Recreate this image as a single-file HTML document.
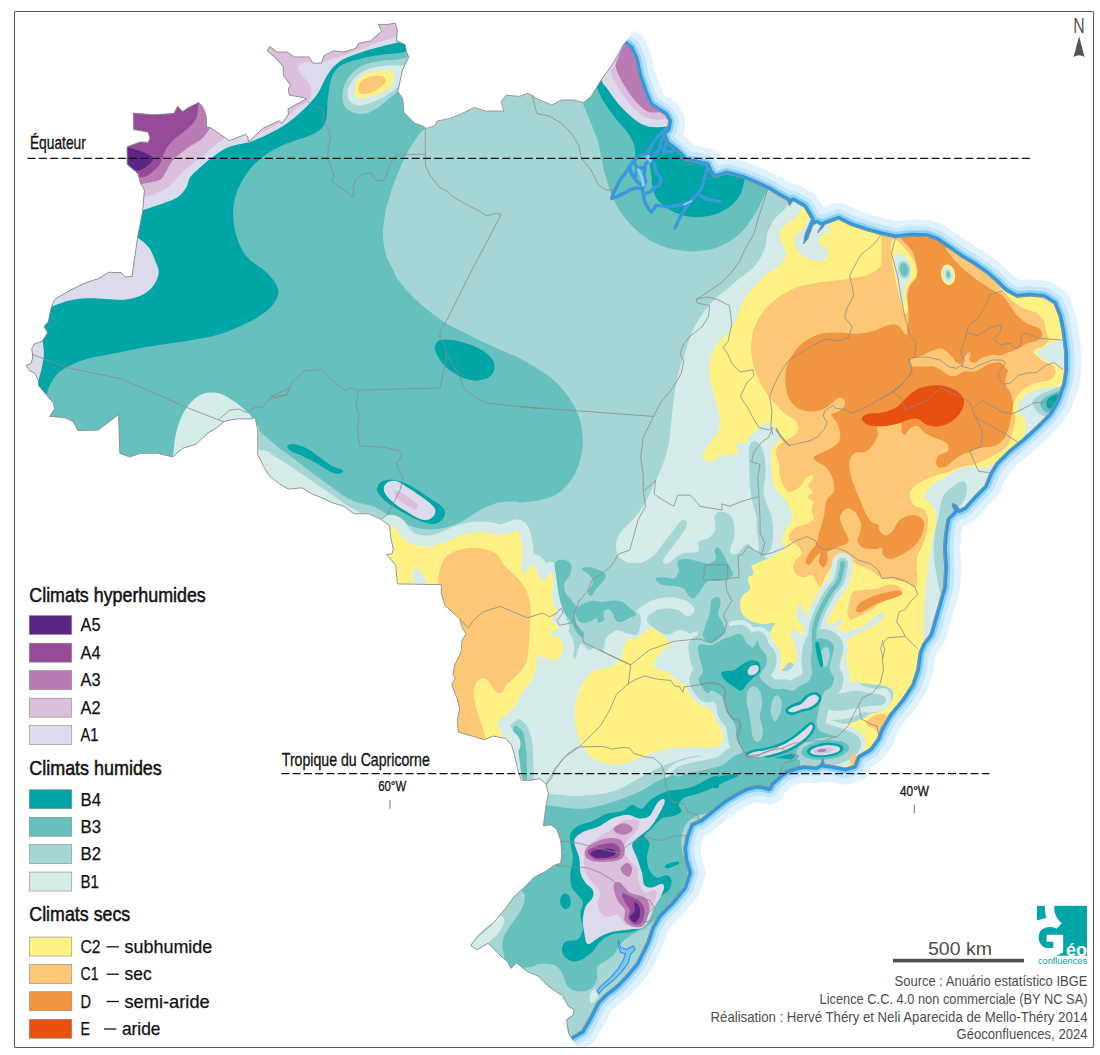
<!DOCTYPE html>
<html><head><meta charset="utf-8"><title>Climats du Brésil</title>
<style>
html,body{margin:0;padding:0;background:#fff;}
body{width:1100px;height:1055px;overflow:hidden;font-family:"Liberation Sans",sans-serif;}
svg{display:block;}
text{font-family:"Liberation Sans",sans-serif;}
</style></head><body>
<svg width="1100" height="1055" viewBox="0 0 1100 1055">
<defs>
<clipPath id="br"><path d="M133.3,113.1 L153.0,114.8 L173.9,113.6 L177.6,106.2 L182.6,111.6 L188.7,107.4 L198.6,102.5 L202.3,106.2 L206.0,114.8 L206.7,127.1 L210.9,127.9 L229.4,140.7 L245.4,134.5 L247.8,137.0 L248.6,141.9 L262.6,128.4 L278.6,121.0 L279.6,121.0 L282.0,123.4 L288.2,114.8 L288.2,108.7 L306.7,98.8 L303.0,97.6 L289.4,95.1 L288.2,89.0 L290.6,85.3 L283.3,75.4 L283.3,66.8 L274.6,56.9 L267.2,50.8 L269.7,46.6 L277.1,52.0 L286.9,52.0 L294.3,56.9 L309.1,56.9 L312.8,63.1 L321.4,63.1 L323.9,55.7 L333.7,50.8 L343.6,52.0 L355.9,48.3 L358.4,43.4 L370.7,40.9 L381.8,31.1 L378.1,24.4 L387.9,24.4 L395.3,23.0 L397.3,29.9 L396.6,40.9 L405.2,44.6 L406.4,52.0 L408.9,56.9 L402.7,69.3 L397.8,91.4 L402.7,98.8 L403.9,112.4 L415.0,123.4 L422.4,125.9 L426.1,128.4 L434.7,125.9 L437.2,121.0 L449.5,118.5 L461.8,113.6 L474.1,107.4 L486.5,111.1 L503.7,111.1 L501.2,101.3 L506.2,95.1 L519.7,96.4 L527.1,93.2 L532.0,95.1 L536.9,98.8 L551.7,105.0 L561.6,100.0 L573.9,100.0 L583.7,102.5 L591.1,96.4 L601.0,80.3 L610.8,66.8 L620.7,50.8 L624.4,43.4 L630.5,48.3 L635.5,59.4 L639.2,76.7 L645.3,93.9 L650.2,105.0 L657.6,109.9 L665.0,114.8 L668.7,121.0 L667.5,128.4 L662.6,133.3 L666.3,143.2 L672.4,148.1 L679.8,154.2 L684.7,160.4 L697.0,162.9 L706.9,165.3 L709.4,171.5 L714.3,177.6 L726.6,173.9 L741.4,177.6 L756.2,183.8 L769.7,190.0 L776.9,194.6 L788.0,200.8 L789.3,205.7 L793.0,200.8 L804.0,206.9 L811.4,219.3 L805.3,234.0 L803.5,243.9 L807.7,239.0 L812.7,225.4 L816.4,223.0 L821.3,225.4 L817.6,232.8 L822.5,227.9 L825.0,224.2 L838.5,219.3 L850.8,225.4 L865.6,230.3 L880.4,234.5 L895.2,237.7 L912.4,236.0 L927.2,236.5 L937.0,240.2 L949.4,248.8 L961.7,257.4 L974.0,264.8 L986.3,273.4 L996.2,282.1 L1004.8,290.7 L1016.9,297.3 L1029.7,296.0 L1043.7,297.3 L1054.0,303.7 L1059.1,316.5 L1062.1,331.9 L1064.7,352.3 L1064.7,370.2 L1062.9,383.0 L1056.5,400.9 L1048.8,413.7 L1036.1,426.5 L1022.0,439.3 L1007.9,450.8 L996.4,462.3 L990.0,472.6 L984.9,485.4 L974.3,496.1 L964.4,507.1 L959.5,509.6 L955.8,504.7 L952.1,504.7 L954.6,510.8 L947.2,518.2 L944.7,533.0 L943.5,547.8 L944.7,567.5 L943.5,587.2 L938.6,604.4 L933.6,621.7 L930.0,634.0 L922.6,643.8 L919.2,652.3 L916.7,669.6 L911.8,684.3 L902.0,699.1 L889.7,713.9 L881.0,728.7 L877.3,738.5 L870.0,748.4 L857.6,755.8 L853.9,765.6 L845.3,768.1 L833.0,765.6 L824.4,764.4 L822.7,758.2 L820.7,764.4 L815.8,766.8 L803.4,765.6 L793.6,768.1 L786.2,770.5 L781.3,774.2 L771.4,782.9 L769.0,787.8 L765.3,786.6 L756.7,785.3 L746.8,787.8 L736.9,792.7 L724.6,800.1 L712.3,810.0 L700.0,819.8 L691.2,823.4 L686.3,835.8 L683.8,848.1 L685.1,860.4 L688.8,872.7 L683.8,887.5 L671.5,902.3 L659.2,914.6 L651.8,926.9 L646.9,941.7 L636.4,962.9 L625.5,976.0 L614.6,986.9 L605.8,993.5 L597.1,1002.2 L590.6,1015.3 L581.8,1030.6 L570.9,1037.1 L568.7,1032.7 L566.6,1019.6 L573.1,1015.3 L574.2,1009.8 L568.7,1006.6 L562.2,995.6 L549.1,986.9 L538.2,976.0 L527.3,971.6 L516.4,962.9 L510.9,968.4 L507.6,961.8 L498.9,954.2 L488.0,943.3 L477.1,949.8 L470.5,945.5 L479.3,934.5 L494.5,921.5 L505.5,908.4 L514.2,896.4 L522.9,888.7 L531.6,880.0 L533.6,877.6 L543.4,872.7 L554.5,865.3 L560.7,862.9 L561.9,853.0 L560.7,840.7 L557.0,829.6 L550.8,824.7 L543.4,825.9 L545.9,806.2 L548.4,793.9 L545.9,784.0 L539.8,778.6 L531.1,780.3 L521.3,780.3 L517.6,769.3 L515.1,756.9 L511.4,744.6 L505.3,738.5 L493.0,736.0 L484.3,739.7 L472.0,736.0 L458.5,732.3 L457.2,720.0 L459.8,709.1 L457.3,699.2 L451.6,684.4 L455.6,678.3 L453.1,674.6 L454.8,664.7 L461.0,652.4 L462.2,640.1 L465.9,633.9 L462.2,627.8 L459.8,619.2 L456.1,615.5 L445.0,605.6 L441.3,593.3 L441.3,584.7 L397.4,583.9 L395.7,565.0 L386.6,554.6 L392.0,553.9 L393.3,549.0 L390.8,537.9 L389.6,525.6 L380.9,519.4 L368.5,513.7 L353.7,513.7 L343.9,506.3 L331.6,502.6 L321.7,497.7 L311.9,494.0 L302.0,487.8 L288.5,489.1 L279.9,484.1 L270.0,476.7 L263.8,466.9 L257.7,454.6 L257.7,430.0 L255.2,417.6 L250.3,418.9 L236.7,418.9 L224.4,421.3 L217.0,427.5 L207.2,433.6 L196.1,444.2 L182.6,448.4 L172.7,457.0 L157.9,453.3 L140.7,453.3 L129.6,457.0 L119.8,453.3 L118.5,414.7 L98.3,430.0 L77.9,430.7 L73.0,421.3 L64.3,417.6 L49.6,416.4 L54.5,409.0 L53.3,402.9 L45.9,394.2 L38.5,385.6 L38.5,380.7 L34.8,373.3 L29.9,370.8 L26.2,365.4 L31.1,363.4 L32.8,357.3 L31.8,348.7 L34.8,343.7 L42.2,341.3 L47.6,332.7 L44.1,326.5 L48.3,321.6 L50.8,309.3 L54.5,299.4 L69.3,290.8 L84.0,283.4 L98.8,278.5 L108.7,272.3 L121.0,272.8 L125.9,277.2 L132.1,276.0 L132.1,276.2 L137.7,236.7 L142.7,210.9 L144.4,190.0 L140.2,182.6 L138.2,173.9 L127.1,164.1 L127.1,146.8 L140.7,141.9 L148.1,142.4 L150.0,138.2 L148.1,132.1 L133.8,129.6Z"/></clipPath>
<clipPath id="sea"><path clip-rule="evenodd" d="M0,0H1100V1055H0Z M133.3,113.1 L153.0,114.8 L173.9,113.6 L177.6,106.2 L182.6,111.6 L188.7,107.4 L198.6,102.5 L202.3,106.2 L206.0,114.8 L206.7,127.1 L210.9,127.9 L229.4,140.7 L245.4,134.5 L247.8,137.0 L248.6,141.9 L262.6,128.4 L278.6,121.0 L279.6,121.0 L282.0,123.4 L288.2,114.8 L288.2,108.7 L306.7,98.8 L303.0,97.6 L289.4,95.1 L288.2,89.0 L290.6,85.3 L283.3,75.4 L283.3,66.8 L274.6,56.9 L267.2,50.8 L269.7,46.6 L277.1,52.0 L286.9,52.0 L294.3,56.9 L309.1,56.9 L312.8,63.1 L321.4,63.1 L323.9,55.7 L333.7,50.8 L343.6,52.0 L355.9,48.3 L358.4,43.4 L370.7,40.9 L381.8,31.1 L378.1,24.4 L387.9,24.4 L395.3,23.0 L397.3,29.9 L396.6,40.9 L405.2,44.6 L406.4,52.0 L408.9,56.9 L402.7,69.3 L397.8,91.4 L402.7,98.8 L403.9,112.4 L415.0,123.4 L422.4,125.9 L426.1,128.4 L434.7,125.9 L437.2,121.0 L449.5,118.5 L461.8,113.6 L474.1,107.4 L486.5,111.1 L503.7,111.1 L501.2,101.3 L506.2,95.1 L519.7,96.4 L527.1,93.2 L532.0,95.1 L536.9,98.8 L551.7,105.0 L561.6,100.0 L573.9,100.0 L583.7,102.5 L591.1,96.4 L601.0,80.3 L610.8,66.8 L620.7,50.8 L624.4,43.4 L630.5,48.3 L635.5,59.4 L639.2,76.7 L645.3,93.9 L650.2,105.0 L657.6,109.9 L665.0,114.8 L668.7,121.0 L667.5,128.4 L662.6,133.3 L666.3,143.2 L672.4,148.1 L679.8,154.2 L684.7,160.4 L697.0,162.9 L706.9,165.3 L709.4,171.5 L714.3,177.6 L726.6,173.9 L741.4,177.6 L756.2,183.8 L769.7,190.0 L776.9,194.6 L788.0,200.8 L789.3,205.7 L793.0,200.8 L804.0,206.9 L811.4,219.3 L805.3,234.0 L803.5,243.9 L807.7,239.0 L812.7,225.4 L816.4,223.0 L821.3,225.4 L817.6,232.8 L822.5,227.9 L825.0,224.2 L838.5,219.3 L850.8,225.4 L865.6,230.3 L880.4,234.5 L895.2,237.7 L912.4,236.0 L927.2,236.5 L937.0,240.2 L949.4,248.8 L961.7,257.4 L974.0,264.8 L986.3,273.4 L996.2,282.1 L1004.8,290.7 L1016.9,297.3 L1029.7,296.0 L1043.7,297.3 L1054.0,303.7 L1059.1,316.5 L1062.1,331.9 L1064.7,352.3 L1064.7,370.2 L1062.9,383.0 L1056.5,400.9 L1048.8,413.7 L1036.1,426.5 L1022.0,439.3 L1007.9,450.8 L996.4,462.3 L990.0,472.6 L984.9,485.4 L974.3,496.1 L964.4,507.1 L959.5,509.6 L955.8,504.7 L952.1,504.7 L954.6,510.8 L947.2,518.2 L944.7,533.0 L943.5,547.8 L944.7,567.5 L943.5,587.2 L938.6,604.4 L933.6,621.7 L930.0,634.0 L922.6,643.8 L919.2,652.3 L916.7,669.6 L911.8,684.3 L902.0,699.1 L889.7,713.9 L881.0,728.7 L877.3,738.5 L870.0,748.4 L857.6,755.8 L853.9,765.6 L845.3,768.1 L833.0,765.6 L824.4,764.4 L822.7,758.2 L820.7,764.4 L815.8,766.8 L803.4,765.6 L793.6,768.1 L786.2,770.5 L781.3,774.2 L771.4,782.9 L769.0,787.8 L765.3,786.6 L756.7,785.3 L746.8,787.8 L736.9,792.7 L724.6,800.1 L712.3,810.0 L700.0,819.8 L691.2,823.4 L686.3,835.8 L683.8,848.1 L685.1,860.4 L688.8,872.7 L683.8,887.5 L671.5,902.3 L659.2,914.6 L651.8,926.9 L646.9,941.7 L636.4,962.9 L625.5,976.0 L614.6,986.9 L605.8,993.5 L597.1,1002.2 L590.6,1015.3 L581.8,1030.6 L570.9,1037.1 L568.7,1032.7 L566.6,1019.6 L573.1,1015.3 L574.2,1009.8 L568.7,1006.6 L562.2,995.6 L549.1,986.9 L538.2,976.0 L527.3,971.6 L516.4,962.9 L510.9,968.4 L507.6,961.8 L498.9,954.2 L488.0,943.3 L477.1,949.8 L470.5,945.5 L479.3,934.5 L494.5,921.5 L505.5,908.4 L514.2,896.4 L522.9,888.7 L531.6,880.0 L533.6,877.6 L543.4,872.7 L554.5,865.3 L560.7,862.9 L561.9,853.0 L560.7,840.7 L557.0,829.6 L550.8,824.7 L543.4,825.9 L545.9,806.2 L548.4,793.9 L545.9,784.0 L539.8,778.6 L531.1,780.3 L521.3,780.3 L517.6,769.3 L515.1,756.9 L511.4,744.6 L505.3,738.5 L493.0,736.0 L484.3,739.7 L472.0,736.0 L458.5,732.3 L457.2,720.0 L459.8,709.1 L457.3,699.2 L451.6,684.4 L455.6,678.3 L453.1,674.6 L454.8,664.7 L461.0,652.4 L462.2,640.1 L465.9,633.9 L462.2,627.8 L459.8,619.2 L456.1,615.5 L445.0,605.6 L441.3,593.3 L441.3,584.7 L397.4,583.9 L395.7,565.0 L386.6,554.6 L392.0,553.9 L393.3,549.0 L390.8,537.9 L389.6,525.6 L380.9,519.4 L368.5,513.7 L353.7,513.7 L343.9,506.3 L331.6,502.6 L321.7,497.7 L311.9,494.0 L302.0,487.8 L288.5,489.1 L279.9,484.1 L270.0,476.7 L263.8,466.9 L257.7,454.6 L257.7,430.0 L255.2,417.6 L250.3,418.9 L236.7,418.9 L224.4,421.3 L217.0,427.5 L207.2,433.6 L196.1,444.2 L182.6,448.4 L172.7,457.0 L157.9,453.3 L140.7,453.3 L129.6,457.0 L119.8,453.3 L118.5,414.7 L98.3,430.0 L77.9,430.7 L73.0,421.3 L64.3,417.6 L49.6,416.4 L54.5,409.0 L53.3,402.9 L45.9,394.2 L38.5,385.6 L38.5,380.7 L34.8,373.3 L29.9,370.8 L26.2,365.4 L31.1,363.4 L32.8,357.3 L31.8,348.7 L34.8,343.7 L42.2,341.3 L47.6,332.7 L44.1,326.5 L48.3,321.6 L50.8,309.3 L54.5,299.4 L69.3,290.8 L84.0,283.4 L98.8,278.5 L108.7,272.3 L121.0,272.8 L125.9,277.2 L132.1,276.0 L132.1,276.2 L137.7,236.7 L142.7,210.9 L144.4,190.0 L140.2,182.6 L138.2,173.9 L127.1,164.1 L127.1,146.8 L140.7,141.9 L148.1,142.4 L150.0,138.2 L148.1,132.1 L133.8,129.6Z"/></clipPath>
<clipPath id="frame"><rect x="14.5" y="11.5" width="1079" height="1036"/></clipPath>
</defs>
<rect x="0" y="0" width="1100" height="1055" fill="#fff"/>
<!-- coastal halo -->
<g clip-path="url(#frame)"><g clip-path="url(#sea)" fill="none" stroke-linejoin="round" stroke-linecap="butt">
<path d="M624.4,43.4 L630.5,48.3 L635.5,59.4 L639.2,76.7 L645.3,93.9 L650.2,105.0 L657.6,109.9 L665.0,114.8 L668.7,121.0 L667.5,128.4 L662.6,133.3 L666.3,143.2 L672.4,148.1 L679.8,154.2 L684.7,160.4 L697.0,162.9 L706.9,165.3 L709.4,171.5 L714.3,177.6 L726.6,173.9 L741.4,177.6 L756.2,183.8 L769.7,190.0 L776.9,194.6 L788.0,200.8 L789.3,205.7 L793.0,200.8 L804.0,206.9 L811.4,219.3 L805.3,234.0 L803.5,243.9 L807.7,239.0 L812.7,225.4 L816.4,223.0 L821.3,225.4 L817.6,232.8 L822.5,227.9 L825.0,224.2 L838.5,219.3 L850.8,225.4 L865.6,230.3 L880.4,234.5 L895.2,237.7 L912.4,236.0 L927.2,236.5 L937.0,240.2 L949.4,248.8 L961.7,257.4 L974.0,264.8 L986.3,273.4 L996.2,282.1 L1004.8,290.7 L1016.9,297.3 L1029.7,296.0 L1043.7,297.3 L1054.0,303.7 L1059.1,316.5 L1062.1,331.9 L1064.7,352.3 L1064.7,370.2 L1062.9,383.0 L1056.5,400.9 L1048.8,413.7 L1036.1,426.5 L1022.0,439.3 L1007.9,450.8 L996.4,462.3 L990.0,472.6 L984.9,485.4 L974.3,496.1 L964.4,507.1 L959.5,509.6 L955.8,504.7 L952.1,504.7 L954.6,510.8 L947.2,518.2 L944.7,533.0 L943.5,547.8 L944.7,567.5 L943.5,587.2 L938.6,604.4 L933.6,621.7 L930.0,634.0 L922.6,643.8 L919.2,652.3 L916.7,669.6 L911.8,684.3 L902.0,699.1 L889.7,713.9 L881.0,728.7 L877.3,738.5 L870.0,748.4 L857.6,755.8 L853.9,765.6 L845.3,768.1 L833.0,765.6 L824.4,764.4 L822.7,758.2 L820.7,764.4 L815.8,766.8 L803.4,765.6 L793.6,768.1 L786.2,770.5 L781.3,774.2 L771.4,782.9 L769.0,787.8 L765.3,786.6 L756.7,785.3 L746.8,787.8 L736.9,792.7 L724.6,800.1 L712.3,810.0 L700.0,819.8 L691.2,823.4 L686.3,835.8 L683.8,848.1 L685.1,860.4 L688.8,872.7 L683.8,887.5 L671.5,902.3 L659.2,914.6 L651.8,926.9 L646.9,941.7 L636.4,962.9 L625.5,976.0 L614.6,986.9 L605.8,993.5 L597.1,1002.2 L590.6,1015.3 L581.8,1030.6 L570.9,1037.1" stroke="#e0f2fd" stroke-width="33"/>
<path d="M624.4,43.4 L630.5,48.3 L635.5,59.4 L639.2,76.7 L645.3,93.9 L650.2,105.0 L657.6,109.9 L665.0,114.8 L668.7,121.0 L667.5,128.4 L662.6,133.3 L666.3,143.2 L672.4,148.1 L679.8,154.2 L684.7,160.4 L697.0,162.9 L706.9,165.3 L709.4,171.5 L714.3,177.6 L726.6,173.9 L741.4,177.6 L756.2,183.8 L769.7,190.0 L776.9,194.6 L788.0,200.8 L789.3,205.7 L793.0,200.8 L804.0,206.9 L811.4,219.3 L805.3,234.0 L803.5,243.9 L807.7,239.0 L812.7,225.4 L816.4,223.0 L821.3,225.4 L817.6,232.8 L822.5,227.9 L825.0,224.2 L838.5,219.3 L850.8,225.4 L865.6,230.3 L880.4,234.5 L895.2,237.7 L912.4,236.0 L927.2,236.5 L937.0,240.2 L949.4,248.8 L961.7,257.4 L974.0,264.8 L986.3,273.4 L996.2,282.1 L1004.8,290.7 L1016.9,297.3 L1029.7,296.0 L1043.7,297.3 L1054.0,303.7 L1059.1,316.5 L1062.1,331.9 L1064.7,352.3 L1064.7,370.2 L1062.9,383.0 L1056.5,400.9 L1048.8,413.7 L1036.1,426.5 L1022.0,439.3 L1007.9,450.8 L996.4,462.3 L990.0,472.6 L984.9,485.4 L974.3,496.1 L964.4,507.1 L959.5,509.6 L955.8,504.7 L952.1,504.7 L954.6,510.8 L947.2,518.2 L944.7,533.0 L943.5,547.8 L944.7,567.5 L943.5,587.2 L938.6,604.4 L933.6,621.7 L930.0,634.0 L922.6,643.8 L919.2,652.3 L916.7,669.6 L911.8,684.3 L902.0,699.1 L889.7,713.9 L881.0,728.7 L877.3,738.5 L870.0,748.4 L857.6,755.8 L853.9,765.6 L845.3,768.1 L833.0,765.6 L824.4,764.4 L822.7,758.2 L820.7,764.4 L815.8,766.8 L803.4,765.6 L793.6,768.1 L786.2,770.5 L781.3,774.2 L771.4,782.9 L769.0,787.8 L765.3,786.6 L756.7,785.3 L746.8,787.8 L736.9,792.7 L724.6,800.1 L712.3,810.0 L700.0,819.8 L691.2,823.4 L686.3,835.8 L683.8,848.1 L685.1,860.4 L688.8,872.7 L683.8,887.5 L671.5,902.3 L659.2,914.6 L651.8,926.9 L646.9,941.7 L636.4,962.9 L625.5,976.0 L614.6,986.9 L605.8,993.5 L597.1,1002.2 L590.6,1015.3 L581.8,1030.6 L570.9,1037.1" stroke="#c5e6fb" stroke-width="19.5"/>
<path d="M624.4,43.4 L630.5,48.3 L635.5,59.4 L639.2,76.7 L645.3,93.9 L650.2,105.0 L657.6,109.9 L665.0,114.8 L668.7,121.0 L667.5,128.4 L662.6,133.3 L666.3,143.2 L672.4,148.1 L679.8,154.2 L684.7,160.4 L697.0,162.9 L706.9,165.3 L709.4,171.5 L714.3,177.6 L726.6,173.9 L741.4,177.6 L756.2,183.8 L769.7,190.0 L776.9,194.6 L788.0,200.8 L789.3,205.7 L793.0,200.8 L804.0,206.9 L811.4,219.3 L805.3,234.0 L803.5,243.9 L807.7,239.0 L812.7,225.4 L816.4,223.0 L821.3,225.4 L817.6,232.8 L822.5,227.9 L825.0,224.2 L838.5,219.3 L850.8,225.4 L865.6,230.3 L880.4,234.5 L895.2,237.7 L912.4,236.0 L927.2,236.5 L937.0,240.2 L949.4,248.8 L961.7,257.4 L974.0,264.8 L986.3,273.4 L996.2,282.1 L1004.8,290.7 L1016.9,297.3 L1029.7,296.0 L1043.7,297.3 L1054.0,303.7 L1059.1,316.5 L1062.1,331.9 L1064.7,352.3 L1064.7,370.2 L1062.9,383.0 L1056.5,400.9 L1048.8,413.7 L1036.1,426.5 L1022.0,439.3 L1007.9,450.8 L996.4,462.3 L990.0,472.6 L984.9,485.4 L974.3,496.1 L964.4,507.1 L959.5,509.6 L955.8,504.7 L952.1,504.7 L954.6,510.8 L947.2,518.2 L944.7,533.0 L943.5,547.8 L944.7,567.5 L943.5,587.2 L938.6,604.4 L933.6,621.7 L930.0,634.0 L922.6,643.8 L919.2,652.3 L916.7,669.6 L911.8,684.3 L902.0,699.1 L889.7,713.9 L881.0,728.7 L877.3,738.5 L870.0,748.4 L857.6,755.8 L853.9,765.6 L845.3,768.1 L833.0,765.6 L824.4,764.4 L822.7,758.2 L820.7,764.4 L815.8,766.8 L803.4,765.6 L793.6,768.1 L786.2,770.5 L781.3,774.2 L771.4,782.9 L769.0,787.8 L765.3,786.6 L756.7,785.3 L746.8,787.8 L736.9,792.7 L724.6,800.1 L712.3,810.0 L700.0,819.8 L691.2,823.4 L686.3,835.8 L683.8,848.1 L685.1,860.4 L688.8,872.7 L683.8,887.5 L671.5,902.3 L659.2,914.6 L651.8,926.9 L646.9,941.7 L636.4,962.9 L625.5,976.0 L614.6,986.9 L605.8,993.5 L597.1,1002.2 L590.6,1015.3 L581.8,1030.6 L570.9,1037.1" stroke="#8ecff5" stroke-width="11.5"/>
<path d="M624.4,43.4 L630.5,48.3 L635.5,59.4 L639.2,76.7 L645.3,93.9 L650.2,105.0 L657.6,109.9 L665.0,114.8 L668.7,121.0 L667.5,128.4 L662.6,133.3 L666.3,143.2 L672.4,148.1 L679.8,154.2 L684.7,160.4 L697.0,162.9 L706.9,165.3 L709.4,171.5 L714.3,177.6 L726.6,173.9 L741.4,177.6 L756.2,183.8 L769.7,190.0 L776.9,194.6 L788.0,200.8 L789.3,205.7 L793.0,200.8 L804.0,206.9 L811.4,219.3 L805.3,234.0 L803.5,243.9 L807.7,239.0 L812.7,225.4 L816.4,223.0 L821.3,225.4 L817.6,232.8 L822.5,227.9 L825.0,224.2 L838.5,219.3 L850.8,225.4 L865.6,230.3 L880.4,234.5 L895.2,237.7 L912.4,236.0 L927.2,236.5 L937.0,240.2 L949.4,248.8 L961.7,257.4 L974.0,264.8 L986.3,273.4 L996.2,282.1 L1004.8,290.7 L1016.9,297.3 L1029.7,296.0 L1043.7,297.3 L1054.0,303.7 L1059.1,316.5 L1062.1,331.9 L1064.7,352.3 L1064.7,370.2 L1062.9,383.0 L1056.5,400.9 L1048.8,413.7 L1036.1,426.5 L1022.0,439.3 L1007.9,450.8 L996.4,462.3 L990.0,472.6 L984.9,485.4 L974.3,496.1 L964.4,507.1 L959.5,509.6 L955.8,504.7 L952.1,504.7 L954.6,510.8 L947.2,518.2 L944.7,533.0 L943.5,547.8 L944.7,567.5 L943.5,587.2 L938.6,604.4 L933.6,621.7 L930.0,634.0 L922.6,643.8 L919.2,652.3 L916.7,669.6 L911.8,684.3 L902.0,699.1 L889.7,713.9 L881.0,728.7 L877.3,738.5 L870.0,748.4 L857.6,755.8 L853.9,765.6 L845.3,768.1 L833.0,765.6 L824.4,764.4 L822.7,758.2 L820.7,764.4 L815.8,766.8 L803.4,765.6 L793.6,768.1 L786.2,770.5 L781.3,774.2 L771.4,782.9 L769.0,787.8 L765.3,786.6 L756.7,785.3 L746.8,787.8 L736.9,792.7 L724.6,800.1 L712.3,810.0 L700.0,819.8 L691.2,823.4 L686.3,835.8 L683.8,848.1 L685.1,860.4 L688.8,872.7 L683.8,887.5 L671.5,902.3 L659.2,914.6 L651.8,926.9 L646.9,941.7 L636.4,962.9 L625.5,976.0 L614.6,986.9 L605.8,993.5 L597.1,1002.2 L590.6,1015.3 L581.8,1030.6 L570.9,1037.1" stroke="#2d9ae0" stroke-width="6.6"/>
</g></g>
<g clip-path="url(#br)">
<path d="M133.3,113.1 L153.0,114.8 L173.9,113.6 L177.6,106.2 L182.6,111.6 L188.7,107.4 L198.6,102.5 L202.3,106.2 L206.0,114.8 L206.7,127.1 L210.9,127.9 L229.4,140.7 L245.4,134.5 L247.8,137.0 L248.6,141.9 L262.6,128.4 L278.6,121.0 L279.6,121.0 L282.0,123.4 L288.2,114.8 L288.2,108.7 L306.7,98.8 L303.0,97.6 L289.4,95.1 L288.2,89.0 L290.6,85.3 L283.3,75.4 L283.3,66.8 L274.6,56.9 L267.2,50.8 L269.7,46.6 L277.1,52.0 L286.9,52.0 L294.3,56.9 L309.1,56.9 L312.8,63.1 L321.4,63.1 L323.9,55.7 L333.7,50.8 L343.6,52.0 L355.9,48.3 L358.4,43.4 L370.7,40.9 L381.8,31.1 L378.1,24.4 L387.9,24.4 L395.3,23.0 L397.3,29.9 L396.6,40.9 L405.2,44.6 L406.4,52.0 L408.9,56.9 L402.7,69.3 L397.8,91.4 L402.7,98.8 L403.9,112.4 L415.0,123.4 L422.4,125.9 L426.1,128.4 L434.7,125.9 L437.2,121.0 L449.5,118.5 L461.8,113.6 L474.1,107.4 L486.5,111.1 L503.7,111.1 L501.2,101.3 L506.2,95.1 L519.7,96.4 L527.1,93.2 L532.0,95.1 L536.9,98.8 L551.7,105.0 L561.6,100.0 L573.9,100.0 L583.7,102.5 L591.1,96.4 L601.0,80.3 L610.8,66.8 L620.7,50.8 L624.4,43.4 L630.5,48.3 L635.5,59.4 L639.2,76.7 L645.3,93.9 L650.2,105.0 L657.6,109.9 L665.0,114.8 L668.7,121.0 L667.5,128.4 L662.6,133.3 L666.3,143.2 L672.4,148.1 L679.8,154.2 L684.7,160.4 L697.0,162.9 L706.9,165.3 L709.4,171.5 L714.3,177.6 L726.6,173.9 L741.4,177.6 L756.2,183.8 L769.7,190.0 L776.9,194.6 L788.0,200.8 L789.3,205.7 L793.0,200.8 L804.0,206.9 L811.4,219.3 L805.3,234.0 L803.5,243.9 L807.7,239.0 L812.7,225.4 L816.4,223.0 L821.3,225.4 L817.6,232.8 L822.5,227.9 L825.0,224.2 L838.5,219.3 L850.8,225.4 L865.6,230.3 L880.4,234.5 L895.2,237.7 L912.4,236.0 L927.2,236.5 L937.0,240.2 L949.4,248.8 L961.7,257.4 L974.0,264.8 L986.3,273.4 L996.2,282.1 L1004.8,290.7 L1016.9,297.3 L1029.7,296.0 L1043.7,297.3 L1054.0,303.7 L1059.1,316.5 L1062.1,331.9 L1064.7,352.3 L1064.7,370.2 L1062.9,383.0 L1056.5,400.9 L1048.8,413.7 L1036.1,426.5 L1022.0,439.3 L1007.9,450.8 L996.4,462.3 L990.0,472.6 L984.9,485.4 L974.3,496.1 L964.4,507.1 L959.5,509.6 L955.8,504.7 L952.1,504.7 L954.6,510.8 L947.2,518.2 L944.7,533.0 L943.5,547.8 L944.7,567.5 L943.5,587.2 L938.6,604.4 L933.6,621.7 L930.0,634.0 L922.6,643.8 L919.2,652.3 L916.7,669.6 L911.8,684.3 L902.0,699.1 L889.7,713.9 L881.0,728.7 L877.3,738.5 L870.0,748.4 L857.6,755.8 L853.9,765.6 L845.3,768.1 L833.0,765.6 L824.4,764.4 L822.7,758.2 L820.7,764.4 L815.8,766.8 L803.4,765.6 L793.6,768.1 L786.2,770.5 L781.3,774.2 L771.4,782.9 L769.0,787.8 L765.3,786.6 L756.7,785.3 L746.8,787.8 L736.9,792.7 L724.6,800.1 L712.3,810.0 L700.0,819.8 L691.2,823.4 L686.3,835.8 L683.8,848.1 L685.1,860.4 L688.8,872.7 L683.8,887.5 L671.5,902.3 L659.2,914.6 L651.8,926.9 L646.9,941.7 L636.4,962.9 L625.5,976.0 L614.6,986.9 L605.8,993.5 L597.1,1002.2 L590.6,1015.3 L581.8,1030.6 L570.9,1037.1 L568.7,1032.7 L566.6,1019.6 L573.1,1015.3 L574.2,1009.8 L568.7,1006.6 L562.2,995.6 L549.1,986.9 L538.2,976.0 L527.3,971.6 L516.4,962.9 L510.9,968.4 L507.6,961.8 L498.9,954.2 L488.0,943.3 L477.1,949.8 L470.5,945.5 L479.3,934.5 L494.5,921.5 L505.5,908.4 L514.2,896.4 L522.9,888.7 L531.6,880.0 L533.6,877.6 L543.4,872.7 L554.5,865.3 L560.7,862.9 L561.9,853.0 L560.7,840.7 L557.0,829.6 L550.8,824.7 L543.4,825.9 L545.9,806.2 L548.4,793.9 L545.9,784.0 L539.8,778.6 L531.1,780.3 L521.3,780.3 L517.6,769.3 L515.1,756.9 L511.4,744.6 L505.3,738.5 L493.0,736.0 L484.3,739.7 L472.0,736.0 L458.5,732.3 L457.2,720.0 L459.8,709.1 L457.3,699.2 L451.6,684.4 L455.6,678.3 L453.1,674.6 L454.8,664.7 L461.0,652.4 L462.2,640.1 L465.9,633.9 L462.2,627.8 L459.8,619.2 L456.1,615.5 L445.0,605.6 L441.3,593.3 L441.3,584.7 L397.4,583.9 L395.7,565.0 L386.6,554.6 L392.0,553.9 L393.3,549.0 L390.8,537.9 L389.6,525.6 L380.9,519.4 L368.5,513.7 L353.7,513.7 L343.9,506.3 L331.6,502.6 L321.7,497.7 L311.9,494.0 L302.0,487.8 L288.5,489.1 L279.9,484.1 L270.0,476.7 L263.8,466.9 L257.7,454.6 L257.7,430.0 L255.2,417.6 L250.3,418.9 L236.7,418.9 L224.4,421.3 L217.0,427.5 L207.2,433.6 L196.1,444.2 L182.6,448.4 L172.7,457.0 L157.9,453.3 L140.7,453.3 L129.6,457.0 L119.8,453.3 L118.5,414.7 L98.3,430.0 L77.9,430.7 L73.0,421.3 L64.3,417.6 L49.6,416.4 L54.5,409.0 L53.3,402.9 L45.9,394.2 L38.5,385.6 L38.5,380.7 L34.8,373.3 L29.9,370.8 L26.2,365.4 L31.1,363.4 L32.8,357.3 L31.8,348.7 L34.8,343.7 L42.2,341.3 L47.6,332.7 L44.1,326.5 L48.3,321.6 L50.8,309.3 L54.5,299.4 L69.3,290.8 L84.0,283.4 L98.8,278.5 L108.7,272.3 L121.0,272.8 L125.9,277.2 L132.1,276.0 L132.1,276.2 L137.7,236.7 L142.7,210.9 L144.4,190.0 L140.2,182.6 L138.2,173.9 L127.1,164.1 L127.1,146.8 L140.7,141.9 L148.1,142.4 L150.0,138.2 L148.1,132.1 L133.8,129.6Z" fill="#a5d6d5"/>
<path fill="#66c0be" d="M426.1,128.4 C425.1,129.2 422.7,130.0 420.0,133.3 C417.3,136.6 413.4,142.3 410.1,148.1 C406.8,153.8 403.3,160.8 400.2,167.8 C397.1,174.8 394.1,182.6 391.6,190.0 C389.2,197.4 386.9,204.3 385.5,212.1 C384.1,219.9 382.8,229.3 383.0,236.7 C383.2,244.1 385.0,251.0 386.7,256.5 C388.4,262.0 391.3,266.0 393.2,269.9 C395.1,273.8 394.8,275.2 398.1,279.7 C401.4,284.2 407.6,291.6 412.9,296.9 C418.2,302.2 424.4,307.2 430.1,311.7 C435.8,316.2 441.2,320.3 447.3,324.0 C453.4,327.7 460.4,330.6 467.0,333.9 C473.6,337.2 480.1,340.6 486.7,343.7 C493.3,346.8 500.9,349.9 506.5,352.4 C512.0,354.9 514.9,355.8 520.0,358.5 C525.1,361.2 531.5,364.7 537.2,368.4 C543.0,372.1 549.1,375.8 554.5,380.7 C559.9,385.6 565.2,391.8 569.3,397.9 C573.4,404.0 576.9,410.6 579.1,417.6 C581.4,424.6 582.6,432.8 582.8,439.8 C583.0,446.8 582.1,452.9 580.3,459.5 C578.4,466.1 575.6,473.4 571.7,479.2 C567.8,484.9 562.2,490.5 556.9,494.0 C551.6,497.5 545.9,498.7 539.7,500.1 C533.6,501.5 523.9,502.4 520.0,502.6 C516.1,502.8 519.8,501.4 516.3,501.4 C512.8,501.4 504.9,501.4 499.1,502.6 C493.4,503.8 484.5,507.9 481.8,508.8 C479.1,509.8 485.0,507.1 483.2,508.3 C481.4,509.5 474.9,513.2 470.8,515.7 C466.7,518.2 463.0,521.1 458.5,523.1 C454.0,525.1 449.0,527.0 443.7,528.0 C438.4,529.0 432.2,529.7 426.5,529.3 C420.8,528.9 415.1,527.7 409.3,525.6 C403.6,523.5 397.8,520.0 392.0,516.9 C386.2,513.8 381.6,509.9 374.8,507.1 C368.0,504.3 359.7,504.3 351.3,500.1 C342.9,495.9 332.0,487.2 324.2,481.7 C316.4,476.2 311.1,471.8 304.5,466.9 C297.9,462.0 290.6,456.4 284.8,452.1 C279.1,447.8 271.0,441.8 270.0,441.0 C269.0,440.2 279.2,447.8 278.6,447.2 C278.0,446.6 270.0,440.6 266.3,437.3 C262.6,434.0 259.4,430.4 256.5,427.5 C253.6,424.6 250.3,421.3 249.1,420.1 L245.0,520.0 L0.0,520.0 L0.0,0.0 L440.0,0.0 L440.0,100.0Z"/>
<path fill="#00a5a5" d="M410.1,50.8 C408.1,51.2 402.3,52.7 397.8,53.3 C393.3,53.9 387.9,53.9 383.0,54.5 C378.1,55.1 373.1,55.9 368.2,56.9 C363.3,57.9 357.9,59.2 353.4,60.6 C348.9,62.0 344.4,63.5 341.1,65.6 C337.8,67.7 335.6,69.9 333.7,73.0 C331.8,76.1 331.0,79.3 330.0,84.0 C329.0,88.7 328.2,95.5 327.6,101.3 C327.0,107.0 327.4,114.0 326.4,118.5 C325.4,123.0 324.3,125.5 321.4,128.4 C318.5,131.3 313.6,133.8 309.1,135.8 C304.6,137.9 299.2,138.9 294.3,140.7 C289.4,142.5 284.5,144.3 279.6,146.8 C274.7,149.3 269.9,151.6 264.8,155.5 C259.7,159.4 253.8,164.0 249.1,170.2 C244.4,176.3 239.4,185.0 236.7,192.4 C234.0,199.8 233.1,207.2 233.1,214.6 C233.1,222.0 234.4,229.7 236.7,236.7 C238.9,243.7 241.7,250.6 246.6,256.5 C251.5,262.4 261.4,267.6 266.3,272.3 C271.2,277.0 274.2,280.9 276.2,284.6 C278.2,288.3 278.9,290.8 278.1,294.5 C277.3,298.2 274.8,302.9 271.2,306.8 C267.6,310.7 262.2,314.4 256.5,317.9 C250.8,321.4 243.3,324.8 236.7,327.7 C230.1,330.6 224.4,333.1 217.0,335.1 C209.6,337.2 200.6,338.6 192.4,340.0 C184.2,341.4 176.0,342.5 167.8,343.7 C159.6,344.9 151.4,345.9 143.2,347.4 C135.0,348.8 126.7,350.8 118.5,352.4 C110.3,354.0 101.3,355.5 93.9,357.3 C86.5,359.1 80.0,360.9 74.2,363.4 C68.5,365.9 63.3,368.8 59.4,372.1 C55.5,375.4 52.9,379.5 50.8,383.2 C48.7,386.9 47.6,390.9 46.6,394.2 C45.6,397.5 44.9,401.4 44.6,402.9 L0.0,420.0 L0.0,0.0 L420.0,0.0Z"/>
<path fill="#dddaec" d="M402.7,40.9 C401.7,41.2 399.9,41.9 396.6,42.7 C393.3,43.5 387.7,44.7 383.0,45.9 C378.3,47.1 373.1,48.5 368.2,50.0 C363.3,51.5 357.9,53.2 353.4,55.0 C348.9,56.8 344.8,58.2 341.1,60.6 C337.4,63.0 334.2,65.8 331.3,69.3 C328.4,72.8 325.9,77.9 323.9,81.6 C321.8,85.3 321.1,88.1 319.0,91.4 C316.9,94.7 314.9,97.6 311.6,101.3 C308.3,105.0 303.4,109.9 299.3,113.6 C295.2,117.3 291.0,120.5 286.9,123.4 C282.8,126.3 278.7,128.5 274.6,130.8 C270.5,133.1 266.4,135.2 262.3,137.0 C258.2,138.8 252.4,141.0 250.0,141.9 C247.6,142.8 251.2,141.6 247.8,142.4 C244.4,143.2 234.9,144.6 229.4,146.8 C223.9,149.0 219.5,152.0 214.6,155.5 C209.7,159.0 203.9,164.1 199.8,167.8 C195.7,171.5 192.2,174.3 190.0,177.6 C187.8,180.9 188.4,184.2 186.3,187.5 C184.2,190.8 181.5,194.6 177.6,197.3 C173.7,200.0 167.8,201.7 162.9,203.5 C158.0,205.3 152.2,207.0 148.1,208.4 C144.0,209.8 139.8,211.5 138.2,212.1 L100.0,215.0 L0.0,215.0 L0.0,0.0 L420.0,0.0Z"/>
<path fill="#dddaec" d="M133.3,234.3 C135.8,236.4 144.4,242.1 148.1,246.6 C151.8,251.1 153.7,257.1 155.5,261.4 C157.3,265.7 158.9,268.4 158.7,272.3 C158.5,276.2 156.8,280.9 154.2,284.6 C151.6,288.3 147.9,292.0 143.2,294.5 C138.5,297.0 132.1,298.7 125.9,299.4 C119.7,300.1 112.8,299.1 106.2,298.9 C99.6,298.7 92.7,297.9 86.5,298.2 C80.3,298.5 74.6,299.4 69.3,300.6 C64.0,301.8 58.6,304.2 54.5,305.6 C50.4,307.1 46.2,308.7 44.6,309.3 L20.0,300.0 L20.0,230.0Z"/>
<path fill="#dddaec" d="M43.4,336.4 C43.3,337.1 42.6,337.9 42.7,340.8 C42.8,343.7 44.0,349.4 43.9,353.6 C43.8,357.8 43.1,361.4 42.2,365.9 C41.3,370.4 39.3,377.4 38.5,380.7 C37.7,384.0 37.4,384.8 37.2,385.6 L0.0,400.0 L0.0,320.0Z"/>
<path fill="#dcbedd" d="M397.8,36.0 C397.4,36.2 397.8,36.4 395.3,37.2 C392.8,38.0 387.5,39.5 383.0,40.9 C378.5,42.3 373.1,44.0 368.2,45.9 C363.3,47.8 358.3,50.2 353.4,52.0 C348.5,53.8 343.2,55.5 338.7,56.9 C334.2,58.3 329.7,59.4 326.4,60.6 C323.1,61.8 321.9,64.1 319.0,64.3 C316.1,64.5 312.2,61.9 309.1,61.9 C306.0,61.9 302.4,63.1 300.5,64.3 C298.6,65.5 297.6,67.2 298.0,69.3 C298.4,71.4 301.1,74.2 303.0,76.7 C304.9,79.2 307.7,81.1 309.1,84.0 C310.5,86.9 311.8,91.0 311.6,93.9 C311.4,96.8 308.9,99.9 307.9,101.3 C306.9,102.7 307.7,101.1 305.4,102.5 C303.1,103.9 297.4,107.4 294.3,109.9 C291.2,112.4 289.8,114.8 286.9,117.3 C284.0,119.8 280.8,122.5 277.1,124.7 C273.4,127.0 268.5,129.0 264.8,130.8 C261.1,132.7 255.3,135.7 254.9,135.8 C254.5,135.9 263.8,130.1 262.6,131.3 C261.4,132.5 250.3,141.2 247.8,143.2 L240.0,100.0 L240.0,0.0 L420.0,0.0Z"/>
<path fill="#dcbedd" d="M225.7,135.8 C225.5,136.2 226.2,136.6 224.4,138.2 C222.6,139.8 218.3,142.5 214.6,145.6 C210.9,148.7 206.8,153.0 202.3,156.7 C197.8,160.4 191.6,164.3 187.5,167.8 C183.4,171.3 180.9,174.3 177.6,177.6 C174.3,180.9 171.9,184.6 167.8,187.5 C163.7,190.4 156.9,193.3 153.0,194.9 C149.1,196.5 146.9,196.3 144.4,196.8 C141.9,197.3 139.2,197.6 138.2,197.8 L80.0,200.0 L80.0,60.0 L230.0,60.0Z"/>
<path fill="#b97bb3" d="M210.1,124.7 C210.0,125.3 211.0,126.2 209.7,128.4 C208.4,130.7 206.0,134.9 202.3,138.2 C198.6,141.5 192.4,144.4 187.5,148.1 C182.6,151.8 176.4,156.3 172.7,160.4 C169.0,164.5 167.6,169.4 165.3,172.7 C163.1,176.0 162.9,178.2 159.2,180.1 C155.5,181.9 147.1,183.1 143.2,183.8 C139.3,184.5 137.0,184.4 135.8,184.5 L80.0,185.0 L80.0,60.0 L215.0,60.0Z"/>
<path fill="#954b97" d="M199.8,98.8 C199.6,99.4 199.2,99.2 198.6,102.5 C198.0,105.8 197.9,114.2 196.1,118.5 C194.2,122.8 191.4,124.7 187.5,128.4 C183.6,132.1 176.4,137.0 172.7,140.7 C169.0,144.4 167.6,146.4 165.3,150.5 C163.1,154.6 162.1,161.2 159.2,165.3 C156.3,169.4 151.2,173.1 148.1,175.2 C145.0,177.2 143.0,177.1 140.7,177.6 C138.4,178.1 135.5,178.0 134.5,178.1 L80.0,178.0 L80.0,60.0 L200.0,60.0Z"/>
<path fill="#5b2583" d="M123.4,148.1 C125.9,145.8 134.1,149.5 138.2,150.5 C142.3,151.5 145.6,152.8 148.1,154.2 C150.6,155.6 153.0,157.3 153.0,159.2 C153.0,161.0 150.6,163.4 148.1,165.3 C145.6,167.2 141.3,170.4 138.2,170.7 C135.1,171.0 132.1,168.4 129.6,167.3 C127.1,166.2 124.4,167.3 123.4,164.1 C122.4,160.9 120.9,150.4 123.4,148.1Z"/>
<path fill="#a5d6d5" d="M412.6,54.5 C412.6,49.6 410.1,56.1 407.6,56.9 C405.1,57.7 401.9,58.8 397.8,59.4 C393.7,60.0 388.3,59.8 383.0,60.6 C377.7,61.4 370.7,62.4 365.8,64.3 C360.9,66.1 356.9,68.4 353.4,71.7 C349.9,75.0 346.6,79.9 344.8,84.0 C343.0,88.1 342.4,92.7 342.4,96.4 C342.4,100.1 343.0,103.5 344.8,106.2 C346.6,108.9 349.9,111.2 353.4,112.4 C356.9,113.6 361.7,114.4 365.8,113.6 C369.9,112.8 374.0,110.1 378.1,107.4 C382.2,104.7 387.1,100.3 390.4,97.6 C393.7,94.9 394.9,93.2 397.8,91.4 C400.7,89.6 405.1,92.7 407.6,86.5 C410.1,80.3 412.6,59.4 412.6,54.5Z"/>
<path fill="#d5ebe9" d="M407.6,65.6 C407.4,62.9 404.8,65.6 401.5,65.6 C398.2,65.6 393.4,65.0 387.9,65.6 C382.3,66.2 373.5,67.4 368.2,69.3 C362.9,71.2 359.2,73.6 355.9,76.7 C352.6,79.8 349.7,84.0 348.5,87.7 C347.3,91.4 347.3,95.9 348.5,98.8 C349.7,101.7 352.6,104.2 355.9,105.0 C359.2,105.8 363.7,104.9 368.2,103.7 C372.7,102.5 378.5,100.0 383.0,97.6 C387.5,95.1 392.0,91.7 395.3,89.0 C398.6,86.3 400.6,85.5 402.7,81.6 C404.8,77.7 407.8,68.3 407.6,65.6Z"/>
<path fill="#fff285" d="M354.7,91.4 C354.9,88.9 355.2,84.5 357.1,81.6 C359.0,78.7 361.9,76.0 365.8,74.2 C369.7,72.4 376.2,70.9 380.5,70.5 C384.8,70.1 389.3,70.3 391.6,71.7 C393.9,73.1 394.7,76.2 394.1,79.1 C393.5,82.0 391.0,86.3 387.9,89.0 C384.8,91.7 379.7,93.5 375.6,95.1 C371.5,96.6 366.6,98.1 363.3,98.3 C360.0,98.5 357.3,97.6 355.9,96.4 C354.5,95.2 354.5,93.9 354.7,91.4Z"/>
<path fill="#fcc877" d="M358.4,89.0 C358.6,86.8 359.6,82.4 362.1,80.3 C364.6,78.2 369.7,76.8 373.2,76.2 C376.7,75.6 380.9,75.8 383.0,76.7 C385.1,77.6 386.3,79.5 385.5,81.6 C384.7,83.6 381.0,87.0 378.1,89.0 C375.2,91.0 371.1,92.7 368.2,93.4 C365.3,94.1 362.4,94.1 360.8,93.4 C359.2,92.7 358.2,91.2 358.4,89.0Z"/>
<path fill="#66c0be" d="M578.8,93.9 C579.4,95.3 580.5,97.6 582.5,102.5 C584.5,107.4 588.4,116.6 591.1,123.4 C593.8,130.2 596.5,135.8 598.5,143.2 C600.5,150.6 601.4,159.6 603.4,167.8 C605.4,176.0 607.9,185.0 610.8,192.4 C613.7,199.8 616.6,205.9 620.7,212.1 C624.8,218.3 630.2,224.5 635.5,229.4 C640.8,234.3 646.6,238.4 652.7,241.7 C658.9,245.0 665.8,247.5 672.4,249.1 C679.0,250.7 685.5,251.5 692.1,251.5 C698.7,251.5 705.6,250.7 711.8,249.1 C718.0,247.5 723.8,245.0 729.1,241.7 C734.4,238.4 739.3,234.3 743.8,229.4 C748.3,224.5 752.9,217.4 756.2,212.1 C759.5,206.8 761.7,201.0 763.5,197.3 C765.3,193.6 766.0,192.4 767.2,190.0 C768.4,187.6 770.3,183.8 770.9,182.6 L800.0,150.0 L800.0,0.0 L560.0,0.0Z"/>
<path fill="#00a5a5" d="M594.8,82.8 C595.2,83.6 595.9,84.6 597.3,87.7 C598.7,90.8 600.3,96.2 603.4,101.3 C606.5,106.4 611.7,113.2 615.8,118.5 C619.9,123.8 625.0,128.8 628.1,133.3 C631.2,137.8 632.8,141.1 634.2,145.6 C635.6,150.1 634.4,156.7 636.7,160.4 C639.0,164.1 645.1,163.3 647.8,167.8 C650.5,172.3 651.1,182.2 652.7,187.5 C654.3,192.8 654.7,196.1 657.6,199.8 C660.5,203.5 665.5,207.0 670.0,209.7 C674.5,212.4 679.8,214.6 684.7,215.8 C689.6,217.0 694.6,217.2 699.5,217.0 C704.4,216.8 709.4,216.2 714.3,214.6 C719.2,213.0 724.8,210.5 729.1,207.2 C733.4,203.9 737.6,199.2 740.1,194.9 C742.6,190.6 743.5,185.0 744.3,181.3 C745.1,177.6 745.0,174.1 745.1,172.7 L800.0,150.0 L800.0,0.0 L560.0,0.0Z"/>
<path fill="#66c0be" d="M612.1,198.6 C611.7,196.8 618.0,189.7 620.7,185.0 C623.4,180.3 625.6,174.3 628.1,170.2 C630.6,166.1 632.2,163.1 635.5,160.4 C638.8,157.7 645.3,153.0 647.8,154.2 C650.2,155.4 649.6,163.1 650.2,167.8 C650.8,172.5 652.3,178.5 651.5,182.6 C650.7,186.7 648.4,190.8 645.3,192.4 C642.2,194.0 636.7,191.8 633.0,192.4 C629.3,193.0 626.7,195.1 623.2,196.1 C619.7,197.1 612.5,200.4 612.1,198.6Z"/>
<path fill="#dddaec" d="M608.4,69.3 C608.0,69.9 607.0,71.2 605.9,73.0 C604.8,74.8 601.1,77.4 601.5,80.3 C601.9,83.2 605.6,86.3 608.4,90.2 C611.2,94.1 614.5,99.4 618.2,103.7 C621.9,108.0 626.8,112.8 630.5,116.1 C634.2,119.4 636.7,121.6 640.4,123.4 C644.1,125.2 648.2,126.6 652.7,127.1 C657.2,127.6 663.4,126.6 667.5,126.4 C671.6,126.2 675.7,126.0 677.3,125.9 L800.0,150.0 L800.0,0.0 L560.0,0.0Z"/>
<path fill="#dcbedd" d="M615.8,63.1 C615.4,63.7 614.1,65.1 613.3,66.8 C612.5,68.5 610.4,70.1 610.8,73.0 C611.2,75.9 613.3,79.7 615.8,84.0 C618.3,88.3 622.3,94.5 625.6,98.8 C628.9,103.1 632.2,106.8 635.5,109.9 C638.8,113.0 641.6,115.7 645.3,117.3 C649.0,118.9 653.9,119.6 657.6,119.8 C661.3,120.0 664.2,118.9 667.5,118.5 C670.8,118.1 675.7,117.5 677.3,117.3 L800.0,150.0 L800.0,0.0 L560.0,0.0Z"/>
<path fill="#b97bb3" d="M625.6,39.7 C625.2,40.7 624.2,43.4 623.2,45.9 C622.2,48.4 620.7,51.2 619.5,54.5 C618.3,57.8 615.8,61.9 615.8,65.6 C615.8,69.3 617.5,72.4 619.5,76.7 C621.5,81.0 625.0,86.9 628.1,91.4 C631.2,95.9 634.6,100.3 637.9,103.7 C641.2,107.1 644.5,110.1 647.8,111.6 C651.1,113.0 653.5,112.5 657.6,112.4 C661.7,112.3 669.9,111.3 672.4,111.1 L800.0,150.0 L800.0,0.0 L560.0,0.0Z"/>
<path fill="#d5ebe9" d="M789.3,199.6 C789.1,200.2 788.8,201.7 788.0,203.3 C787.2,204.9 786.5,206.7 784.3,209.4 C782.0,212.1 777.4,215.2 774.5,219.3 C771.6,223.4 768.8,229.1 767.1,234.0 C765.5,238.9 766.7,243.5 764.6,248.8 C762.5,254.2 758.9,261.2 754.8,266.1 C750.7,271.0 741.4,277.4 740.0,278.4 C738.6,279.4 748.4,270.9 746.6,272.3 C744.8,273.8 734.7,282.6 729.4,287.1 C724.1,291.6 719.1,294.9 714.6,299.4 C710.1,303.9 706.0,308.9 702.3,314.2 C698.6,319.5 695.3,324.8 692.4,331.4 C689.5,338.0 687.5,346.2 685.0,353.6 C682.5,361.0 679.5,368.4 677.6,375.8 C675.8,383.2 674.9,390.5 673.9,397.9 C672.9,405.3 672.3,412.7 671.5,420.1 C670.7,427.5 670.4,434.9 669.0,442.3 C667.6,449.7 665.6,457.0 662.9,464.4 C660.2,471.8 656.3,479.6 653.0,486.6 C649.7,493.6 647.1,500.2 643.2,506.3 C639.3,512.4 633.4,518.9 629.7,523.1 C626.0,527.3 623.4,528.2 621.1,531.7 C618.9,535.2 616.6,539.9 616.2,544.0 C615.8,548.1 616.4,553.1 618.6,556.4 C620.9,559.7 628.3,562.7 629.7,563.7 C631.1,564.7 625.1,562.7 627.1,562.5 C629.1,562.3 637.4,563.7 641.9,562.5 C646.4,561.3 650.9,558.0 654.2,555.1 C657.5,552.2 658.7,549.0 661.6,545.3 C664.5,541.6 668.1,537.1 671.4,533.0 C674.7,528.9 678.8,522.5 681.3,520.6 C683.8,518.8 686.1,520.5 686.7,521.9 C687.3,523.3 686.7,526.0 685.0,529.3 C683.3,532.6 679.7,537.1 676.4,541.6 C673.1,546.1 667.6,553.1 665.3,556.4 C663.0,559.7 662.4,560.1 662.8,561.3 C663.2,562.5 664.6,564.9 667.7,563.7 C670.8,562.5 676.2,556.0 681.3,553.9 C686.4,551.8 695.6,553.4 698.5,551.4 C701.4,549.4 696.9,543.9 698.5,541.6 C700.1,539.4 705.5,540.0 708.4,537.9 C711.3,535.8 714.8,532.8 715.8,529.3 C716.8,525.8 713.7,519.8 714.5,516.9 C715.3,514.0 718.2,512.4 720.7,512.0 C723.2,511.6 727.0,512.5 729.3,514.5 C731.5,516.5 733.8,520.6 734.2,524.3 C734.6,528.0 733.0,533.0 731.8,536.7 C730.6,540.4 727.0,543.6 726.8,546.5 C726.6,549.4 728.6,552.9 730.5,553.9 C732.4,554.9 735.0,554.4 737.9,552.7 C740.8,551.1 744.5,543.8 747.8,544.0 C751.1,544.2 753.5,551.4 757.6,553.9 C761.7,556.4 767.5,559.2 772.4,558.8 C777.3,558.4 784.7,552.6 787.2,551.4 L850.0,560.0 L850.0,200.0Z"/>
<path fill="#a5d6d5" d="M754.1,441.1 C752.1,441.4 749.9,444.6 749.1,447.9 C748.2,451.2 749.0,456.2 749.0,460.7 C749.1,465.2 749.3,469.7 749.5,475.0 C749.7,480.3 749.8,487.2 750.5,492.5 C751.2,497.8 752.7,502.4 753.7,506.8 C754.8,511.1 756.1,514.1 756.6,518.4 C757.2,522.6 756.6,527.7 757.0,532.3 C757.4,536.8 759.1,542.1 759.1,545.8 C759.2,549.5 757.5,552.4 757.4,554.5 C757.3,556.7 757.7,558.1 758.5,558.6 C759.4,559.1 760.6,559.2 762.6,557.5 C764.7,555.7 769.1,552.5 770.9,548.2 C772.6,543.9 772.9,537.2 773.0,531.7 C773.1,526.3 772.5,520.4 771.4,515.6 C770.3,510.9 767.6,507.3 766.3,503.2 C764.9,499.2 763.6,496.2 763.5,491.5 C763.4,486.8 765.3,480.4 765.5,475.0 C765.7,469.6 765.7,464.1 765.0,459.3 C764.2,454.5 762.7,449.1 760.9,446.1 C759.1,443.1 756.1,440.8 754.1,441.1Z"/>
<path fill="#a5d6d5" d="M717.1,512.7 C719.0,511.0 723.8,511.7 726.5,513.6 C729.2,515.5 731.9,520.2 733.2,524.1 C734.5,528.0 734.6,532.9 734.1,537.3 C733.6,541.7 729.7,546.5 730.3,550.6 C730.9,554.7 735.0,560.7 737.9,562.0 C740.8,563.3 744.9,560.1 747.4,558.2 C749.9,556.3 750.1,550.9 753.1,550.6 C756.1,550.3 764.8,554.4 765.4,556.3 C766.0,558.2 759.6,559.8 756.9,562.0 C754.2,564.2 752.5,567.7 749.3,569.6 C746.1,571.5 742.3,573.7 737.9,573.4 C733.5,573.1 727.1,568.3 722.7,567.7 C718.3,567.1 715.2,570.6 711.4,569.6 C707.6,568.6 701.9,565.8 700.0,562.0 C698.1,558.2 698.1,549.6 700.0,546.8 C701.9,543.9 708.7,546.5 711.4,544.9 C714.1,543.3 715.5,540.8 716.1,537.3 C716.7,533.8 715.0,528.2 715.2,524.1 C715.4,520.0 715.2,514.5 717.1,512.7Z"/>
<path fill="#fff285" d="M804.5,204.5 C804.2,204.9 804.0,205.1 802.8,206.9 C801.6,208.7 799.7,213.8 796.7,216.8 C793.7,219.8 785.7,223.7 783.1,226.7 C780.5,229.7 779.0,232.8 779.4,236.5 C779.8,240.2 785.2,247.2 785.6,251.3 C786.0,255.4 785.0,259.9 781.9,263.6 C778.8,267.3 768.4,272.8 764.6,275.9 C760.8,279.0 759.6,281.1 756.5,284.6 C753.4,288.1 747.1,294.6 744.1,299.4 C741.1,304.2 738.9,311.9 736.7,316.7 C734.5,321.5 732.4,327.3 729.4,331.4 C726.4,335.4 720.0,339.3 717.0,343.7 C714.0,348.1 710.8,355.8 709.7,361.0 C708.6,366.2 709.0,372.7 709.7,378.2 C710.4,383.7 713.1,392.3 714.6,397.9 C716.1,403.4 718.8,410.8 719.5,415.2 C720.2,419.6 720.2,424.2 719.5,427.5 C718.8,430.8 716.4,434.3 714.6,437.3 C712.8,440.3 709.0,444.4 707.2,447.2 C705.4,450.0 701.9,453.6 702.3,455.8 C702.7,458.0 706.7,462.0 709.7,462.0 C712.7,462.0 718.3,456.9 722.0,455.8 C725.7,454.7 731.9,455.5 734.3,454.6 C736.7,453.7 737.8,451.4 738.0,449.7 C738.2,448.0 734.6,444.4 735.5,443.5 C736.4,442.6 741.3,445.2 744.1,443.5 C746.9,441.8 751.2,435.2 754.0,432.4 C756.8,429.6 760.7,426.3 762.6,425.0 C764.5,423.7 765.0,423.5 766.4,423.6 C767.8,423.7 770.6,424.6 772.0,425.5 C773.4,426.4 774.7,427.3 775.8,429.3 C776.9,431.3 779.6,436.5 779.6,438.8 C779.6,441.1 777.1,442.5 775.8,444.5 C774.5,446.5 771.8,448.9 771.1,452.0 C770.4,455.1 770.8,460.7 771.1,465.3 C771.4,469.9 771.7,478.1 773.0,482.4 C774.3,486.7 777.6,490.9 779.6,493.7 C781.6,496.5 784.6,498.7 786.3,501.3 C788.0,503.9 790.2,508.2 791.0,510.8 C791.8,513.4 792.3,516.1 791.9,518.4 C791.5,520.7 789.5,523.7 788.2,526.0 C786.9,528.3 784.3,531.1 783.4,533.6 C782.5,536.1 782.2,540.9 782.5,543.0 C782.8,545.1 786.3,546.1 785.3,547.8 C784.3,549.5 778.9,552.6 775.8,554.4 C772.7,556.2 767.6,558.7 764.5,560.1 C761.4,561.5 756.8,563.2 755.0,563.9 C753.2,564.6 753.2,564.5 752.7,565.0 C752.2,565.5 751.3,566.1 751.5,567.4 C751.7,568.7 754.5,571.9 753.9,573.6 C753.3,575.3 748.4,576.3 747.8,578.5 C747.2,580.7 750.6,586.2 750.2,588.4 C749.8,590.6 746.8,591.5 745.3,593.3 C743.8,595.1 741.0,597.7 740.4,600.7 C739.8,603.7 740.1,610.0 741.6,613.0 C743.1,616.0 747.1,618.7 750.2,620.4 C753.4,622.1 758.9,623.7 762.6,624.1 C766.3,624.5 773.4,622.3 774.9,622.9 C776.4,623.5 773.5,625.2 772.4,627.8 C771.3,630.4 767.9,636.8 767.5,640.1 C767.1,643.4 769.1,646.7 770.0,650.0 C770.9,653.3 772.7,659.0 773.6,662.3 C774.5,665.6 774.8,671.0 776.1,672.1 C777.4,673.2 780.3,671.2 782.3,669.7 C784.3,668.2 787.5,662.7 789.7,662.3 C791.9,661.9 794.8,665.4 797.0,667.2 C799.2,669.0 802.2,672.8 804.4,674.6 C806.6,676.4 805.7,677.7 811.8,679.5 C817.9,681.3 838.4,686.3 845.3,686.8 C852.2,687.3 853.5,683.5 857.6,683.1 C861.7,682.7 868.0,683.7 872.4,684.3 C876.8,684.9 884.1,685.5 887.2,686.8 C890.3,688.1 892.9,690.4 893.3,693.0 C893.7,695.6 891.7,701.2 889.7,704.0 C887.7,706.8 882.8,709.9 879.8,711.4 C876.8,712.9 872.6,712.8 870.0,713.9 C867.4,715.0 865.9,717.3 862.6,718.8 C859.3,720.3 852.2,723.0 847.8,723.7 C843.4,724.4 835.4,723.0 833.0,723.7 C830.6,724.5 830.0,727.6 831.8,728.7 C833.6,729.8 841.4,730.4 845.3,731.1 C849.2,731.8 855.2,732.5 857.6,733.6 C860.0,734.7 861.7,736.3 861.3,738.5 C860.9,740.7 858.0,745.8 855.2,748.4 C852.4,751.0 846.6,754.0 842.9,755.8 C839.2,757.6 833.3,759.4 830.5,760.7 C827.7,762.0 825.7,763.3 824.4,764.4 C823.1,765.5 822.3,767.5 821.9,768.1 L830.0,800.0 L1100.0,800.0 L1100.0,150.0 L810.0,150.0Z"/>
<path fill="#fcc877" d="M882.4,231.6 C882.3,232.2 881.7,232.3 881.6,235.3 C881.5,238.3 881.8,246.7 881.6,251.3 C881.4,255.9 882.4,262.6 880.4,266.1 C878.4,269.6 872.5,272.9 868.1,274.7 C863.7,276.5 856.0,277.5 850.8,278.4 C845.6,279.3 839.1,280.1 833.6,280.8 C828.1,281.5 819.8,282.2 813.9,283.3 C808.0,284.4 799.8,286.0 794.2,288.2 C788.7,290.4 781.7,294.4 776.9,298.1 C772.1,301.8 765.7,308.1 762.2,312.9 C758.7,317.7 755.2,324.6 753.5,330.1 C751.8,335.6 750.9,343.9 751.1,349.8 C751.3,355.7 753.3,364.3 754.8,369.5 C756.3,374.7 760.3,382.7 760.9,384.3 C761.5,385.9 758.0,378.6 758.8,380.0 C759.6,381.4 763.9,389.6 766.4,393.3 C768.9,397.0 773.0,401.5 775.8,404.6 C778.6,407.7 782.4,411.8 785.3,414.1 C788.1,416.4 792.8,417.8 794.8,419.8 C796.8,421.8 798.6,425.1 798.6,427.4 C798.6,429.7 796.8,433.0 794.8,435.0 C792.8,437.0 787.9,439.0 785.3,440.7 C782.7,442.4 779.1,444.4 777.7,446.4 C776.3,448.4 775.6,451.6 775.8,453.9 C775.9,456.2 778.1,458.4 778.7,461.5 C779.3,464.6 778.9,471.1 779.6,474.8 C780.3,478.5 782.0,483.6 783.4,486.2 C784.8,488.8 786.8,491.5 789.1,491.8 C791.4,492.1 796.0,490.1 798.6,488.1 C801.2,486.1 804.2,480.6 806.2,478.6 C808.2,476.6 810.8,474.8 811.8,474.8 C812.8,474.8 813.4,476.9 812.8,478.6 C812.2,480.3 808.2,484.5 808.1,486.2 C808.0,487.9 811.1,488.9 811.8,490.0 C812.5,491.1 813.2,493.0 812.8,493.7 C812.4,494.4 809.7,494.0 809.0,494.7 C808.3,495.4 807.5,497.5 808.1,498.5 C808.7,499.5 812.2,499.5 812.8,501.3 C813.4,503.1 811.7,508.2 811.8,510.8 C811.9,513.4 814.5,516.4 813.7,518.4 C812.9,520.4 809.0,522.7 806.2,524.1 C803.4,525.5 797.4,526.2 794.8,527.9 C792.2,529.6 789.8,533.5 789.1,535.5 C788.4,537.5 789.9,540.4 790.0,541.1 C790.1,541.8 788.6,539.8 789.6,540.4 C790.6,541.0 795.1,543.5 796.9,545.3 C798.7,547.1 802.1,550.5 801.9,552.7 C801.7,554.9 797.0,557.9 795.7,560.1 C794.4,562.3 793.1,565.3 793.3,567.5 C793.5,569.7 795.2,573.4 796.9,574.9 C798.5,576.4 802.1,577.3 804.3,577.3 C806.5,577.3 809.8,574.1 811.7,574.9 C813.6,575.6 815.4,580.5 816.7,582.3 C818.0,584.1 819.0,588.0 820.3,587.2 C821.6,586.5 823.6,580.3 825.3,577.3 C827.0,574.3 829.7,570.1 831.4,567.5 C833.1,564.9 834.2,561.2 836.4,560.1 C838.6,559.0 842.9,559.4 846.2,560.1 C849.5,560.8 854.8,563.5 858.5,565.0 C862.2,566.5 867.5,568.2 870.8,570.0 C874.1,571.8 877.4,575.8 880.7,577.3 C884.0,578.8 889.3,579.0 893.0,579.8 C896.7,580.5 902.0,581.2 905.3,582.3 C908.6,583.4 913.4,587.6 915.2,587.2 C917.0,586.8 917.4,582.8 917.6,579.8 C917.8,576.8 916.4,571.2 916.4,567.5 C916.4,563.8 916.5,558.9 917.6,555.2 C918.7,551.5 922.3,547.0 923.8,542.9 C925.3,538.8 926.9,532.2 927.5,528.1 C928.1,524.0 928.2,518.8 927.5,515.8 C926.8,512.8 924.4,509.9 922.6,508.4 C920.8,506.9 917.1,507.4 915.2,505.9 C913.3,504.4 911.0,500.7 910.2,498.5 C909.5,496.3 909.1,493.3 910.2,491.1 C911.3,488.9 915.0,485.5 917.6,483.7 C920.2,481.9 924.5,480.1 927.5,478.8 C930.5,477.5 934.0,476.2 937.3,475.1 C940.6,474.0 946.0,472.7 949.7,471.4 C953.4,470.1 958.7,467.4 962.0,466.5 C965.3,465.6 968.8,466.0 971.8,465.3 C974.8,464.6 978.4,463.1 981.7,461.6 C985.0,460.1 990.3,457.6 994.0,455.4 C997.7,453.2 1003.7,449.6 1006.3,446.8 C1008.9,444.0 1010.1,439.9 1011.2,436.9 C1012.3,433.9 1013.0,429.8 1013.7,427.1 C1014.4,424.4 1015.7,421.6 1015.6,418.8 C1015.5,416.0 1013.0,411.7 1013.0,408.6 C1013.0,405.5 1014.1,401.3 1015.6,398.4 C1017.1,395.5 1020.2,391.7 1023.3,389.4 C1026.4,387.1 1032.3,384.3 1036.1,383.0 C1039.9,381.7 1045.9,381.8 1048.8,380.5 C1051.7,379.2 1054.4,376.2 1055.2,374.1 C1056.0,372.0 1055.3,368.1 1054.0,366.4 C1052.7,364.7 1048.6,364.0 1046.3,362.6 C1044.0,361.2 1040.5,358.9 1038.6,357.4 C1036.7,355.9 1033.9,353.6 1033.5,352.3 C1033.1,351.0 1034.6,349.5 1036.1,348.5 C1037.6,347.5 1041.8,347.2 1043.7,345.9 C1045.6,344.5 1048.4,341.6 1048.8,339.5 C1049.2,337.4 1047.1,334.8 1046.3,331.9 C1045.5,329.0 1045.2,323.3 1043.7,320.4 C1042.2,317.5 1039.2,314.5 1036.1,312.7 C1033.0,310.9 1026.8,310.0 1023.3,308.3 C1019.8,306.6 1015.7,303.4 1013.0,301.2 C1010.3,299.0 1007.3,295.4 1005.4,293.5 C1003.5,291.6 1001.0,289.2 1000.2,288.4 L1010.0,265.0 L890.0,215.0Z"/>
<path fill="#f29540" d="M901.3,236.0 C905.4,234.3 933.0,237.6 940.0,240.0 C947.0,242.4 944.9,248.2 947.8,252.0 C950.7,255.8 955.3,261.4 959.3,265.3 C963.3,269.2 970.1,274.6 974.7,278.1 C979.3,281.6 985.8,285.7 990.0,288.4 C994.2,291.1 999.7,293.3 1002.8,296.0 C1005.9,298.7 1008.1,303.2 1010.4,306.3 C1012.7,309.4 1015.4,313.8 1018.1,316.5 C1020.8,319.2 1025.3,322.5 1028.4,324.2 C1031.5,325.9 1036.5,326.5 1038.6,328.0 C1040.7,329.5 1042.6,332.5 1042.4,334.4 C1042.2,336.3 1039.6,339.4 1037.3,340.8 C1035.0,342.2 1029.8,342.2 1027.1,343.4 C1024.4,344.6 1021.5,346.4 1019.4,348.5 C1017.3,350.6 1014.7,354.1 1013.0,357.4 C1011.3,360.7 1009.1,366.4 1007.9,370.2 C1006.7,374.0 1004.9,379.5 1005.3,383.0 C1005.7,386.5 1009.3,390.2 1010.5,393.3 C1011.7,396.4 1012.8,400.4 1013.0,403.5 C1013.2,406.6 1012.3,410.2 1011.7,413.7 C1011.1,417.1 1010.2,423.1 1009.2,426.5 C1008.2,429.9 1007.0,434.0 1005.3,436.7 C1003.6,439.4 1000.4,442.9 997.7,444.4 C995.0,445.9 990.5,446.4 987.4,447.0 C984.3,447.6 979.9,447.5 977.2,448.3 C974.5,449.1 971.8,451.1 969.5,452.1 C967.2,453.1 964.2,453.5 961.9,454.7 C959.6,455.9 956.5,458.1 954.2,459.8 C951.9,461.5 948.8,465.0 946.5,466.2 C944.2,467.4 940.4,468.0 938.8,467.5 C937.2,467.0 936.1,464.6 936.1,462.8 C936.1,461.0 936.9,457.1 938.6,455.4 C940.3,453.7 945.7,453.2 947.2,451.7 C948.7,450.2 949.1,447.3 948.4,445.6 C947.7,443.9 944.7,441.9 942.3,440.6 C939.9,439.3 935.2,438.2 932.4,436.9 C929.6,435.6 926.0,433.6 923.8,432.0 C921.6,430.4 919.6,426.5 917.6,425.9 C915.6,425.3 912.0,427.0 910.2,428.3 C908.4,429.6 906.6,433.9 905.3,434.5 C904.0,435.1 902.2,433.5 901.6,432.0 C901.0,430.5 902.2,426.1 901.6,424.6 C901.0,423.1 900.7,422.4 897.9,422.2 C895.1,422.0 886.3,422.7 883.2,423.4 C880.1,424.1 877.8,425.4 877.0,427.1 C876.2,428.8 878.8,431.9 878.2,434.5 C877.6,437.1 875.1,441.7 873.3,444.3 C871.5,446.9 868.7,450.4 865.9,451.7 C863.1,453.0 857.3,451.5 854.8,453.0 C852.3,454.5 849.8,458.1 849.2,461.6 C848.6,465.1 849.9,471.6 851.1,476.4 C852.3,481.2 855.5,488.8 857.3,493.6 C859.1,498.4 861.7,504.7 863.4,508.4 C865.1,512.1 866.9,516.0 868.4,518.2 C869.9,520.4 871.8,522.3 873.3,523.2 C874.8,524.1 877.3,523.3 878.2,524.4 C879.1,525.5 878.4,528.8 879.5,530.5 C880.6,532.2 883.6,535.5 885.6,535.5 C887.6,535.5 891.2,532.5 893.0,530.5 C894.8,528.5 895.7,524.1 897.9,521.9 C900.1,519.7 904.8,516.7 907.8,515.8 C910.8,514.9 915.2,514.9 917.6,515.8 C920.0,516.7 923.0,519.3 923.8,521.9 C924.5,524.5 923.9,529.5 922.6,533.0 C921.3,536.5 918.2,542.2 915.2,545.3 C912.2,548.4 906.6,551.9 902.9,553.9 C899.2,555.9 893.5,558.7 890.5,558.9 C887.5,559.1 884.5,556.9 883.2,555.2 C881.9,553.5 883.0,548.7 881.9,547.8 C880.8,546.9 878.6,549.0 875.8,549.0 C873.0,549.0 866.2,549.1 863.4,547.8 C860.6,546.5 857.8,543.0 857.3,540.4 C856.8,537.8 859.6,533.8 859.8,530.5 C860.0,527.2 859.4,521.2 858.5,518.2 C857.6,515.2 855.6,512.1 853.6,510.8 C851.6,509.5 847.0,508.7 845.0,509.6 C843.0,510.5 840.4,514.6 840.0,517.0 C839.6,519.4 841.2,523.2 842.5,525.6 C843.8,528.0 848.0,530.4 848.7,533.0 C849.4,535.6 848.9,540.9 847.4,542.9 C845.9,544.9 841.8,545.3 838.8,546.6 C835.8,547.9 829.4,549.5 827.7,551.5 C826.0,553.5 828.3,557.7 827.7,560.1 C827.1,562.5 825.3,567.1 824.0,567.5 C822.7,567.9 819.7,564.8 819.1,562.6 C818.5,560.4 820.9,553.5 820.3,552.7 C819.7,552.0 817.0,555.8 815.4,557.6 C813.8,559.4 810.8,564.4 809.3,565.0 C807.8,565.6 805.6,563.1 805.6,561.3 C805.6,559.5 807.6,555.5 809.3,552.7 C811.0,549.9 815.2,545.9 816.7,542.9 C818.2,539.9 818.0,537.1 819.1,533.0 C820.2,528.9 822.9,520.6 824.0,515.8 C825.1,511.0 825.0,504.7 826.5,501.0 C828.0,497.3 833.0,494.4 833.9,491.1 C834.8,487.8 833.8,482.3 832.7,478.8 C831.6,475.3 828.9,470.3 826.5,467.7 C824.1,465.1 818.5,463.2 816.7,461.6 C814.9,460.0 812.4,458.5 814.2,456.7 C816.0,454.9 825.3,451.5 829.0,449.3 C832.7,447.1 837.1,444.5 838.8,441.9 C840.4,439.3 840.4,435.0 840.0,432.0 C839.6,429.0 837.7,424.8 836.4,422.2 C835.1,419.6 831.5,416.2 831.4,414.8 C831.3,413.4 834.2,413.7 836.0,412.6 C837.8,411.5 842.1,409.5 843.4,407.7 C844.7,405.9 845.4,401.8 844.7,400.3 C844.0,398.8 841.3,396.7 838.5,397.8 C835.7,398.9 829.9,405.7 826.2,407.7 C822.5,409.7 818.0,411.2 813.9,411.4 C809.8,411.6 802.8,410.8 799.1,408.9 C795.4,407.0 791.3,402.7 789.3,399.0 C787.3,395.3 786.0,389.1 785.6,384.3 C785.2,379.5 785.5,371.8 786.8,367.0 C788.1,362.2 791.2,356.4 794.2,352.3 C797.2,348.2 802.4,342.8 806.5,340.0 C810.6,337.2 816.5,334.9 821.3,333.8 C826.1,332.7 833.3,332.6 838.5,332.6 C843.7,332.6 850.6,334.0 855.8,333.8 C861.0,333.6 868.2,332.6 873.0,331.3 C877.8,330.0 884.1,326.1 887.8,325.2 C891.5,324.3 894.8,323.7 897.6,325.2 C900.4,326.7 904.8,334.6 906.3,335.0 C907.8,335.4 907.1,330.6 907.5,327.6 C907.9,324.6 908.7,319.7 908.7,315.3 C908.7,310.9 907.3,302.4 907.5,298.0 C907.7,293.6 908.7,288.7 910.0,285.8 C911.3,282.9 915.0,281.0 916.1,278.4 C917.2,275.8 917.9,272.6 917.3,268.5 C916.7,264.4 914.8,256.2 912.4,251.3 C910.0,246.4 897.2,237.7 901.3,236.0Z"/>
<path fill="#fcc877" d="M909.4,360.5 C909.8,359.7 909.9,359.5 912.0,358.7 C914.1,357.9 920.6,356.1 923.5,354.9 C926.4,353.7 928.7,352.0 931.2,351.0 C933.7,350.0 938.0,348.6 940.1,348.5 C942.2,348.4 943.5,349.1 945.2,350.3 C946.9,351.5 949.9,354.4 951.6,356.2 C953.3,358.0 955.2,361.5 956.7,362.6 C958.2,363.7 960.7,364.6 961.9,363.8 C963.1,363.0 963.4,359.1 964.4,357.4 C965.4,355.7 967.3,352.9 968.3,352.3 C969.3,351.7 970.6,352.4 970.8,353.6 C971.0,354.8 968.9,358.6 969.5,360.0 C970.1,361.4 972.8,363.0 974.7,362.6 C976.6,362.2 979.6,358.6 982.3,357.4 C985.0,356.2 989.9,355.2 992.6,354.9 C995.3,354.6 997.7,355.8 1000.2,355.4 C1002.7,355.0 1006.3,353.3 1009.2,352.3 C1012.1,351.3 1016.9,348.5 1019.4,348.5 C1021.9,348.5 1025.6,350.2 1025.8,352.3 C1026.0,354.4 1022.6,359.9 1020.7,362.6 C1018.8,365.3 1014.9,369.1 1013.0,370.2 C1011.1,371.3 1009.8,371.3 1007.9,370.2 C1006.0,369.1 1002.9,363.6 1000.2,362.6 C997.5,361.6 992.7,363.0 990.0,363.8 C987.3,364.6 984.6,366.5 982.3,367.7 C980.0,368.9 977.4,370.9 974.7,371.5 C972.0,372.1 967.1,370.9 964.4,371.5 C961.7,372.1 959.0,374.8 956.7,375.4 C954.4,376.0 951.4,376.2 949.1,375.4 C946.8,374.6 943.7,371.6 941.4,370.2 C939.1,368.8 936.4,367.0 933.7,366.4 C931.0,365.8 926.6,366.4 923.5,366.4 C920.4,366.4 915.4,366.8 913.3,366.4 C911.2,366.0 910.0,364.7 909.4,363.8 C908.8,362.9 909.0,361.3 909.4,360.5Z"/>
<path fill="#fcc877" d="M842.6,512.0 C843.8,509.7 846.5,507.9 848.8,508.3 C851.1,508.7 854.2,511.8 856.2,514.5 C858.2,517.2 860.7,520.6 861.1,524.3 C861.5,528.0 860.2,534.0 858.6,536.7 C857.0,539.4 853.2,540.7 851.2,540.3 C849.2,539.9 847.9,537.3 846.3,534.2 C844.7,531.1 842.0,525.6 841.4,521.9 C840.8,518.2 841.4,514.3 842.6,512.0Z"/>
<path fill="#e8500f" d="M861.9,418.8 C861.9,417.0 864.6,414.8 868.1,413.8 C871.6,412.8 878.0,413.8 882.9,412.6 C887.8,411.4 893.5,409.2 897.6,406.5 C901.7,403.8 904.2,399.5 907.5,396.6 C910.8,393.7 913.2,391.1 917.3,389.2 C921.4,387.3 927.2,385.9 932.1,385.5 C937.0,385.1 942.4,385.5 946.9,386.7 C951.4,387.9 956.3,390.4 959.2,392.9 C962.1,395.4 963.9,398.2 964.1,401.5 C964.3,404.8 962.5,409.3 960.4,412.6 C958.3,415.9 955.3,418.9 951.8,421.2 C948.3,423.5 943.6,425.6 939.5,426.2 C935.4,426.8 930.9,426.1 927.2,424.9 C923.5,423.7 920.6,419.6 917.3,418.8 C914.0,418.0 910.8,419.2 907.5,420.0 C904.2,420.8 901.7,422.7 897.6,423.7 C893.5,424.7 887.8,426.0 882.9,426.2 C878.0,426.4 871.6,426.1 868.1,424.9 C864.6,423.7 861.9,420.6 861.9,418.8Z"/>
<path fill="#fcc877" d="M849.9,619.2 C848.7,618.2 847.4,614.7 847.4,611.8 C847.4,608.9 849.3,604.9 849.9,602.0 C850.5,599.1 850.3,596.5 851.1,594.6 C851.9,592.8 852.3,591.7 854.8,590.9 C857.3,590.1 862.0,590.1 865.9,589.7 C869.8,589.3 874.5,589.2 878.2,588.4 C881.9,587.6 884.8,585.1 888.1,584.7 C891.4,584.3 895.5,585.0 897.9,586.0 C900.3,587.0 902.4,589.3 902.4,590.9 C902.4,592.5 900.3,594.3 897.9,595.8 C895.5,597.3 891.4,598.6 888.1,600.0 C884.8,601.4 881.1,602.6 878.2,604.4 C875.3,606.2 873.3,609.0 870.8,610.6 C868.3,612.2 866.1,613.1 863.4,614.3 C860.7,615.5 857.0,617.2 854.8,618.0 C852.5,618.8 851.1,620.2 849.9,619.2Z"/>
<path fill="#f29540" d="M856.1,610.6 C855.7,609.3 856.9,606.2 858.5,604.4 C860.1,602.5 862.6,601.1 865.9,599.5 C869.2,597.9 874.1,595.9 878.2,594.6 C882.3,593.3 886.8,592.2 890.5,591.6 C894.2,591.0 898.5,590.4 900.4,590.9 C902.2,591.4 902.8,593.4 901.6,594.6 C900.4,595.8 896.5,597.1 893.0,598.3 C889.5,599.5 884.4,600.6 880.7,602.0 C877.0,603.4 874.1,605.2 870.8,606.9 C867.5,608.6 863.5,611.7 861.0,612.3 C858.5,612.9 856.5,611.9 856.1,610.6Z"/>
<path fill="#fff285" d="M891.5,241.4 C892.3,238.7 893.7,238.5 896.4,240.2 C899.1,241.8 904.4,247.4 907.5,251.3 C910.6,255.2 913.5,259.5 914.9,263.6 C916.3,267.7 916.9,272.6 916.1,275.9 C915.3,279.2 911.6,280.4 910.0,283.3 C908.4,286.2 906.6,289.1 906.3,293.2 C906.0,297.3 908.2,304.4 908.0,307.9 C907.8,311.4 906.1,314.9 905.0,314.1 C903.9,313.3 902.7,308.1 901.3,303.0 C899.9,297.9 898.0,291.1 896.4,283.3 C894.8,275.5 892.3,263.2 891.5,256.2 C890.7,249.2 890.7,244.1 891.5,241.4Z"/>
<path fill="#d5ebe9" d="M895.2,256.2 C896.1,254.1 898.1,253.3 900.1,253.7 C902.1,254.1 905.6,256.2 907.5,258.7 C909.4,261.2 910.8,265.2 911.2,268.5 C911.6,271.8 911.0,275.5 910.0,278.4 C909.0,281.3 906.0,282.5 905.0,285.8 C904.0,289.1 904.1,294.4 903.8,298.1 C903.5,301.8 903.7,307.9 903.1,307.9 C902.5,307.9 901.0,302.6 900.1,298.1 C899.2,293.6 898.5,286.1 897.6,280.8 C896.7,275.5 895.1,270.2 894.7,266.1 C894.3,262.0 894.3,258.3 895.2,256.2Z"/>
<path fill="#a5d6d5" d="M909.9,268.6 C910.1,269.7 910.2,270.9 910.1,272.0 C910.0,273.1 909.7,274.2 909.3,275.1 C908.9,276.0 908.3,276.8 907.7,277.4 C907.1,277.9 906.3,278.3 905.6,278.5 C904.8,278.6 904.0,278.5 903.2,278.2 C902.4,277.9 901.6,277.3 900.9,276.6 C900.3,275.9 899.6,274.9 899.1,274.0 C898.7,273.0 898.3,271.8 898.1,270.6 C897.9,269.5 897.8,268.3 897.9,267.2 C898.0,266.1 898.3,265.0 898.7,264.1 C899.1,263.2 899.7,262.4 900.3,261.8 C900.9,261.3 901.7,260.9 902.4,260.7 C903.2,260.6 904.0,260.7 904.8,261.0 C905.6,261.3 906.4,261.9 907.1,262.6 C907.7,263.3 908.4,264.3 908.9,265.2 C909.3,266.2 909.7,267.4 909.9,268.6Z"/>
<path fill="#66c0be" d="M907.9,268.9 C908.1,269.7 908.1,270.6 908.1,271.4 C908.0,272.2 907.8,273.0 907.6,273.6 C907.3,274.3 907.0,274.9 906.6,275.2 C906.1,275.6 905.6,275.9 905.1,276.0 C904.6,276.1 904.1,276.0 903.5,275.8 C903.0,275.5 902.5,275.1 902.0,274.6 C901.6,274.1 901.1,273.4 900.8,272.7 C900.5,272.0 900.2,271.1 900.1,270.3 C899.9,269.5 899.9,268.6 899.9,267.8 C900.0,267.0 900.2,266.2 900.4,265.6 C900.7,264.9 901.0,264.3 901.4,264.0 C901.9,263.6 902.4,263.3 902.9,263.2 C903.4,263.1 903.9,263.2 904.5,263.4 C905.0,263.7 905.5,264.1 906.0,264.6 C906.4,265.1 906.9,265.8 907.2,266.5 C907.5,267.2 907.8,268.1 907.9,268.9Z"/>
<path fill="#fff285" d="M955.0,273.7 C955.2,275.0 955.2,276.5 955.1,277.7 C954.9,279.0 954.5,280.2 954.0,281.2 C953.5,282.2 952.8,283.1 952.1,283.8 C951.3,284.4 950.4,284.8 949.5,284.9 C948.6,285.0 947.7,284.9 946.8,284.5 C945.9,284.1 945.0,283.4 944.2,282.6 C943.5,281.8 942.8,280.7 942.2,279.5 C941.7,278.3 941.4,277.0 941.2,275.7 C941.0,274.4 941.0,272.9 941.1,271.7 C941.3,270.4 941.7,269.2 942.2,268.2 C942.7,267.2 943.4,266.3 944.1,265.6 C944.9,265.0 945.8,264.6 946.7,264.5 C947.6,264.4 948.5,264.5 949.4,264.9 C950.3,265.3 951.2,266.0 952.0,266.8 C952.7,267.6 953.4,268.7 954.0,269.9 C954.5,271.1 954.8,272.4 955.0,273.7Z"/>
<path fill="#d5ebe9" d="M953.2,274.0 C953.4,275.0 953.4,276.1 953.3,277.1 C953.2,278.1 952.9,279.1 952.5,279.9 C952.2,280.7 951.7,281.4 951.1,281.9 C950.6,282.4 949.9,282.7 949.2,282.8 C948.6,282.9 947.8,282.8 947.2,282.5 C946.5,282.2 945.8,281.6 945.3,281.0 C944.7,280.3 944.2,279.4 943.8,278.5 C943.4,277.6 943.1,276.5 943.0,275.4 C942.8,274.4 942.8,273.3 942.9,272.3 C943.0,271.3 943.3,270.3 943.7,269.5 C944.0,268.7 944.5,268.0 945.1,267.5 C945.6,267.0 946.3,266.7 947.0,266.6 C947.6,266.5 948.4,266.6 949.0,266.9 C949.7,267.2 950.4,267.8 950.9,268.4 C951.5,269.1 952.0,270.0 952.4,270.9 C952.8,271.8 953.1,272.9 953.2,274.0Z"/>
<path fill="#a5d6d5" d="M951.1,274.3 C951.2,274.9 951.2,275.6 951.1,276.2 C951.0,276.8 950.9,277.4 950.7,277.9 C950.5,278.4 950.2,278.8 949.9,279.1 C949.6,279.4 949.2,279.6 948.8,279.7 C948.4,279.7 948.0,279.6 947.6,279.4 C947.2,279.2 946.8,278.9 946.5,278.5 C946.2,278.1 945.8,277.5 945.6,277.0 C945.4,276.4 945.2,275.7 945.1,275.1 C945.0,274.5 945.0,273.8 945.1,273.2 C945.2,272.6 945.3,272.0 945.5,271.5 C945.7,271.0 946.0,270.6 946.3,270.3 C946.6,270.0 947.0,269.8 947.4,269.7 C947.8,269.7 948.2,269.8 948.6,270.0 C949.0,270.2 949.4,270.5 949.7,270.9 C950.0,271.3 950.4,271.9 950.6,272.4 C950.8,273.0 951.0,273.7 951.1,274.3Z"/>
<path fill="#66c0be" d="M949.8,274.5 C949.8,274.8 949.8,275.2 949.8,275.5 C949.8,275.8 949.7,276.1 949.6,276.4 C949.5,276.6 949.4,276.8 949.2,277.0 C949.0,277.1 948.9,277.2 948.7,277.3 C948.5,277.3 948.3,277.3 948.1,277.2 C947.9,277.1 947.7,276.9 947.5,276.7 C947.3,276.5 947.2,276.2 947.1,275.9 C947.0,275.6 946.9,275.2 946.8,274.9 C946.8,274.6 946.8,274.2 946.8,273.9 C946.8,273.6 946.9,273.3 947.0,273.0 C947.1,272.8 947.2,272.6 947.4,272.4 C947.6,272.3 947.7,272.2 947.9,272.1 C948.1,272.1 948.3,272.1 948.5,272.2 C948.7,272.3 948.9,272.5 949.1,272.7 C949.3,272.9 949.4,273.2 949.5,273.5 C949.6,273.8 949.7,274.2 949.8,274.5Z"/>
<path fill="#d5ebe9" d="M810.2,216.8 C807.7,218.2 806.5,224.6 804.0,227.9 C801.5,231.2 796.8,233.4 795.4,236.5 C794.0,239.6 794.0,243.1 795.4,246.4 C796.8,249.7 800.1,253.8 804.0,256.2 C807.9,258.6 814.9,261.1 818.8,261.1 C822.7,261.1 826.2,258.2 827.4,256.2 C828.6,254.1 827.6,250.9 826.2,248.8 C824.8,246.8 819.6,246.0 818.8,243.9 C818.0,241.8 819.2,239.0 821.3,236.5 C823.3,234.0 830.3,231.3 831.1,229.1 C831.9,226.8 828.2,224.6 826.2,223.0 C824.2,221.4 821.5,220.3 818.8,219.3 C816.1,218.3 812.7,215.4 810.2,216.8Z"/>
<path fill="#d5ebe9" d="M1066.7,337.0 C1064.7,337.2 1064.2,337.4 1062.1,338.3 C1060.0,339.2 1057.1,340.6 1054.0,342.1 C1050.9,343.6 1046.6,345.7 1043.7,347.2 C1040.8,348.7 1037.0,349.3 1036.6,351.0 C1036.2,352.7 1039.0,355.5 1041.2,357.4 C1043.5,359.3 1047.1,361.1 1050.1,362.6 C1053.1,364.1 1056.8,365.1 1059.1,366.4 C1061.4,367.7 1061.2,369.6 1063.7,370.2 C1066.2,370.8 1072.6,375.7 1074.4,370.2 C1076.2,364.7 1075.7,342.5 1074.4,337.0 C1073.1,331.5 1068.8,336.8 1066.7,337.0Z"/>
<path fill="#d5ebe9" d="M1069.3,384.3 C1066.8,379.6 1061.6,385.2 1059.1,385.6 C1056.5,386.0 1056.6,386.5 1054.0,386.9 C1051.4,387.3 1047.5,387.2 1043.7,388.1 C1039.9,389.0 1034.5,390.3 1030.9,392.0 C1027.3,393.7 1024.1,396.0 1022.0,398.4 C1019.9,400.8 1018.5,403.6 1018.1,406.1 C1017.7,408.7 1018.3,411.6 1019.4,413.7 C1020.5,415.8 1023.4,416.2 1024.5,418.8 C1025.6,421.4 1026.2,425.7 1025.8,429.1 C1025.4,432.5 1023.3,435.9 1022.0,439.3 C1020.7,442.7 1014.5,448.6 1018.1,449.5 C1021.7,450.4 1034.3,450.4 1043.7,444.4 C1053.1,438.4 1070.1,423.7 1074.4,413.7 C1078.7,403.7 1071.8,389.0 1069.3,384.3Z"/>
<path fill="#a5d6d5" d="M1064.2,386.9 C1062.1,386.0 1059.5,387.2 1056.5,388.1 C1053.5,389.0 1049.7,390.5 1046.3,392.0 C1042.9,393.5 1038.4,395.2 1036.1,397.1 C1033.8,399.0 1032.0,401.1 1032.2,403.5 C1032.4,405.9 1035.4,409.1 1037.3,411.2 C1039.2,413.3 1041.6,415.7 1043.7,416.3 C1045.8,416.9 1047.5,416.3 1050.1,415.0 C1052.7,413.7 1055.9,412.2 1059.1,408.6 C1062.3,405.0 1068.4,396.9 1069.3,393.3 C1070.2,389.7 1066.3,387.8 1064.2,386.9Z"/>
<path fill="#66c0be" d="M1064.2,390.7 C1062.9,389.2 1059.3,391.1 1056.5,392.0 C1053.7,392.9 1050.1,394.3 1047.6,395.8 C1045.0,397.3 1042.3,399.2 1041.2,400.9 C1040.1,402.6 1039.9,404.2 1040.7,406.1 C1041.5,408.0 1044.3,411.8 1046.3,412.4 C1048.3,413.0 1049.7,411.8 1052.7,409.9 C1055.7,408.0 1062.3,404.1 1064.2,400.9 C1066.1,397.7 1065.5,392.2 1064.2,390.7Z"/>
<path fill="#00a5a5" d="M1062.9,393.3 C1061.8,392.7 1058.6,393.9 1056.5,394.5 C1054.4,395.1 1051.8,395.8 1050.1,397.1 C1048.4,398.4 1046.5,400.3 1046.3,402.2 C1046.1,404.1 1047.3,408.2 1048.8,408.6 C1050.3,409.0 1052.8,406.5 1055.2,404.8 C1057.6,403.1 1061.6,400.3 1062.9,398.4 C1064.2,396.5 1064.0,393.9 1062.9,393.3Z"/>
<path fill="#d5ebe9" d="M1000.2,459.8 C998.1,461.1 991.2,466.1 987.4,467.4 C983.6,468.7 980.6,467.6 977.2,467.4 C973.8,467.2 970.4,465.8 967.0,466.2 C963.6,466.6 960.5,468.1 956.7,470.0 C952.9,471.9 948.2,475.1 944.0,477.7 C939.8,480.3 934.4,482.4 931.2,485.4 C928.0,488.4 925.7,492.6 924.8,495.6 C923.9,498.6 926.2,503.2 926.0,503.3 C925.8,503.4 923.1,496.1 923.8,496.1 C924.5,496.1 928.1,500.9 930.0,503.4 C931.9,505.8 933.9,507.5 934.9,510.8 C935.9,514.1 936.5,518.7 936.1,523.2 C935.7,527.7 933.4,533.0 932.4,537.9 C931.4,542.8 930.8,547.0 930.0,552.7 C929.2,558.5 928.3,565.4 927.5,572.4 C926.7,579.4 925.6,587.6 925.0,594.6 C924.4,601.6 924.0,608.1 923.8,614.3 C923.6,620.4 924.0,626.6 923.8,631.5 C923.6,636.4 923.2,640.9 922.6,643.8 C922.0,646.7 920.5,648.0 920.1,648.8 L960.0,660.0 L1100.0,660.0 L1100.0,440.0Z"/>
<path fill="#a5d6d5" d="M964.4,481.5 C962.7,480.4 959.2,482.6 956.7,484.1 C954.2,485.6 951.2,488.2 949.1,490.5 C947.0,492.8 945.3,495.1 944.0,498.1 C942.7,501.1 942.0,504.8 941.4,508.4 C940.8,512.0 938.0,518.2 940.1,519.9 C942.2,521.6 951.4,520.1 954.2,518.6 C957.0,517.1 955.4,513.9 956.7,510.9 C958.0,507.9 960.2,504.1 961.9,500.7 C963.6,497.3 966.6,493.7 967.0,490.5 C967.4,487.3 966.1,482.6 964.4,481.5Z"/>
<path fill="#a5d6d5" d="M942.3,498.5 C944.1,494.0 946.8,491.4 949.7,488.7 C952.6,486.0 956.8,483.3 959.5,482.5 C962.2,481.7 964.6,481.8 965.7,483.7 C966.9,485.6 967.0,490.3 966.4,493.6 C965.8,496.9 964.0,500.7 962.0,503.4 C960.0,506.1 957.1,507.1 954.6,509.6 C952.1,512.1 948.9,514.3 947.2,518.2 C945.6,522.1 945.3,528.1 944.7,533.0 C944.1,537.9 943.5,542.0 943.5,547.8 C943.5,553.5 944.7,560.9 944.7,567.5 C944.7,574.1 944.1,582.7 943.5,587.2 C942.9,591.7 942.2,597.1 941.0,594.6 C939.8,592.1 937.3,579.4 936.1,572.4 C934.9,565.4 933.8,559.3 933.6,552.7 C933.4,546.1 934.1,539.1 934.9,533.0 C935.7,526.9 937.4,521.5 938.6,515.8 C939.8,510.0 940.4,503.0 942.3,498.5Z"/>
<path fill="#d5ebe9" d="M542.3,793.6 C553.7,794.0 564.7,796.3 576.4,795.9 C588.1,795.5 602.1,794.4 612.7,791.4 C623.3,788.4 630.9,782.2 640.0,777.7 C649.1,773.2 658.2,767.7 667.3,764.1 C676.4,760.5 685.4,756.9 694.5,755.9 C703.6,754.9 715.0,759.3 721.8,758.2 C728.6,757.1 732.3,753.1 735.5,749.1 C738.7,745.1 740.5,740.0 740.9,734.5 C741.3,729.0 740.5,723.2 737.7,716.4 C734.9,709.6 728.6,699.7 724.1,693.6 C719.6,687.5 714.3,683.8 710.5,680.0 C706.7,676.2 701.0,673.9 701.4,670.9 C701.8,667.9 711.6,665.6 712.7,661.8 C713.8,658.0 711.2,652.4 708.2,648.2 C705.2,644.0 699.0,639.8 694.5,636.8 C690.0,633.8 685.4,630.4 680.9,630.0 C676.4,629.6 671.8,634.9 667.3,634.5 C662.8,634.1 657.0,630.4 653.6,627.7 C650.2,625.1 646.0,621.6 646.8,618.6 C647.6,615.6 653.3,611.0 658.2,609.5 C663.1,608.0 671.5,608.4 676.4,609.5 C681.3,610.6 684.7,616.4 687.7,616.4 C690.7,616.4 694.9,612.1 694.5,609.5 C694.1,606.9 690.0,602.5 685.5,600.5 C681.0,598.5 673.4,597.1 667.3,597.3 C661.2,597.5 654.4,599.4 649.1,601.8 C643.8,604.2 640.0,607.8 635.5,611.8 C631.0,615.8 627.1,621.3 621.8,625.5 C616.5,629.7 609.6,635.7 603.6,636.8 C597.6,637.9 590.8,632.3 585.5,632.3 C580.2,632.3 574.8,637.9 571.8,636.8 C568.8,635.7 566.5,628.9 567.3,625.5 C568.1,622.1 576.4,619.1 576.4,616.4 C576.4,613.7 570.7,609.5 567.3,609.5 C563.9,609.5 559.3,613.0 555.9,616.4 C552.5,619.8 549.1,629.2 546.8,630.0 C544.5,630.8 544.9,623.9 542.3,620.9 C539.6,617.9 532.8,610.3 530.9,611.8 C529.0,613.3 529.8,623.9 530.9,630.0 C532.0,636.1 537.3,642.1 537.7,648.2 C538.1,654.3 536.6,660.4 533.2,666.4 C529.8,672.4 521.1,677.7 517.3,684.5 C513.5,691.3 511.3,700.5 510.5,707.3 C509.7,714.1 513.1,717.9 512.7,725.5 C512.3,733.1 508.2,744.4 508.2,752.7 C508.2,761.0 512.7,768.7 512.7,775.5 C512.7,782.3 503.3,790.6 508.2,793.6 C513.1,796.6 530.9,793.2 542.3,793.6Z"/>
<path fill="#a5d6d5" d="M552.1,613.0 C548.0,614.6 555.6,615.4 557.0,617.9 C558.4,620.4 558.9,624.5 560.7,627.8 C562.6,631.1 566.5,633.5 568.1,637.6 C569.8,641.7 569.4,648.9 570.6,652.4 C571.8,655.9 574.3,659.0 575.5,658.6 C576.7,658.2 577.0,652.5 578.0,650.0 C579.0,647.5 579.9,643.8 581.7,643.8 C583.6,643.8 586.9,649.4 589.1,650.0 C591.4,650.6 593.0,647.3 595.2,647.5 C597.5,647.7 600.8,652.9 602.6,651.2 C604.5,649.6 604.0,641.1 606.3,637.6 C608.6,634.1 612.3,630.8 616.2,630.2 C620.1,629.6 626.0,633.5 629.7,633.9 C633.4,634.3 636.9,636.2 638.3,632.7 C639.7,629.2 643.6,617.1 638.3,613.0 C633.0,608.9 615.7,608.9 606.3,608.1 C596.9,607.3 590.7,607.3 581.7,608.1 C572.7,608.9 556.2,611.4 552.1,613.0Z"/>
<path fill="#a5d6d5" d="M510.1,717.9 C508.5,719.1 508.8,723.7 509.3,726.3 C509.7,728.9 511.5,730.2 512.9,733.5 C514.2,736.8 516.4,741.3 517.7,746.1 C518.9,751.0 519.2,756.6 520.2,762.5 C521.2,768.5 522.2,778.1 523.7,782.1 C525.2,786.1 527.5,786.7 529.2,786.6 C530.9,786.4 533.0,785.3 533.7,781.1 C534.3,776.9 533.4,767.6 533.2,761.3 C532.9,754.9 533.3,748.9 532.3,743.1 C531.3,737.2 529.5,730.4 527.1,726.3 C524.8,722.2 521.4,720.1 518.5,718.7 C515.7,717.3 511.6,716.6 510.1,717.9Z"/>
<path fill="#66c0be" d="M514.5,726.0 C513.6,726.5 513.2,728.3 513.3,730.0 C513.4,731.7 514.3,733.2 515.0,736.2 C515.8,739.1 517.0,743.3 517.8,747.7 C518.6,752.0 519.1,757.1 519.8,762.2 C520.5,767.3 521.2,775.1 522.0,778.1 C522.8,781.1 523.9,780.5 524.7,780.4 C525.5,780.3 526.6,780.8 527.0,777.7 C527.3,774.6 527.0,766.8 526.8,761.6 C526.6,756.4 526.3,751.2 525.8,746.5 C525.2,741.8 524.8,736.7 523.6,733.4 C522.4,730.2 520.1,728.4 518.5,727.2 C517.0,725.9 515.3,725.5 514.5,726.0Z"/>
<path fill="#fff285" d="M384.6,541.6 C385.4,532.4 387.9,528.8 389.6,526.8 C391.3,524.8 393.9,526.5 395.7,528.0 C397.5,529.5 399.5,534.3 401.9,536.7 C404.3,539.1 407.6,542.5 411.7,544.0 C415.8,545.5 424.2,546.7 429.0,546.5 C433.8,546.3 439.3,544.3 443.7,542.8 C448.1,541.3 454.1,538.2 458.5,536.7 C462.9,535.2 468.9,533.6 473.3,533.0 C477.7,532.4 484.0,532.6 488.1,533.0 C492.2,533.4 497.1,535.4 500.4,535.4 C503.7,535.4 507.6,533.7 510.2,533.0 C512.8,532.3 515.9,529.2 517.6,530.5 C519.3,531.8 520.5,538.1 521.3,541.6 C522.0,545.1 522.6,549.8 522.6,553.9 C522.6,558.0 520.9,565.7 521.3,568.7 C521.7,571.7 523.7,574.0 525.0,573.6 C526.3,573.2 528.5,567.3 530.0,566.2 C531.5,565.1 533.6,564.9 534.9,566.2 C536.2,567.5 537.3,572.6 538.6,574.8 C539.9,577.0 542.0,581.0 543.5,581.0 C545.0,581.0 547.1,575.9 548.4,574.8 C549.7,573.7 551.4,572.3 552.1,573.6 C552.8,574.9 553.3,579.7 553.3,583.4 C553.3,587.1 551.9,594.9 552.1,598.2 C552.3,601.5 553.9,603.4 554.6,605.6 C555.3,607.8 557.4,611.3 557.0,613.0 C556.6,614.7 552.5,615.2 552.1,616.7 C551.7,618.2 553.7,621.2 554.6,622.9 C555.5,624.6 558.7,626.5 558.3,627.8 C557.9,629.1 553.2,630.4 552.1,631.5 C551.0,632.6 549.8,634.3 550.9,635.2 C552.0,636.1 557.7,635.8 559.5,637.6 C561.3,639.4 563.0,644.7 563.2,647.5 C563.4,650.3 562.0,654.1 560.7,656.1 C559.4,658.1 557.0,660.8 554.6,661.0 C552.2,661.2 547.3,657.9 544.7,657.3 C542.1,656.7 538.6,655.8 537.3,657.3 C536.0,658.8 536.8,663.9 536.1,667.2 C535.4,670.5 534.4,675.8 532.4,679.5 C530.4,683.2 524.8,688.5 522.6,691.8 C520.4,695.1 519.5,698.7 517.6,701.7 C515.7,704.7 512.8,708.9 510.2,711.5 C507.6,714.1 502.2,717.1 500.4,718.9 C498.6,720.7 497.5,721.2 497.9,723.8 C498.3,726.4 501.8,732.9 502.9,736.2 C504.0,739.5 515.6,744.5 505.3,746.0 C494.9,747.5 444.6,763.7 433.9,746.0 C423.2,728.3 441.3,651.4 433.9,627.8 C426.5,604.2 392.0,601.3 384.6,588.4 C377.2,575.5 383.9,550.8 384.6,541.6Z" stroke="#d5ebe9" stroke-width="22" stroke-linejoin="round"/>
<path fill="#fff285" d="M384.6,541.6 C385.4,532.4 387.9,528.8 389.6,526.8 C391.3,524.8 393.9,526.5 395.7,528.0 C397.5,529.5 399.5,534.3 401.9,536.7 C404.3,539.1 407.6,542.5 411.7,544.0 C415.8,545.5 424.2,546.7 429.0,546.5 C433.8,546.3 439.3,544.3 443.7,542.8 C448.1,541.3 454.1,538.2 458.5,536.7 C462.9,535.2 468.9,533.6 473.3,533.0 C477.7,532.4 484.0,532.6 488.1,533.0 C492.2,533.4 497.1,535.4 500.4,535.4 C503.7,535.4 507.6,533.7 510.2,533.0 C512.8,532.3 515.9,529.2 517.6,530.5 C519.3,531.8 520.5,538.1 521.3,541.6 C522.0,545.1 522.6,549.8 522.6,553.9 C522.6,558.0 520.9,565.7 521.3,568.7 C521.7,571.7 523.7,574.0 525.0,573.6 C526.3,573.2 528.5,567.3 530.0,566.2 C531.5,565.1 533.6,564.9 534.9,566.2 C536.2,567.5 537.3,572.6 538.6,574.8 C539.9,577.0 542.0,581.0 543.5,581.0 C545.0,581.0 547.1,575.9 548.4,574.8 C549.7,573.7 551.4,572.3 552.1,573.6 C552.8,574.9 553.3,579.7 553.3,583.4 C553.3,587.1 551.9,594.9 552.1,598.2 C552.3,601.5 553.9,603.4 554.6,605.6 C555.3,607.8 557.4,611.3 557.0,613.0 C556.6,614.7 552.5,615.2 552.1,616.7 C551.7,618.2 553.7,621.2 554.6,622.9 C555.5,624.6 558.7,626.5 558.3,627.8 C557.9,629.1 553.2,630.4 552.1,631.5 C551.0,632.6 549.8,634.3 550.9,635.2 C552.0,636.1 557.7,635.8 559.5,637.6 C561.3,639.4 563.0,644.7 563.2,647.5 C563.4,650.3 562.0,654.1 560.7,656.1 C559.4,658.1 557.0,660.8 554.6,661.0 C552.2,661.2 547.3,657.9 544.7,657.3 C542.1,656.7 538.6,655.8 537.3,657.3 C536.0,658.8 536.8,663.9 536.1,667.2 C535.4,670.5 534.4,675.8 532.4,679.5 C530.4,683.2 524.8,688.5 522.6,691.8 C520.4,695.1 519.5,698.7 517.6,701.7 C515.7,704.7 512.8,708.9 510.2,711.5 C507.6,714.1 502.2,717.1 500.4,718.9 C498.6,720.7 497.5,721.2 497.9,723.8 C498.3,726.4 501.8,732.9 502.9,736.2 C504.0,739.5 515.6,744.5 505.3,746.0 C494.9,747.5 444.6,763.7 433.9,746.0 C423.2,728.3 441.3,651.4 433.9,627.8 C426.5,604.2 392.0,601.3 384.6,588.4 C377.2,575.5 383.9,550.8 384.6,541.6Z"/>
<path fill="#fcc877" d="M438.3,588.4 C438.4,563.3 438.5,581.5 438.8,578.5 C439.1,575.5 438.9,572.0 440.0,568.7 C441.1,565.4 443.4,559.2 446.2,556.4 C449.0,553.6 454.4,551.5 458.5,550.2 C462.6,548.9 468.9,547.7 473.3,547.7 C477.7,547.7 484.4,549.1 488.1,550.2 C491.8,551.3 495.7,553.1 497.9,555.1 C500.1,557.1 501.1,561.3 502.9,563.7 C504.7,566.1 507.6,568.5 510.2,571.1 C512.8,573.7 517.5,577.7 520.1,581.0 C522.7,584.3 526.0,589.2 527.5,593.3 C529.0,597.4 530.0,602.9 530.4,608.1 C530.8,613.3 530.3,621.9 530.0,627.8 C529.7,633.7 529.3,642.3 528.7,647.5 C528.1,652.7 527.6,658.6 526.3,662.3 C525.0,666.0 522.1,669.5 520.1,672.1 C518.1,674.7 514.7,677.7 512.7,679.5 C510.7,681.3 508.1,682.6 506.6,684.4 C505.1,686.2 504.2,690.5 502.9,691.8 C501.6,693.1 499.4,693.7 497.9,693.1 C496.4,692.5 494.5,690.0 493.0,688.1 C491.5,686.2 489.8,682.2 488.1,680.7 C486.4,679.2 483.7,677.9 481.9,678.3 C480.1,678.7 477.0,680.8 475.8,683.2 C474.6,685.6 473.8,690.8 473.8,694.3 C473.8,697.8 474.8,702.5 475.8,706.6 C476.8,710.7 479.2,716.6 480.7,721.4 C482.2,726.2 484.5,734.9 485.6,738.6 C486.7,742.3 495.2,744.9 488.1,746.0 C481.0,747.1 445.8,769.6 438.3,746.0 C430.8,722.4 438.2,613.5 438.3,588.4Z"/>
<path fill="#d5ebe9" d="M413.0,569.9 C413.6,568.6 415.3,567.6 416.7,568.2 C418.1,568.8 420.2,571.7 421.6,573.6 C423.0,575.5 424.6,577.8 425.3,579.8 C426.0,581.8 427.6,584.9 426.0,585.9 C424.4,586.9 417.6,587.5 415.4,585.9 C413.2,584.3 413.4,578.8 413.0,576.1 C412.6,573.4 412.4,571.2 413.0,569.9Z"/>
<path fill="#66c0be" d="M554.6,563.7 C555.2,561.4 557.2,560.4 559.5,560.0 C561.8,559.6 566.1,560.1 568.1,561.3 C570.1,562.5 571.6,564.9 571.8,567.4 C572.0,569.9 570.6,573.4 569.4,576.1 C568.2,578.8 565.0,580.5 564.4,583.4 C563.8,586.3 564.5,590.4 565.7,593.3 C566.9,596.2 570.0,598.2 571.8,600.7 C573.6,603.2 576.3,605.2 576.7,608.1 C577.1,611.0 573.9,614.6 574.3,617.9 C574.7,621.2 577.6,625.3 579.2,627.8 C580.8,630.3 583.5,631.1 584.1,632.7 C584.7,634.3 584.1,637.6 582.9,637.6 C581.7,637.6 578.6,635.2 576.7,632.7 C574.9,630.2 573.8,626.2 571.8,622.9 C569.8,619.6 566.4,617.1 564.4,613.0 C562.4,608.9 560.7,603.1 559.5,598.2 C558.3,593.3 557.6,587.5 557.0,583.4 C556.4,579.3 556.2,576.9 555.8,573.6 C555.4,570.3 554.0,566.0 554.6,563.7Z"/>
<path fill="#66c0be" d="M581.7,568.7 C582.1,567.5 587.8,566.8 591.5,567.4 C595.2,568.0 601.5,570.5 603.8,572.4 C606.1,574.2 606.3,575.8 605.1,578.5 C603.9,581.2 598.8,585.5 596.5,588.4 C594.2,591.3 593.0,595.2 591.5,595.8 C590.0,596.4 587.6,594.4 587.8,592.1 C588.0,589.8 592.6,585.1 592.8,582.2 C593.0,579.3 591.0,577.0 589.1,574.8 C587.2,572.5 581.3,569.9 581.7,568.7Z"/>
<path fill="#66c0be" d="M576.7,608.1 C579.2,605.2 586.6,601.5 591.5,600.7 C596.4,599.9 601.8,603.2 606.3,603.2 C610.8,603.2 614.7,599.9 618.6,600.7 C622.5,601.5 626.8,605.9 629.7,608.1 C632.6,610.4 635.9,612.6 635.9,614.2 C635.9,615.8 632.6,616.7 629.7,617.9 C626.8,619.1 621.7,622.8 618.6,621.6 C615.5,620.4 613.7,612.4 611.2,610.5 C608.7,608.6 606.2,609.3 603.8,610.5 C601.3,611.7 599.8,615.8 596.5,617.9 C593.2,620.0 587.4,622.9 584.1,622.9 C580.8,622.9 577.9,620.4 576.7,617.9 C575.5,615.4 574.2,611.0 576.7,608.1Z"/>
<path fill="#66c0be" d="M655.4,578.5 C655.8,577.3 660.9,577.3 664.0,577.3 C667.1,577.3 671.4,579.5 673.9,578.5 C676.4,577.5 678.2,573.8 678.8,571.1 C679.4,568.4 676.8,564.5 677.6,562.5 C678.4,560.5 680.2,559.0 683.7,558.8 C687.2,558.6 694.4,560.5 698.5,561.3 C702.6,562.1 705.5,564.1 708.4,563.7 C711.3,563.3 714.8,561.0 715.8,558.8 C716.8,556.5 714.1,552.1 714.5,550.2 C714.9,548.4 716.8,547.1 718.2,547.7 C719.7,548.3 721.6,551.2 723.2,553.9 C724.9,556.6 726.5,560.4 728.1,563.7 C729.7,567.0 733.0,571.1 733.0,573.6 C733.0,576.1 730.6,577.3 728.1,578.5 C725.6,579.7 721.5,580.6 718.2,581.0 C714.9,581.4 710.9,580.2 708.4,581.0 C705.9,581.8 705.0,583.9 703.4,585.9 C701.8,587.9 700.1,591.2 698.5,593.3 C696.9,595.3 695.2,597.8 693.6,598.2 C692.0,598.6 690.4,597.4 688.7,595.8 C687.1,594.2 686.2,590.0 683.7,588.4 C681.2,586.8 677.6,586.5 673.9,585.9 C670.2,585.3 664.7,585.9 661.6,584.7 C658.5,583.5 655.0,579.7 655.4,578.5Z"/>
<path fill="#66c0be" d="M597.5,605.6 C599.6,602.1 605.8,601.3 609.9,600.7 C614.0,600.1 618.9,600.7 622.2,601.9 C625.5,603.1 628.2,606.0 629.6,608.1 C631.0,610.2 631.6,612.2 630.8,614.2 C630.0,616.2 626.9,619.2 624.6,620.4 C622.3,621.6 619.2,622.8 617.2,621.6 C615.2,620.4 613.9,615.2 612.3,613.0 C610.7,610.8 608.8,608.1 607.4,608.1 C606.0,608.1 604.3,611.0 603.7,613.0 C603.1,615.0 604.7,619.0 603.7,620.4 C602.7,621.8 598.5,624.1 597.5,621.6 C596.5,619.1 595.4,609.1 597.5,605.6Z"/>
<path fill="#66c0be" d="M708.4,617.9 C708.8,614.4 710.7,609.0 712.1,605.6 C713.5,602.2 715.6,598.5 717.0,597.7 C718.4,596.9 720.3,598.6 720.7,600.7 C721.1,602.8 720.3,606.8 719.5,610.5 C718.7,614.2 716.6,619.8 715.8,622.9 C715.0,626.0 715.5,628.4 714.5,629.0 C713.5,629.6 710.6,628.5 709.6,626.6 C708.6,624.8 708.0,621.4 708.4,617.9Z"/>
<path fill="#fff285" d="M576.0,727.3 C575.2,722.7 574.7,716.6 574.9,712.0 C575.1,707.4 575.8,701.3 577.1,696.7 C578.4,692.1 581.0,685.4 583.6,681.5 C586.2,677.6 590.6,672.6 594.5,670.5 C598.4,668.4 605.9,668.9 609.8,667.3 C613.7,665.7 618.7,662.4 620.7,659.6 C622.7,656.8 621.9,651.6 622.9,648.7 C623.9,645.8 625.2,641.7 627.3,640.0 C629.4,638.3 633.2,639.4 636.9,637.6 C640.6,635.8 648.4,628.5 651.7,627.8 C655.0,627.1 656.1,630.5 659.1,632.7 C662.1,634.9 669.6,640.8 671.4,642.6 C673.2,644.4 672.3,643.2 670.9,644.4 C669.5,645.6 664.5,648.6 662.2,650.9 C659.9,653.2 656.7,657.1 655.6,659.6 C654.5,662.1 653.6,665.7 654.6,667.3 C655.6,668.9 660.1,669.7 662.2,670.5 C664.3,671.3 666.7,671.4 668.7,672.7 C670.7,674.0 673.0,677.7 675.3,679.3 C677.6,680.9 681.1,682.8 684.0,683.6 C686.9,684.4 692.1,684.2 694.9,684.7 C697.7,685.2 701.3,685.4 702.6,686.9 C703.9,688.4 703.8,692.5 703.6,694.5 C703.4,696.5 700.8,698.0 701.5,700.0 C702.2,702.0 705.7,705.1 708.0,707.6 C710.3,710.1 714.2,713.8 716.7,716.4 C719.2,719.0 722.9,722.5 724.4,725.1 C725.9,727.7 726.8,731.2 726.6,733.8 C726.4,736.4 724.8,740.6 723.3,742.6 C721.8,744.6 719.3,746.1 716.7,746.9 C714.1,747.7 709.4,748.0 705.8,748.0 C702.2,748.0 696.6,746.9 692.7,746.9 C688.8,746.9 683.5,747.7 679.6,748.0 C675.7,748.3 670.5,748.4 666.6,749.1 C662.7,749.8 657.1,751.3 653.5,752.4 C649.9,753.5 645.9,755.4 642.6,756.7 C639.3,758.0 634.9,759.9 631.6,761.1 C628.3,762.3 624.0,763.9 620.7,764.4 C617.4,764.9 613.1,764.9 609.8,764.4 C606.5,763.9 602.2,762.7 598.9,761.1 C595.6,759.5 590.8,756.3 588.0,753.5 C585.2,750.7 582.2,746.5 580.4,742.6 C578.6,738.7 576.8,731.9 576.0,727.3Z"/>
<path fill="none" d="M698.7,645.0 C700.7,643.7 707.9,646.0 711.8,645.0 C715.7,644.0 720.6,640.1 724.9,638.5 C729.2,636.9 736.9,633.4 740.2,634.1 C743.5,634.8 744.8,640.9 746.7,642.9 C748.7,644.9 751.6,647.5 753.2,647.2 C754.8,646.9 756.6,640.7 757.6,640.7 C758.6,640.7 758.5,644.9 759.8,647.2 C761.1,649.5 765.3,653.3 766.3,655.9 C767.3,658.5 767.3,661.7 766.3,664.7 C765.3,667.7 760.1,673.0 759.8,675.6 C759.5,678.2 762.1,680.1 764.1,682.1 C766.1,684.1 769.9,687.7 772.9,688.7 C775.9,689.7 780.9,688.4 783.8,688.7 C786.7,689.0 790.2,691.1 792.5,690.8 C794.8,690.5 796.7,687.8 799.0,686.5 C801.3,685.2 805.7,684.1 807.7,682.1 C809.7,680.1 811.6,676.3 812.1,673.4 C812.6,670.5 811.0,666.1 811.0,662.5 C811.0,658.9 811.4,652.7 812.1,649.4 C812.8,646.1 814.1,642.3 815.4,640.7 C816.7,639.1 818.7,638.5 820.8,638.5 C822.9,638.5 827.6,639.4 829.6,640.7 C831.6,642.0 833.6,644.6 833.9,647.2 C834.2,649.8 832.3,654.8 831.7,658.1 C831.1,661.4 829.3,666.1 829.6,669.0 C829.9,671.9 833.6,675.1 833.9,677.7 C834.2,680.3 833.0,684.5 831.7,686.5 C830.4,688.5 826.8,688.8 825.2,690.8 C823.6,692.8 821.8,696.6 820.8,699.6 C819.8,702.6 819.3,707.2 818.7,710.5 C818.1,713.8 816.5,718.5 816.5,721.4 C816.5,724.3 816.7,728.1 818.7,730.1 C820.7,732.1 826.0,733.1 829.6,734.4 C833.2,735.7 839.3,737.5 842.6,738.8 C845.9,740.1 850.7,741.6 851.4,743.2 C852.1,744.8 849.0,748.1 847.0,749.7 C845.0,751.3 841.6,753.1 838.3,754.1 C835.0,755.1 829.1,755.6 825.2,756.2 C821.3,756.8 816.0,758.4 812.1,758.4 C808.2,758.4 801.3,755.5 799.0,756.2 C796.7,756.9 798.4,761.1 796.8,762.8 C795.2,764.4 791.0,766.2 788.1,767.2 C785.2,768.2 780.5,769.0 777.2,769.3 C773.9,769.6 769.6,768.3 766.3,769.3 C763.0,770.3 758.7,773.9 755.4,775.9 C752.1,777.9 747.8,780.1 744.5,782.4 C741.2,784.7 743.1,789.8 733.6,791.1 C724.1,792.4 689.1,793.4 681.3,791.1 C673.5,788.8 677.4,779.2 681.3,775.9 C685.2,772.6 701.2,770.9 707.4,769.3 C713.6,767.7 718.8,767.0 722.7,765.0 C726.6,763.0 730.7,758.2 733.6,756.2 C736.5,754.2 741.6,754.2 742.3,751.9 C743.0,749.6 739.0,744.6 738.0,741.0 C737.0,737.4 736.5,730.8 735.8,727.9 C735.1,725.0 734.9,723.7 733.6,721.4 C732.3,719.1 728.4,715.6 727.1,712.6 C725.8,709.6 725.9,704.3 724.9,701.7 C723.9,699.1 722.5,696.8 720.5,695.2 C718.5,693.6 713.8,691.1 711.8,690.8 C709.8,690.5 708.7,693.3 707.4,693.0 C706.1,692.7 704.4,690.7 703.1,688.7 C701.8,686.7 698.7,682.5 698.7,679.9 C698.7,677.3 702.8,673.8 703.1,671.2 C703.4,668.6 701.6,665.1 700.9,662.5 C700.2,659.9 699.0,656.4 698.7,653.8 C698.4,651.2 696.7,646.3 698.7,645.0Z" stroke="#d5ebe9" stroke-width="28" stroke-linejoin="round" stroke-linecap="round"/>
<path fill="none" d="M842.6,563.3 C842.4,564.6 842.2,567.8 841.5,570.9 C840.8,574.0 839.9,578.5 838.3,581.8 C836.7,585.1 833.9,587.2 831.7,590.5 C829.5,593.8 827.4,597.4 825.2,601.4 C823.0,605.4 820.5,609.8 818.7,614.5 C816.9,619.2 815.0,624.3 814.3,629.8 C813.6,635.2 814.3,644.3 814.3,647.2" stroke="#d5ebe9" stroke-width="21" stroke-linejoin="round" stroke-linecap="round"/>
<path fill="#d5ebe9" d="M820.8,597.1 C818.6,598.2 814.1,605.1 812.1,608.0 C810.1,610.9 810.2,613.8 808.8,614.5 C807.3,615.2 804.7,614.1 803.4,612.3 C802.1,610.5 802.1,604.7 801.2,603.6 C800.3,602.5 798.6,603.6 797.9,605.8 C797.2,608.0 795.9,613.1 796.8,616.7 C797.7,620.3 801.6,624.7 803.4,627.6 C805.2,630.5 807.7,632.7 807.7,634.1 C807.7,635.5 805.6,637.0 803.4,636.3 C801.2,635.6 796.9,630.2 794.7,629.8 C792.5,629.4 790.3,631.6 790.3,634.1 C790.3,636.6 793.6,641.4 794.7,645.0 C795.8,648.6 797.2,652.3 796.8,655.9 C796.4,659.5 794.3,664.2 792.5,666.8 C790.7,669.3 788.4,670.8 785.9,671.2 C783.4,671.6 779.2,670.8 777.2,669.0 C775.2,667.2 775.1,661.0 774.0,660.3 C772.9,659.6 771.6,662.5 770.7,664.7 C769.8,666.9 767.4,670.5 768.5,673.4 C769.6,676.3 772.8,679.9 777.2,682.1 C781.6,684.3 788.9,687.2 794.7,686.5 C800.5,685.8 809.2,683.9 812.1,677.7 C815.0,671.5 811.6,657.0 812.1,649.4 C812.6,641.8 814.3,637.8 815.4,632.0 C816.5,626.2 817.1,619.6 818.7,614.5 C820.3,609.4 824.9,604.3 825.2,601.4 C825.6,598.5 823.0,596.0 820.8,597.1Z"/>
<path fill="#d5ebe9" d="M829.6,682.1 C832.9,679.9 838.2,682.1 842.6,682.1 C847.0,682.1 852.1,681.4 855.7,682.1 C859.3,682.8 861.1,685.4 864.4,686.5 C867.7,687.6 871.7,688.3 875.3,688.7 C878.9,689.1 883.7,687.6 886.2,688.7 C888.8,689.8 890.1,692.7 890.6,695.2 C891.1,697.7 891.0,701.4 889.5,703.9 C888.0,706.4 885.0,709.0 881.9,710.5 C878.8,712.0 874.3,712.2 871.0,712.6 C867.7,713.0 865.2,711.9 862.3,712.6 C859.4,713.3 856.8,715.9 853.5,717.0 C850.2,718.1 846.2,718.7 842.6,719.2 C839.0,719.8 834.2,719.6 831.7,720.3 C829.2,721.0 829.2,724.8 827.4,723.5 C825.6,722.2 821.5,717.3 820.8,712.6 C820.1,707.9 821.5,700.3 823.0,695.2 C824.5,690.1 826.3,684.3 829.6,682.1Z"/>
<path fill="#d5ebe9" d="M823.0,625.4 C823.4,623.8 828.8,625.4 831.7,624.3 C834.6,623.2 838.7,619.1 840.5,618.9 C842.3,618.7 843.7,621.4 842.6,623.2 C841.5,625.0 833.9,628.3 833.9,629.8 C833.9,631.3 839.3,632.0 842.6,632.0 C845.9,632.0 849.9,630.9 853.5,629.8 C857.1,628.7 860.8,627.6 864.4,625.4 C868.0,623.2 872.0,618.9 875.3,616.7 C878.6,614.5 883.0,611.9 884.1,612.3 C885.2,612.7 884.1,616.3 881.9,618.9 C879.7,621.5 875.0,625.1 871.0,627.6 C867.0,630.1 861.5,632.3 857.9,634.1 C854.3,635.9 851.4,636.7 849.2,638.5 C847.0,640.3 845.3,642.5 844.8,645.0 C844.2,647.5 845.5,650.5 845.9,653.8 C846.3,657.1 846.3,661.1 847.0,664.7 C847.7,668.3 850.3,672.3 850.3,675.6 C850.3,678.9 848.6,681.8 847.0,684.3 C845.4,686.8 843.4,689.7 840.5,690.8 C837.6,691.9 831.1,694.4 829.6,690.8 C828.1,687.2 831.0,676.3 831.7,669.0 C832.4,661.7 834.2,653.0 833.9,647.2 C833.5,641.4 831.4,637.7 829.6,634.1 C827.8,630.5 822.6,627.0 823.0,625.4Z"/>
<path fill="none" d="M698.7,645.0 C700.7,643.7 707.9,646.0 711.8,645.0 C715.7,644.0 720.6,640.1 724.9,638.5 C729.2,636.9 736.9,633.4 740.2,634.1 C743.5,634.8 744.8,640.9 746.7,642.9 C748.7,644.9 751.6,647.5 753.2,647.2 C754.8,646.9 756.6,640.7 757.6,640.7 C758.6,640.7 758.5,644.9 759.8,647.2 C761.1,649.5 765.3,653.3 766.3,655.9 C767.3,658.5 767.3,661.7 766.3,664.7 C765.3,667.7 760.1,673.0 759.8,675.6 C759.5,678.2 762.1,680.1 764.1,682.1 C766.1,684.1 769.9,687.7 772.9,688.7 C775.9,689.7 780.9,688.4 783.8,688.7 C786.7,689.0 790.2,691.1 792.5,690.8 C794.8,690.5 796.7,687.8 799.0,686.5 C801.3,685.2 805.7,684.1 807.7,682.1 C809.7,680.1 811.6,676.3 812.1,673.4 C812.6,670.5 811.0,666.1 811.0,662.5 C811.0,658.9 811.4,652.7 812.1,649.4 C812.8,646.1 814.1,642.3 815.4,640.7 C816.7,639.1 818.7,638.5 820.8,638.5 C822.9,638.5 827.6,639.4 829.6,640.7 C831.6,642.0 833.6,644.6 833.9,647.2 C834.2,649.8 832.3,654.8 831.7,658.1 C831.1,661.4 829.3,666.1 829.6,669.0 C829.9,671.9 833.6,675.1 833.9,677.7 C834.2,680.3 833.0,684.5 831.7,686.5 C830.4,688.5 826.8,688.8 825.2,690.8 C823.6,692.8 821.8,696.6 820.8,699.6 C819.8,702.6 819.3,707.2 818.7,710.5 C818.1,713.8 816.5,718.5 816.5,721.4 C816.5,724.3 816.7,728.1 818.7,730.1 C820.7,732.1 826.0,733.1 829.6,734.4 C833.2,735.7 839.3,737.5 842.6,738.8 C845.9,740.1 850.7,741.6 851.4,743.2 C852.1,744.8 849.0,748.1 847.0,749.7 C845.0,751.3 841.6,753.1 838.3,754.1 C835.0,755.1 829.1,755.6 825.2,756.2 C821.3,756.8 816.0,758.4 812.1,758.4 C808.2,758.4 801.3,755.5 799.0,756.2 C796.7,756.9 798.4,761.1 796.8,762.8 C795.2,764.4 791.0,766.2 788.1,767.2 C785.2,768.2 780.5,769.0 777.2,769.3 C773.9,769.6 769.6,768.3 766.3,769.3 C763.0,770.3 758.7,773.9 755.4,775.9 C752.1,777.9 747.8,780.1 744.5,782.4 C741.2,784.7 743.1,789.8 733.6,791.1 C724.1,792.4 689.1,793.4 681.3,791.1 C673.5,788.8 677.4,779.2 681.3,775.9 C685.2,772.6 701.2,770.9 707.4,769.3 C713.6,767.7 718.8,767.0 722.7,765.0 C726.6,763.0 730.7,758.2 733.6,756.2 C736.5,754.2 741.6,754.2 742.3,751.9 C743.0,749.6 739.0,744.6 738.0,741.0 C737.0,737.4 736.5,730.8 735.8,727.9 C735.1,725.0 734.9,723.7 733.6,721.4 C732.3,719.1 728.4,715.6 727.1,712.6 C725.8,709.6 725.9,704.3 724.9,701.7 C723.9,699.1 722.5,696.8 720.5,695.2 C718.5,693.6 713.8,691.1 711.8,690.8 C709.8,690.5 708.7,693.3 707.4,693.0 C706.1,692.7 704.4,690.7 703.1,688.7 C701.8,686.7 698.7,682.5 698.7,679.9 C698.7,677.3 702.8,673.8 703.1,671.2 C703.4,668.6 701.6,665.1 700.9,662.5 C700.2,659.9 699.0,656.4 698.7,653.8 C698.4,651.2 696.7,646.3 698.7,645.0Z" stroke="#a5d6d5" stroke-width="19" stroke-linejoin="round" stroke-linecap="round"/>
<path fill="none" d="M842.6,563.3 C842.4,564.6 842.2,567.8 841.5,570.9 C840.8,574.0 839.9,578.5 838.3,581.8 C836.7,585.1 833.9,587.2 831.7,590.5 C829.5,593.8 827.4,597.4 825.2,601.4 C823.0,605.4 820.5,609.8 818.7,614.5 C816.9,619.2 815.0,624.3 814.3,629.8 C813.6,635.2 814.3,644.3 814.3,647.2" stroke="#a5d6d5" stroke-width="11" stroke-linejoin="round" stroke-linecap="round"/>
<path fill="none" d="M711.8,599.2 C713.1,597.8 716.8,596.4 718.3,597.1 C719.8,597.8 720.5,600.7 720.5,603.6 C720.5,606.5 717.9,611.2 718.3,614.5 C718.7,617.8 721.6,620.3 722.7,623.2 C723.8,626.1 726.0,629.1 724.9,632.0 C723.8,634.9 718.8,638.9 716.2,640.7 C713.7,642.5 711.8,643.6 709.6,642.9 C707.4,642.2 703.8,639.2 703.1,636.3 C702.4,633.4 704.2,629.0 705.3,625.4 C706.4,621.8 708.7,617.8 709.6,614.5 C710.5,611.2 710.3,608.3 710.7,605.8 C711.1,603.2 710.5,600.7 711.8,599.2Z" stroke="#a5d6d5" stroke-width="11" stroke-linejoin="round" stroke-linecap="round"/>
<path fill="#a5d6d5" d="M831.7,695.2 C834.6,693.4 838.6,693.7 842.6,693.0 C846.6,692.3 851.3,690.8 855.7,690.8 C860.1,690.8 864.4,692.3 868.8,693.0 C873.2,693.7 879.0,694.1 881.9,695.2 C884.8,696.3 886.2,698.0 886.2,699.6 C886.2,701.2 884.8,703.9 881.9,705.0 C879.0,706.1 873.2,705.6 868.8,706.1 C864.4,706.6 860.1,707.6 855.7,708.3 C851.3,709.0 846.6,710.1 842.6,710.5 C838.6,710.9 834.6,711.6 831.7,710.5 C828.8,709.4 825.2,706.4 825.2,703.9 C825.2,701.4 828.8,697.0 831.7,695.2Z"/>
<path fill="#66c0be" d="M698.7,645.0 C700.7,643.7 707.9,646.0 711.8,645.0 C715.7,644.0 720.6,640.1 724.9,638.5 C729.2,636.9 736.9,633.4 740.2,634.1 C743.5,634.8 744.8,640.9 746.7,642.9 C748.7,644.9 751.6,647.5 753.2,647.2 C754.8,646.9 756.6,640.7 757.6,640.7 C758.6,640.7 758.5,644.9 759.8,647.2 C761.1,649.5 765.3,653.3 766.3,655.9 C767.3,658.5 767.3,661.7 766.3,664.7 C765.3,667.7 760.1,673.0 759.8,675.6 C759.5,678.2 762.1,680.1 764.1,682.1 C766.1,684.1 769.9,687.7 772.9,688.7 C775.9,689.7 780.9,688.4 783.8,688.7 C786.7,689.0 790.2,691.1 792.5,690.8 C794.8,690.5 796.7,687.8 799.0,686.5 C801.3,685.2 805.7,684.1 807.7,682.1 C809.7,680.1 811.6,676.3 812.1,673.4 C812.6,670.5 811.0,666.1 811.0,662.5 C811.0,658.9 811.4,652.7 812.1,649.4 C812.8,646.1 814.1,642.3 815.4,640.7 C816.7,639.1 818.7,638.5 820.8,638.5 C822.9,638.5 827.6,639.4 829.6,640.7 C831.6,642.0 833.6,644.6 833.9,647.2 C834.2,649.8 832.3,654.8 831.7,658.1 C831.1,661.4 829.3,666.1 829.6,669.0 C829.9,671.9 833.6,675.1 833.9,677.7 C834.2,680.3 833.0,684.5 831.7,686.5 C830.4,688.5 826.8,688.8 825.2,690.8 C823.6,692.8 821.8,696.6 820.8,699.6 C819.8,702.6 819.3,707.2 818.7,710.5 C818.1,713.8 816.5,718.5 816.5,721.4 C816.5,724.3 816.7,728.1 818.7,730.1 C820.7,732.1 826.0,733.1 829.6,734.4 C833.2,735.7 839.3,737.5 842.6,738.8 C845.9,740.1 850.7,741.6 851.4,743.2 C852.1,744.8 849.0,748.1 847.0,749.7 C845.0,751.3 841.6,753.1 838.3,754.1 C835.0,755.1 829.1,755.6 825.2,756.2 C821.3,756.8 816.0,758.4 812.1,758.4 C808.2,758.4 801.3,755.5 799.0,756.2 C796.7,756.9 798.4,761.1 796.8,762.8 C795.2,764.4 791.0,766.2 788.1,767.2 C785.2,768.2 780.5,769.0 777.2,769.3 C773.9,769.6 769.6,768.3 766.3,769.3 C763.0,770.3 758.7,773.9 755.4,775.9 C752.1,777.9 747.8,780.1 744.5,782.4 C741.2,784.7 743.1,789.8 733.6,791.1 C724.1,792.4 689.1,793.4 681.3,791.1 C673.5,788.8 677.4,779.2 681.3,775.9 C685.2,772.6 701.2,770.9 707.4,769.3 C713.6,767.7 718.8,767.0 722.7,765.0 C726.6,763.0 730.7,758.2 733.6,756.2 C736.5,754.2 741.6,754.2 742.3,751.9 C743.0,749.6 739.0,744.6 738.0,741.0 C737.0,737.4 736.5,730.8 735.8,727.9 C735.1,725.0 734.9,723.7 733.6,721.4 C732.3,719.1 728.4,715.6 727.1,712.6 C725.8,709.6 725.9,704.3 724.9,701.7 C723.9,699.1 722.5,696.8 720.5,695.2 C718.5,693.6 713.8,691.1 711.8,690.8 C709.8,690.5 708.7,693.3 707.4,693.0 C706.1,692.7 704.4,690.7 703.1,688.7 C701.8,686.7 698.7,682.5 698.7,679.9 C698.7,677.3 702.8,673.8 703.1,671.2 C703.4,668.6 701.6,665.1 700.9,662.5 C700.2,659.9 699.0,656.4 698.7,653.8 C698.4,651.2 696.7,646.3 698.7,645.0Z"/>
<path fill="#66c0be" d="M711.8,599.2 C713.1,597.8 716.8,596.4 718.3,597.1 C719.8,597.8 720.5,600.7 720.5,603.6 C720.5,606.5 717.9,611.2 718.3,614.5 C718.7,617.8 721.6,620.3 722.7,623.2 C723.8,626.1 726.0,629.1 724.9,632.0 C723.8,634.9 718.8,638.9 716.2,640.7 C713.7,642.5 711.8,643.6 709.6,642.9 C707.4,642.2 703.8,639.2 703.1,636.3 C702.4,633.4 704.2,629.0 705.3,625.4 C706.4,621.8 708.7,617.8 709.6,614.5 C710.5,611.2 710.3,608.3 710.7,605.8 C711.1,603.2 710.5,600.7 711.8,599.2Z"/>
<path fill="none" d="M842.6,563.3 C842.4,564.6 842.2,567.8 841.5,570.9 C840.8,574.0 839.9,578.5 838.3,581.8 C836.7,585.1 833.9,587.2 831.7,590.5 C829.5,593.8 827.4,597.4 825.2,601.4 C823.0,605.4 820.5,609.8 818.7,614.5 C816.9,619.2 815.0,624.3 814.3,629.8 C813.6,635.2 814.3,644.3 814.3,647.2" stroke="#66c0be" stroke-width="4.6" stroke-linejoin="round" stroke-linecap="round"/>
<path fill="#a5d6d5" d="M747.8,690.8 C748.9,688.3 751.2,686.5 753.2,686.5 C755.2,686.5 758.3,687.9 759.8,690.8 C761.3,693.7 762.0,699.5 762.0,703.9 C762.0,708.3 759.6,712.6 759.8,717.0 C760.0,721.4 763.0,726.1 763.0,730.1 C763.0,734.1 761.4,739.5 759.8,741.0 C758.2,742.5 754.7,741.3 753.2,738.8 C751.8,736.2 751.8,730.1 751.1,725.7 C750.4,721.3 749.6,716.6 748.9,712.6 C748.2,708.6 746.9,705.3 746.7,701.7 C746.5,698.1 746.7,693.3 747.8,690.8Z"/>
<path fill="#a5d6d5" d="M772.9,699.6 C774.0,696.7 775.8,694.9 777.2,695.2 C778.7,695.6 781.1,698.8 781.6,701.7 C782.1,704.6 781.6,709.3 780.5,712.6 C779.4,715.9 776.6,721.4 775.0,721.4 C773.4,721.4 771.1,716.2 770.7,712.6 C770.4,709.0 771.8,702.5 772.9,699.6Z"/>
<path fill="#a5d6d5" d="M820.8,651.6 C821.7,649.1 825.9,646.5 827.4,647.2 C828.9,647.9 829.8,652.6 829.6,655.9 C829.4,659.2 827.6,665.7 826.3,666.8 C825.0,667.9 822.8,665.0 821.9,662.5 C821.0,660.0 819.9,654.1 820.8,651.6Z"/>
<path fill="#00a5a5" d="M815.4,644.0 C815.6,641.5 817.6,640.9 818.7,642.9 C819.8,644.9 821.2,652.3 821.9,655.9 C822.6,659.5 823.2,662.9 823.0,664.7 C822.8,666.5 821.7,667.9 820.8,666.8 C819.9,665.7 818.5,661.9 817.6,658.1 C816.7,654.3 815.2,646.5 815.4,644.0Z"/>
<path fill="#00a5a5" d="M721.6,672.3 C723.1,670.7 730.2,671.4 733.6,670.1 C737.0,668.8 739.4,666.3 742.3,664.7 C745.2,663.1 748.4,660.7 751.1,660.3 C753.8,659.9 757.2,660.7 758.7,662.5 C760.2,664.3 761.1,668.7 760.2,671.2 C759.3,673.7 755.5,675.5 753.2,677.7 C751.0,679.9 748.7,682.1 746.7,684.3 C744.7,686.5 743.4,690.4 741.2,690.8 C739.0,691.2 736.3,688.3 733.6,686.5 C730.9,684.7 726.9,682.3 724.9,679.9 C722.9,677.5 720.1,673.9 721.6,672.3Z"/>
<path fill="#dddaec" d="M758.1,666.3 C758.4,666.7 758.7,667.3 758.8,667.9 C758.8,668.5 758.8,669.2 758.6,669.9 C758.4,670.5 758.0,671.2 757.6,671.8 C757.1,672.5 756.5,673.1 755.9,673.6 C755.3,674.1 754.5,674.5 753.8,674.8 C753.1,675.0 752.3,675.2 751.7,675.3 C751.0,675.3 750.3,675.2 749.7,675.0 C749.2,674.7 748.7,674.4 748.3,673.9 C748.0,673.5 747.7,672.9 747.6,672.3 C747.6,671.7 747.6,671.0 747.8,670.3 C748.0,669.7 748.4,669.0 748.8,668.4 C749.3,667.7 749.9,667.1 750.5,666.6 C751.1,666.1 751.9,665.7 752.6,665.4 C753.3,665.2 754.1,665.0 754.7,664.9 C755.4,664.9 756.1,665.0 756.7,665.2 C757.2,665.5 757.7,665.8 758.1,666.3Z"/>
<path fill="#dddaec" d="M788.1,710.5 C788.1,709.7 790.3,708.3 792.5,707.2 C794.7,706.1 798.7,705.5 801.2,703.9 C803.7,702.3 805.5,698.9 807.7,697.4 C809.9,695.9 812.5,694.8 814.3,694.8 C816.1,694.8 818.3,696.1 818.7,697.4 C819.1,698.7 818.0,701.2 816.5,702.8 C815.0,704.4 812.4,706.1 809.9,707.2 C807.4,708.3 804.1,708.6 801.2,709.4 C798.3,710.2 794.7,712.0 792.5,712.2 C790.3,712.4 788.1,711.3 788.1,710.5Z" stroke="#00a5a5" stroke-width="5.5" stroke-linejoin="round"/>
<path fill="#dddaec" d="M788.1,710.5 C788.1,709.7 790.3,708.3 792.5,707.2 C794.7,706.1 798.7,705.5 801.2,703.9 C803.7,702.3 805.5,698.9 807.7,697.4 C809.9,695.9 812.5,694.8 814.3,694.8 C816.1,694.8 818.3,696.1 818.7,697.4 C819.1,698.7 818.0,701.2 816.5,702.8 C815.0,704.4 812.4,706.1 809.9,707.2 C807.4,708.3 804.1,708.6 801.2,709.4 C798.3,710.2 794.7,712.0 792.5,712.2 C790.3,712.4 788.1,711.3 788.1,710.5Z"/>
<path fill="#dddaec" d="M747.8,755.2 C748.5,754.2 750.1,753.1 753.2,752.3 C756.3,751.4 761.6,751.3 766.3,750.1 C771.0,748.9 776.9,747.4 781.6,745.3 C786.3,743.2 790.7,740.4 794.7,737.7 C798.7,735.0 802.9,731.2 805.6,729.0 C808.3,726.8 809.9,724.8 811.0,724.6 C812.1,724.4 813.0,726.1 812.5,727.9 C812.0,729.7 810.3,732.8 807.7,735.5 C805.1,738.2 800.8,741.8 796.8,744.3 C792.8,746.8 788.5,749.0 783.8,750.8 C779.1,752.6 773.2,754.0 768.5,755.2 C763.8,756.4 758.7,757.5 755.4,758.0 C752.1,758.5 750.2,758.5 748.9,758.0 C747.6,757.5 747.1,756.2 747.8,755.2Z" stroke="#00a5a5" stroke-width="5" stroke-linejoin="round"/>
<path fill="#dddaec" d="M747.8,755.2 C748.5,754.2 750.1,753.1 753.2,752.3 C756.3,751.4 761.6,751.3 766.3,750.1 C771.0,748.9 776.9,747.4 781.6,745.3 C786.3,743.2 790.7,740.4 794.7,737.7 C798.7,735.0 802.9,731.2 805.6,729.0 C808.3,726.8 809.9,724.8 811.0,724.6 C812.1,724.4 813.0,726.1 812.5,727.9 C812.0,729.7 810.3,732.8 807.7,735.5 C805.1,738.2 800.8,741.8 796.8,744.3 C792.8,746.8 788.5,749.0 783.8,750.8 C779.1,752.6 773.2,754.0 768.5,755.2 C763.8,756.4 758.7,757.5 755.4,758.0 C752.1,758.5 750.2,758.5 748.9,758.0 C747.6,757.5 747.1,756.2 747.8,755.2Z"/>
<path fill="#00a5a5" d="M764.1,761.7 C765.9,760.1 772.8,758.6 777.2,757.3 C781.6,756.0 787.4,754.3 790.3,754.1 C793.2,753.9 795.1,754.9 794.7,756.2 C794.3,757.5 791.0,760.1 788.1,761.7 C785.2,763.4 780.8,765.2 777.2,766.1 C773.6,767.0 768.5,767.9 766.3,767.2 C764.1,766.5 762.3,763.4 764.1,761.7Z"/>
<path fill="#00a5a5" d="M748.9,775.9 C750.7,774.6 759.8,772.2 762.0,772.6 C764.2,773.0 763.8,776.8 762.0,778.1 C760.2,779.4 753.3,780.6 751.1,780.2 C748.9,779.8 747.1,777.2 748.9,775.9Z"/>
<path fill="#00a5a5" d="M687.8,786.8 C688.5,785.0 698.0,782.0 703.1,780.2 C708.2,778.4 715.0,776.2 718.3,775.9 C721.6,775.5 723.8,776.6 722.7,778.1 C721.6,779.6 715.8,782.4 711.8,784.6 C707.8,786.8 702.7,790.7 698.7,791.1 C694.7,791.5 687.1,788.6 687.8,786.8Z"/>
<path fill="#a5d6d5" d="M854.0,747.1 C854.2,748.7 853.6,750.4 852.3,752.1 C851.1,753.7 849.0,755.4 846.5,756.7 C844.0,758.1 840.8,759.5 837.4,760.4 C834.1,761.4 830.2,762.1 826.5,762.5 C822.8,762.9 818.8,763.0 815.4,762.7 C811.9,762.5 808.4,761.9 805.7,761.0 C803.0,760.2 800.6,759.0 799.1,757.7 C797.5,756.3 796.5,754.7 796.4,753.1 C796.2,751.5 796.8,749.8 798.1,748.1 C799.3,746.5 801.4,744.8 803.9,743.5 C806.4,742.1 809.6,740.7 813.0,739.8 C816.3,738.8 820.2,738.1 823.9,737.7 C827.6,737.3 831.6,737.2 835.0,737.5 C838.5,737.7 842.0,738.3 844.7,739.2 C847.4,740.0 849.8,741.2 851.3,742.5 C852.9,743.9 853.9,745.5 854.0,747.1Z"/>
<path fill="#66c0be" d="M849.1,747.6 C849.2,748.8 848.7,750.2 847.6,751.4 C846.6,752.6 844.8,753.9 842.8,755.0 C840.7,756.1 838.0,757.1 835.3,757.9 C832.5,758.6 829.2,759.2 826.2,759.5 C823.1,759.9 819.8,760.0 817.0,759.8 C814.1,759.6 811.3,759.2 809.0,758.6 C806.8,757.9 804.8,757.0 803.5,756.0 C802.2,755.0 801.5,753.8 801.3,752.6 C801.2,751.4 801.7,750.0 802.8,748.8 C803.8,747.6 805.6,746.3 807.6,745.2 C809.7,744.1 812.4,743.1 815.1,742.3 C817.9,741.6 821.2,741.0 824.2,740.7 C827.3,740.3 830.6,740.2 833.4,740.4 C836.3,740.6 839.1,741.0 841.4,741.6 C843.6,742.3 845.6,743.2 846.9,744.2 C848.2,745.2 848.9,746.4 849.1,747.6Z"/>
<path fill="#00a5a5" d="M843.6,748.2 C843.7,749.1 843.3,750.1 842.5,751.0 C841.7,751.9 840.3,752.9 838.7,753.7 C837.1,754.5 835.0,755.2 832.9,755.8 C830.8,756.4 828.3,756.8 825.9,757.1 C823.6,757.3 821.0,757.4 818.8,757.3 C816.6,757.2 814.4,756.8 812.7,756.4 C811.0,755.9 809.5,755.3 808.5,754.6 C807.5,753.8 806.9,752.9 806.8,752.0 C806.7,751.1 807.1,750.1 807.9,749.2 C808.7,748.3 810.1,747.3 811.7,746.5 C813.3,745.7 815.4,745.0 817.5,744.4 C819.6,743.8 822.1,743.4 824.5,743.1 C826.8,742.9 829.4,742.8 831.6,742.9 C833.8,743.0 836.0,743.4 837.7,743.8 C839.4,744.3 840.9,744.9 841.9,745.6 C842.9,746.4 843.5,747.3 843.6,748.2Z"/>
<path fill="#dddaec" d="M840.1,748.7 C840.2,749.3 839.8,750.0 839.2,750.7 C838.5,751.3 837.4,752.0 836.1,752.6 C834.8,753.1 833.1,753.7 831.4,754.1 C829.6,754.5 827.6,754.9 825.7,755.1 C823.8,755.3 821.7,755.4 820.0,755.3 C818.2,755.3 816.4,755.1 815.0,754.8 C813.6,754.5 812.4,754.1 811.6,753.6 C810.8,753.1 810.3,752.5 810.3,751.9 C810.2,751.3 810.6,750.6 811.2,749.9 C811.9,749.3 813.0,748.6 814.3,748.0 C815.6,747.5 817.3,746.9 819.0,746.5 C820.8,746.1 822.8,745.7 824.7,745.5 C826.6,745.3 828.7,745.2 830.4,745.3 C832.2,745.3 834.0,745.5 835.4,745.8 C836.8,746.1 838.0,746.5 838.8,747.0 C839.6,747.5 840.1,748.1 840.1,748.7Z"/>
<path fill="#dcbedd" d="M833.4,749.5 C833.5,749.8 833.3,750.2 832.8,750.6 C832.3,751.0 831.6,751.4 830.7,751.7 C829.9,752.1 828.7,752.4 827.6,752.7 C826.4,752.9 825.1,753.2 823.8,753.3 C822.5,753.4 821.2,753.5 820.0,753.5 C818.8,753.5 817.6,753.4 816.7,753.2 C815.8,753.1 814.9,752.8 814.4,752.5 C813.9,752.3 813.6,751.9 813.6,751.5 C813.5,751.2 813.7,750.8 814.2,750.4 C814.7,750.0 815.4,749.6 816.3,749.3 C817.1,748.9 818.3,748.6 819.4,748.3 C820.6,748.1 821.9,747.8 823.2,747.7 C824.5,747.6 825.8,747.5 827.0,747.5 C828.2,747.5 829.4,747.6 830.3,747.8 C831.2,747.9 832.1,748.2 832.6,748.5 C833.1,748.7 833.4,749.1 833.4,749.5Z"/>
<path fill="#b97bb3" d="M826.8,750.1 C826.8,750.3 826.7,750.5 826.5,750.7 C826.3,750.9 825.9,751.1 825.5,751.3 C825.1,751.5 824.5,751.7 824.0,751.8 C823.4,751.9 822.8,752.0 822.2,752.1 C821.5,752.2 820.9,752.2 820.3,752.2 C819.7,752.2 819.2,752.1 818.7,752.0 C818.3,751.9 817.9,751.8 817.6,751.6 C817.4,751.5 817.2,751.3 817.2,751.1 C817.2,750.9 817.3,750.7 817.5,750.5 C817.7,750.3 818.1,750.1 818.5,749.9 C818.9,749.7 819.5,749.5 820.0,749.4 C820.6,749.3 821.2,749.2 821.8,749.1 C822.5,749.0 823.1,749.0 823.7,749.0 C824.3,749.0 824.8,749.1 825.3,749.2 C825.7,749.3 826.1,749.4 826.4,749.6 C826.6,749.7 826.8,749.9 826.8,750.1Z"/>
<path fill="#fcc877" d="M866.6,721.4 C867.5,719.8 870.7,717.2 873.2,715.9 C875.8,714.6 879.5,713.5 881.9,713.7 C884.2,713.9 886.9,715.0 887.3,717.0 C887.7,719.0 885.4,723.0 884.1,725.7 C882.8,728.4 881.5,733.0 879.7,733.4 C877.9,733.8 875.2,729.2 873.2,727.9 C871.2,726.6 868.8,726.8 867.7,725.7 C866.6,724.6 865.7,723.0 866.6,721.4Z"/>
<path fill="#fcc877" d="M850.3,757.3 C850.7,755.1 852.5,753.2 853.5,753.0 C854.5,752.8 855.9,754.0 856.2,756.2 C856.5,758.4 856.2,764.5 855.3,766.1 C854.4,767.8 851.7,767.6 850.9,766.1 C850.1,764.6 849.9,759.5 850.3,757.3Z"/>
<path fill="#66c0be" d="M538.5,803.7 C539.7,803.9 541.8,804.4 545.9,805.0 C550.0,805.6 557.0,806.8 563.2,807.4 C569.4,808.0 576.3,809.1 582.9,808.7 C589.5,808.3 596.0,806.6 602.6,805.0 C609.2,803.4 615.7,801.3 622.3,798.8 C628.9,796.3 636.3,793.1 642.0,790.2 C647.7,787.3 651.8,784.1 656.7,781.6 C661.6,779.1 667.7,776.3 671.5,775.4 C675.3,774.5 675.3,776.4 679.6,776.4 C683.9,776.4 691.3,775.3 697.1,775.3 C702.9,775.3 709.5,776.8 714.6,776.4 C719.7,776.0 724.1,775.1 727.7,773.1 C731.3,771.1 733.9,767.3 736.4,764.4 C738.9,761.5 741.8,757.1 742.9,755.6 L800.0,760.0 L800.0,1055.0 L400.0,1055.0 L400.0,800.0Z"/>
<path fill="#d5ebe9" d="M464.6,941.7 C463.6,942.7 468.5,944.0 470.8,945.4 C473.1,946.8 475.5,950.7 478.2,950.3 C480.9,949.9 484.3,945.6 486.8,942.9 C489.3,940.2 490.9,937.4 493.0,934.3 C495.1,931.2 497.7,927.1 499.1,924.4 C500.5,921.7 502.0,919.9 501.6,918.3 C501.2,916.7 498.8,912.8 496.7,914.6 C494.6,916.5 492.6,925.3 489.3,929.4 C486.0,933.5 481.0,937.2 476.9,939.2 C472.8,941.2 465.6,940.7 464.6,941.7Z"/>
<path fill="#a5d6d5" d="M521.3,890.0 C521.9,891.2 525.0,894.0 525.0,897.3 C525.0,900.6 523.6,905.2 521.3,909.7 C519.0,914.2 514.3,919.9 511.4,924.4 C508.5,928.9 505.4,932.6 504.0,936.7 C502.6,940.8 502.0,944.2 502.8,949.1 C503.6,954.0 504.6,963.3 509.0,966.3 C513.5,969.3 524.6,967.7 529.5,967.3 C534.4,966.9 534.9,964.5 538.2,964.0 C541.5,963.5 545.8,963.5 549.1,964.0 C552.4,964.5 555.4,965.3 557.8,967.3 C560.2,969.3 561.8,973.1 563.3,976.0 C564.8,978.9 565.0,982.3 566.6,984.7 C568.2,987.1 570.2,989.1 573.1,990.2 C576.0,991.3 580.7,991.8 584.0,991.3 C587.3,990.8 590.5,989.1 592.7,986.9 C594.9,984.7 596.4,981.5 597.1,978.2 C597.8,974.9 595.7,970.2 597.1,967.3 C598.5,964.4 602.9,962.9 605.8,960.7 C608.7,958.5 612.4,956.7 614.6,954.2 C616.8,951.7 616.0,948.8 618.9,945.5 C621.8,942.2 627.6,937.4 632.0,934.5 C636.4,931.6 640.7,930.9 645.1,928.0 C649.5,925.1 654.2,921.1 658.2,917.1 C662.2,913.1 665.7,907.6 669.1,904.0 C672.5,900.4 676.0,899.7 678.9,895.3 C681.8,890.9 684.9,882.6 686.3,877.6 C687.7,872.6 688.1,869.4 687.5,865.3 C686.9,861.2 683.6,857.1 682.6,853.0 C681.6,848.9 681.2,844.8 681.4,840.7 C681.6,836.6 682.6,831.7 683.8,828.4 C685.0,825.1 686.7,823.0 688.8,821.0 C690.9,819.0 695.0,816.9 696.2,816.1 L760.0,800.0 L760.0,1055.0 L400.0,1055.0 L400.0,880.0Z"/>
<path fill="#d5ebe9" d="M469.6,944.1 C469.2,941.9 473.6,940.7 476.9,938.0 C480.2,935.3 485.6,931.8 489.3,928.1 C493.0,924.4 496.6,917.0 499.1,915.8 C501.6,914.6 504.7,917.7 504.5,920.7 C504.3,923.7 500.6,930.1 497.9,933.8 C495.1,937.5 491.1,939.9 488.0,942.9 C484.9,945.9 482.5,951.3 479.4,951.5 C476.3,951.7 470.0,946.4 469.6,944.1Z"/>
<path fill="#d5ebe9" d="M590.6,993.5 C591.5,991.9 593.6,989.1 594.9,989.1 C596.2,989.1 597.8,991.9 598.2,993.5 C598.6,995.1 598.2,997.3 597.1,998.9 C596.0,1000.5 592.9,1003.3 591.6,1003.3 C590.3,1003.3 589.7,1000.5 589.5,998.9 C589.3,997.3 589.7,995.1 590.6,993.5Z"/>
<path fill="#00a5a5" d="M570.5,833.3 C571.6,830.7 574.6,827.7 577.9,825.9 C581.2,824.1 588.3,822.8 592.7,821.0 C597.1,819.2 603.1,815.1 607.5,813.6 C611.9,812.1 618.6,812.4 622.3,811.1 C626.0,809.8 629.1,805.4 632.1,805.0 C635.1,804.6 639.0,809.6 642.0,808.7 C645.0,807.8 648.1,801.4 651.8,798.8 C655.5,796.2 661.8,792.9 666.6,791.4 C671.4,789.9 679.4,789.9 683.8,789.0 C688.2,788.1 692.3,787.0 696.2,785.3 C700.1,783.6 706.4,779.2 709.7,777.9 C713.0,776.6 717.0,775.2 718.3,776.7 C719.6,778.2 719.6,786.1 718.3,787.7 C717.0,789.4 712.7,787.0 709.7,787.7 C706.7,788.5 701.7,791.8 698.6,792.7 C695.5,793.6 691.8,792.2 688.8,793.9 C685.8,795.5 680.0,801.1 678.9,803.7 C677.8,806.3 682.1,809.2 681.4,811.1 C680.7,813.0 677.0,815.0 674.0,816.1 C671.0,817.2 665.0,816.7 661.7,818.5 C658.4,820.3 654.4,825.8 651.8,828.4 C649.2,831.0 644.8,833.6 644.4,835.8 C644.0,838.0 649.0,839.9 649.4,843.2 C649.8,846.5 646.9,853.9 646.9,857.9 C646.9,861.9 647.9,867.2 649.4,870.2 C650.9,873.2 654.1,876.9 656.7,877.6 C659.3,878.4 664.4,874.8 666.6,875.2 C668.8,875.6 671.1,877.9 671.5,880.1 C671.9,882.3 670.9,887.4 669.1,890.0 C667.3,892.6 661.8,894.7 659.2,897.3 C656.6,899.9 654.0,903.1 651.8,907.2 C649.6,911.3 647.4,920.7 644.4,924.4 C641.4,928.1 636.9,930.3 632.1,931.8 C627.3,933.3 617.2,932.8 612.4,934.3 C607.6,935.8 603.1,939.1 600.1,941.7 C597.1,944.3 595.3,948.9 592.7,951.5 C590.1,954.1 585.9,957.4 582.9,958.9 C579.9,960.4 575.8,961.8 573.0,961.4 C570.2,961.0 566.1,958.3 564.4,956.5 C562.7,954.7 561.7,951.3 561.9,949.1 C562.1,946.9 563.2,943.2 565.6,941.7 C568.0,940.2 575.3,941.0 577.9,939.2 C580.5,937.4 582.5,933.1 582.9,929.4 C583.3,925.7 580.4,918.7 580.4,914.6 C580.4,910.5 583.3,905.3 582.9,902.3 C582.5,899.3 579.6,897.1 577.9,894.9 C576.2,892.7 572.9,890.8 571.8,887.5 C570.7,884.2 570.3,877.1 570.5,872.7 C570.7,868.3 573.0,862.3 573.0,857.9 C573.0,853.5 570.9,846.9 570.5,843.2 C570.1,839.5 569.4,835.9 570.5,833.3Z"/>
<path fill="#00a5a5" d="M669.5,798.6 C669.6,799.1 668.0,800.1 671.3,799.6 C674.7,799.2 683.5,797.6 689.5,796.0 C695.5,794.5 701.8,792.5 707.3,790.3 C712.8,788.1 717.4,785.1 722.3,782.9 C727.2,780.6 734.2,778.1 736.8,776.7 C739.4,775.4 738.0,775.4 737.8,774.9 C737.7,774.4 739.0,773.6 736.0,773.9 C733.0,774.1 725.2,774.8 719.9,776.3 C714.6,777.8 709.7,780.7 704.3,782.9 C698.9,785.1 692.9,787.1 687.3,789.4 C681.7,791.7 673.4,795.2 670.5,796.8 C667.5,798.3 669.3,798.2 669.5,798.6Z"/>
<path fill="#00a5a5" d="M560.7,897.3 C561.3,895.4 563.0,893.8 564.4,893.6 C565.8,893.4 568.3,894.2 569.3,896.1 C570.3,898.0 571.1,902.5 570.5,904.7 C569.9,906.9 567.2,909.2 565.6,909.2 C564.0,909.2 561.5,906.7 560.7,904.7 C559.9,902.7 560.1,899.1 560.7,897.3Z"/>
<path fill="#00a5a5" d="M665.4,865.3 C666.9,864.1 674.2,861.8 676.5,861.6 C678.8,861.4 680.4,863.0 678.9,864.1 C677.4,865.2 670.0,868.3 667.8,868.5 C665.5,868.7 663.9,866.4 665.4,865.3Z"/>
<path fill="#dddaec" d="M574.2,840.7 C574.8,836.8 579.4,834.1 582.9,832.1 C586.4,830.1 593.2,829.1 597.6,827.1 C602.0,825.1 608.0,820.3 612.4,818.5 C616.8,816.7 623.1,814.8 627.2,814.8 C631.3,814.8 636.2,818.3 639.5,818.5 C642.8,818.7 646.8,818.3 649.4,816.1 C652.0,813.9 654.7,806.3 656.7,803.7 C658.7,801.1 661.7,799.0 662.9,798.8 C664.1,798.6 665.3,799.9 664.6,802.5 C663.9,805.1 660.3,812.2 658.0,816.1 C655.7,820.0 652.5,825.1 649.4,828.4 C646.2,831.7 639.6,835.6 637.0,838.2 C634.4,840.8 632.1,842.6 632.1,845.6 C632.1,848.6 635.5,853.8 637.0,857.9 C638.5,862.0 640.9,868.6 642.0,872.7 C643.1,876.8 642.9,882.8 644.4,885.0 C645.9,887.2 649.2,887.7 651.8,887.5 C654.4,887.3 659.9,883.8 661.7,883.8 C663.5,883.8 664.3,885.5 664.1,887.5 C663.9,889.5 661.9,894.3 660.4,897.3 C658.9,900.3 655.9,903.9 654.3,907.2 C652.6,910.5 651.2,916.4 649.4,919.5 C647.6,922.6 645.0,926.6 642.0,928.1 C639.0,929.6 634.1,928.8 629.7,929.4 C625.3,930.0 616.8,930.7 612.4,931.8 C608.0,932.9 603.8,934.9 600.1,936.7 C596.4,938.5 590.2,944.8 587.8,944.1 C585.4,943.4 584.8,935.5 584.1,931.8 C583.4,928.1 582.7,923.2 582.9,919.5 C583.1,915.8 583.8,910.5 585.3,907.2 C586.8,903.9 591.6,899.9 592.7,897.3 C593.8,894.7 593.8,892.2 592.7,890.0 C591.6,887.8 587.1,885.2 585.3,882.6 C583.5,880.0 581.3,876.4 580.4,872.7 C579.5,869.0 580.1,862.7 579.2,857.9 C578.3,853.1 573.6,844.6 574.2,840.7Z"/>
<path fill="#dcbedd" d="M585.3,848.1 C587.3,844.8 593.5,841.2 597.6,838.2 C601.7,835.2 608.7,831.0 612.4,828.4 C616.1,825.8 619.0,822.3 622.3,821.0 C625.6,819.7 632.0,819.4 634.6,819.8 C637.2,820.2 639.5,821.4 639.5,823.4 C639.5,825.4 636.4,830.7 634.6,833.3 C632.8,835.9 628.9,838.1 627.2,840.7 C625.5,843.3 623.1,847.5 623.5,850.5 C623.9,853.5 627.7,857.8 629.7,860.4 C631.7,863.0 635.7,864.8 637.0,867.8 C638.3,870.8 637.2,876.4 638.3,880.1 C639.4,883.8 642.0,890.9 644.4,892.4 C646.8,893.9 652.5,889.6 654.3,890.0 C656.1,890.4 657.1,892.3 656.7,894.9 C656.3,897.5 653.6,903.1 651.8,907.2 C650.0,911.3 647.0,919.0 644.4,922.0 C641.8,925.0 637.6,926.5 634.6,926.9 C631.6,927.3 627.3,926.2 624.7,924.4 C622.1,922.6 619.9,915.7 617.3,914.6 C614.7,913.5 610.1,917.4 607.5,917.0 C604.9,916.6 601.6,914.3 600.1,912.1 C598.6,909.9 597.6,905.3 597.6,902.3 C597.6,899.3 600.8,895.4 600.1,892.4 C599.4,889.4 594.9,885.6 592.7,882.6 C590.5,879.6 586.6,876.0 585.3,872.7 C584.0,869.4 584.1,864.1 584.1,860.4 C584.1,856.7 583.3,851.4 585.3,848.1Z"/>
<path fill="#b97bb3" d="M613.6,828.4 C614.4,826.8 619.4,823.8 622.3,823.4 C625.2,823.0 629.3,824.7 630.9,825.9 C632.5,827.1 633.1,829.4 632.1,830.8 C631.1,832.2 627.2,834.1 624.7,834.5 C622.2,834.9 619.1,834.3 617.3,833.3 C615.4,832.3 612.8,830.0 613.6,828.4Z"/>
<path fill="#b97bb3" d="M585.3,850.5 C586.3,848.0 589.0,845.2 592.7,843.2 C596.4,841.2 603.0,838.8 607.5,838.2 C612.0,837.6 616.9,837.9 619.8,839.5 C622.7,841.1 624.3,845.0 624.7,848.1 C625.1,851.2 624.8,855.6 622.3,857.9 C619.8,860.1 614.5,861.0 610.0,861.6 C605.5,862.2 599.1,862.2 595.2,861.6 C591.3,861.0 588.2,859.8 586.6,857.9 C585.0,856.0 584.3,853.0 585.3,850.5Z"/>
<path fill="#b97bb3" d="M621.0,867.8 C621.6,866.0 625.4,862.9 627.2,862.9 C629.1,862.9 631.7,865.5 632.1,867.8 C632.5,870.0 631.1,875.4 629.7,876.4 C628.3,877.4 625.0,875.3 623.5,873.9 C622.0,872.5 620.4,869.6 621.0,867.8Z"/>
<path fill="#b97bb3" d="M613.6,885.0 C614.0,882.1 617.1,881.4 619.8,882.6 C622.5,883.8 625.6,890.0 629.7,892.4 C633.8,894.8 641.1,894.8 644.4,897.3 C647.7,899.8 649.4,902.7 649.4,907.2 C649.4,911.7 646.9,921.1 644.4,924.4 C641.9,927.7 637.9,927.5 634.6,926.9 C631.3,926.3 626.4,923.6 624.7,920.7 C623.1,917.8 625.9,913.2 624.7,909.7 C623.5,906.2 619.1,903.9 617.3,899.8 C615.4,895.7 613.2,887.9 613.6,885.0Z"/>
<path fill="#954b97" d="M587.8,851.8 C588.2,849.5 593.5,847.0 597.6,845.6 C601.7,844.2 608.7,842.8 612.4,843.2 C616.1,843.6 618.8,845.9 619.8,848.1 C620.8,850.4 620.6,854.9 618.6,856.7 C616.6,858.6 611.4,858.8 607.5,859.2 C603.6,859.6 598.5,860.4 595.2,859.2 C591.9,858.0 587.4,854.1 587.8,851.8Z"/>
<path fill="#954b97" d="M622.3,893.6 C623.1,892.6 626.8,894.9 629.7,896.1 C632.6,897.3 637.0,898.7 639.5,901.0 C642.0,903.3 644.0,906.2 644.4,909.7 C644.8,913.2 643.6,919.5 642.0,922.0 C640.4,924.5 636.9,925.0 634.6,924.4 C632.3,923.8 629.2,920.8 628.4,918.3 C627.6,915.8 630.3,912.4 629.7,909.7 C629.1,907.0 625.9,905.0 624.7,902.3 C623.5,899.6 621.5,894.6 622.3,893.6Z"/>
<path fill="#5b2583" d="M590.7,853.0 C591.5,851.6 596.5,849.9 600.1,849.3 C603.7,848.7 609.9,848.5 612.4,849.3 C614.9,850.1 616.2,852.9 615.4,854.2 C614.6,855.6 610.9,856.9 607.5,857.4 C604.1,857.9 598.0,858.1 595.2,857.4 C592.4,856.7 589.9,854.4 590.7,853.0Z"/>
<path fill="#5b2583" d="M634.6,902.3 C635.4,901.7 638.7,904.8 639.5,907.2 C640.3,909.7 640.3,914.5 639.5,917.0 C638.7,919.5 636.2,922.5 634.6,922.5 C633.0,922.5 629.7,918.9 629.7,917.0 C629.7,915.1 633.8,913.4 634.6,910.9 C635.4,908.4 633.8,902.9 634.6,902.3Z"/>
<path fill="#d5ebe9" d="M167.8,464.4 C164.5,464.4 171.5,461.5 172.7,457.0 C173.9,452.5 174.0,443.4 175.2,437.3 C176.4,431.2 178.0,425.2 180.1,420.1 C182.2,415.0 184.6,410.5 187.5,406.6 C190.4,402.7 193.6,399.1 197.3,396.7 C201.0,394.3 205.6,392.9 209.7,392.5 C213.8,392.1 217.9,392.7 222.0,394.2 C226.1,395.7 230.2,398.7 234.3,401.6 C238.4,404.5 243.5,408.6 246.6,411.5 C249.7,414.4 251.2,415.4 252.8,418.9 C254.5,422.4 262.5,427.7 256.5,432.4 C250.5,437.1 227.7,443.1 217.0,447.2 C206.3,451.3 200.6,454.1 192.4,457.0 C184.2,459.9 171.1,464.4 167.8,464.4Z"/>
<path fill="#d5ebe9" d="M251.5,447.2 C252.5,447.6 255.2,449.1 257.7,449.7 C260.2,450.3 262.8,449.9 266.3,450.9 C269.8,451.9 278.0,455.4 278.6,455.8 C279.2,456.2 268.1,451.7 270.0,453.3 C271.9,454.9 283.1,461.4 289.7,465.7 C296.3,470.0 302.8,474.7 309.4,479.2 C316.0,483.7 322.5,488.3 329.1,492.8 C335.7,497.3 342.2,502.4 348.8,506.3 C355.4,510.2 364.2,514.6 368.5,516.2 C372.8,517.8 372.1,514.8 374.8,515.7 C377.5,516.6 383.0,520.5 384.6,521.4 L385.0,560.0 L250.0,560.0 L250.0,450.0Z"/>
<path fill="#00a5a5" d="M435.0,346.2 C435.6,343.9 437.1,341.0 440.0,340.0 C442.9,339.0 447.8,339.4 452.3,340.0 C456.8,340.6 462.1,342.1 467.0,343.7 C471.9,345.3 477.7,347.4 481.8,349.9 C485.9,352.4 489.6,355.4 491.7,358.5 C493.8,361.6 495.0,365.3 494.6,368.4 C494.2,371.5 492.1,374.9 489.2,377.0 C486.2,379.1 481.0,380.5 476.9,380.7 C472.8,380.9 468.7,379.6 464.6,378.2 C460.5,376.8 456.0,374.6 452.3,372.1 C448.6,369.6 445.1,366.5 442.4,363.4 C439.7,360.3 437.5,356.5 436.3,353.6 C435.1,350.7 434.4,348.5 435.0,346.2Z"/>
<path fill="#00a5a5" d="M287.2,446.0 C287.8,444.9 291.3,443.8 294.6,444.2 C297.9,444.6 302.8,446.3 306.9,448.4 C311.0,450.5 315.2,454.1 319.3,457.0 C323.4,459.9 327.9,463.6 331.6,465.7 C335.3,467.8 339.5,468.3 341.4,469.4 C343.2,470.5 343.5,471.6 342.7,472.3 C341.9,473.0 339.2,474.3 336.5,473.8 C333.8,473.3 330.4,471.4 326.7,469.4 C323.0,467.4 318.4,464.3 314.3,462.0 C310.2,459.7 305.9,457.7 302.0,455.8 C298.1,453.9 293.4,452.5 290.9,450.9 C288.4,449.3 286.6,447.1 287.2,446.0Z"/>
<path fill="#00a5a5" d="M377.2,487.4 C377.8,485.3 379.3,482.4 382.2,481.2 C385.1,480.0 390.0,479.4 394.5,480.0 C399.0,480.6 404.0,482.2 409.3,484.9 C414.6,487.6 421.2,492.5 426.5,496.0 C431.8,499.5 438.2,503.0 441.3,505.9 C444.4,508.8 445.0,510.8 445.0,513.3 C445.0,515.8 443.4,518.8 441.3,520.6 C439.2,522.4 436.4,524.3 432.7,524.3 C429.0,524.3 424.2,522.6 419.1,520.6 C414.0,518.6 407.2,515.1 401.9,512.0 C396.6,508.9 391.0,505.3 387.1,502.2 C383.2,499.1 380.1,496.0 378.5,493.5 C376.9,491.0 376.6,489.4 377.2,487.4Z"/>
<path fill="#dddaec" d="M383.9,487.4 C384.3,485.3 386.1,483.0 388.3,482.0 C390.5,481.0 393.4,480.1 396.9,481.2 C400.4,482.3 404.8,485.7 409.3,488.6 C413.8,491.5 419.9,495.4 424.0,498.5 C428.1,501.6 432.0,504.6 433.9,507.1 C435.8,509.6 435.7,511.3 435.1,513.3 C434.5,515.3 432.4,517.9 430.2,518.9 C427.9,519.9 425.1,520.3 421.6,519.4 C418.1,518.5 413.8,516.0 409.3,513.3 C404.8,510.6 398.4,506.5 394.5,503.4 C390.6,500.3 387.7,497.5 385.9,494.8 C384.1,492.1 383.5,489.5 383.9,487.4Z"/>
<path fill="#dcbedd" d="M394.5,492.3 C394.7,491.1 396.1,490.5 398.2,491.1 C400.2,491.7 403.7,493.9 406.8,496.0 C409.9,498.1 414.9,501.5 416.7,503.4 C418.5,505.2 418.3,506.1 417.9,507.1 C417.5,508.1 416.2,510.0 414.2,509.6 C412.1,509.2 408.5,506.5 405.6,504.6 C402.7,502.8 398.8,500.6 396.9,498.5 C395.0,496.4 394.3,493.5 394.5,492.3Z"/>
<path d="M665.5,129.1 L659.8,134.8 L654.7,139.9 L651.5,146.3 L647.7,152.6 L639.5,156.1 L633.3,161.2 L629.5,166.3 L625.7,172.6 L620.6,179.0 L616.8,186.6 L613.0,194.3 L611.7,198.5" fill="none" stroke="#3a98db" stroke-width="3.4" stroke-linejoin="round" stroke-linecap="round"/>
<path d="M611.7,198.5 L617.2,196.5 L623.5,193.4 L629.9,189.9 L636.3,187.9 L642.0,188.7" fill="none" stroke="#3a98db" stroke-width="3.4" stroke-linejoin="round" stroke-linecap="round"/>
<path d="M647.7,152.6 L650.9,159.6 L645.8,163.5 L644.5,169.8 L643.9,176.2 L645.8,181.3 L643.3,186.4 L642.0,188.7" fill="none" stroke="#3a98db" stroke-width="3.4" stroke-linejoin="round" stroke-linecap="round"/>
<path d="M633.3,161.2 L636.9,167.3 L643.3,167.9 L644.5,169.8" fill="none" stroke="#3a98db" stroke-width="3.4" stroke-linejoin="round" stroke-linecap="round"/>
<path d="M629.5,166.3 L631.8,174.9 L636.9,181.3 L643.3,186.4" fill="none" stroke="#3a98db" stroke-width="3.4" stroke-linejoin="round" stroke-linecap="round"/>
<path d="M650.9,159.6 L654.7,164.7 L656.0,172.4 L661.1,178.7 L659.8,185.1 L653.5,187.6 L650.9,191.5 L643.9,194.0" fill="none" stroke="#3a98db" stroke-width="3.4" stroke-linejoin="round" stroke-linecap="round"/>
<path d="M642.0,188.7 L643.5,194.6 L644.2,200.6 L647.3,207.0 L651.2,212.2 L654.3,208.3 L656.3,205.2 L661.3,205.7 L669.0,207.2 L675.3,206.0 L681.7,204.7 L689.3,201.9 L694.4,198.1 L698.3,193.0 L702.1,186.6 L705.9,173.9 L707.2,166.3" fill="none" stroke="#3a98db" stroke-width="3.4" stroke-linejoin="round" stroke-linecap="round"/>
<path d="M689.1,203.5 L684.0,210.5 L679.5,218.2 L676.1,225.8 L675.1,227.7" fill="none" stroke="#3a98db" stroke-width="3.4" stroke-linejoin="round" stroke-linecap="round"/>
<path d="M700.5,195.5 L705.6,198.8 L712.0,199.9 L719.6,201.4" fill="none" stroke="#3a98db" stroke-width="3.4" stroke-linejoin="round" stroke-linecap="round"/>
<path d="M665.5,135.5 L661.1,140.5 L659.8,148.2 L656.0,153.3 L650.9,159.6" fill="none" stroke="#3a98db" stroke-width="3.4" stroke-linejoin="round" stroke-linecap="round"/>
<path d="M666.2,143.1 L663.6,150.7 L671.3,152.0 L673.8,149.5" fill="none" stroke="#3a98db" stroke-width="3.4" stroke-linejoin="round" stroke-linecap="round"/>
<path d="M636.9,167.3 L635.6,176.2 L631.8,174.9" fill="none" stroke="#3a98db" stroke-width="3.4" stroke-linejoin="round" stroke-linecap="round"/>
<path d="M638.2,169.8 L642.0,177.5 L643.3,185.1" fill="none" stroke="#8fd0f6" stroke-width="3.0" stroke-linejoin="round" stroke-linecap="round"/>
<path d="M648.4,156.5 L650.3,160.9" fill="none" stroke="#8fd0f6" stroke-width="3.0" stroke-linejoin="round" stroke-linecap="round"/>
<path d="M684.0,204.8 L691.6,201.0" fill="none" stroke="#8fd0f6" stroke-width="1.6" stroke-linejoin="round" stroke-linecap="round"/>
<path d="M618.5,940.0 L620.2,947.2 L626.6,949.4 L633.3,945.9 L635.1,949.4 L630.5,954.6 L628.1,963.4 L621.5,972.1 L612.8,980.8 L604.1,987.4 L598.8,993.9 L596.9,990.8 L602.3,984.7 L610.0,978.2 L617.6,969.5 L623.3,960.3 L625.5,953.8 L620.7,952.4 L617.8,945.5Z" fill="#7cc4f1" stroke="#3a98db" stroke-width="1.2" stroke-linejoin="round"/>
<path d="M952.1,503.4 L957.0,505.4 L960.0,510.3 L955.8,511.3 L953.3,508.4Z" fill="#3a98db" stroke="#3a98db" stroke-width="1" stroke-linejoin="round"/>
<g fill="none" stroke="#8c8c8c" stroke-width="0.8" stroke-linejoin="round">
<path d="M307.9,101.3 L314.0,106.2 L322.7,108.7 L323.9,113.6 L322.7,118.5 L327.6,128.4 L330.8,138.2 L328.3,148.1 L327.6,157.9 L331.3,167.8 L333.7,175.2 L331.8,181.3 L353.4,197.3 L353.4,187.5 L355.9,178.9 L363.3,173.9 L370.7,172.7 L375.6,180.1 L383.0,181.3 L386.7,175.2 L389.2,165.3 L396.6,155.0 L425.4,154.2"/>
<path d="M425.4,128.4 L425.4,154.2 L425.4,165.3 L429.8,175.2 L439.7,187.5 L447.0,191.2 L452.0,196.1 L466.7,204.7 L479.1,210.9 L486.5,215.8 L496.3,213.3 L501.2,214.6 L466.7,279.9 L462.1,289.6 L447.3,319.1 L440.0,331.4 L440.0,338.8 L446.1,347.4 L446.1,358.5 L443.6,370.8 L440.0,388.1 L358.7,390.0"/>
<path d="M532.0,95.1 L536.9,113.6 L549.3,116.1 L561.6,123.4 L571.4,133.3 L578.8,145.6 L581.3,157.9 L591.1,170.2 L598.5,185.0 L605.9,190.0 L613.3,190.0"/>
<path d="M767.2,190.0 L763.5,202.3 L758.6,217.0 L753.7,234.3 L743.8,251.5 L740.4,260.0 L731.8,272.3 L722.0,282.2 L702.3,295.7 L696.1,299.4 L697.3,303.1 L709.7,305.6 L708.4,316.7 L702.3,326.5 L690.0,336.4 L683.8,343.7 L680.1,353.6 L683.8,361.0 L681.3,373.3 L672.7,388.1 L660.4,402.9 L653.0,417.6 L643.2,437.3 L640.7,457.0 L643.2,474.3 L643.2,491.5 L645.6,506.3 L638.2,519.9 L629.7,550.2 L618.6,553.9 L611.2,566.2 L601.4,573.6 L591.5,581.0 L587.8,590.8 L579.2,600.7 L574.3,613.0 L575.5,625.3 L581.7,635.2 L584.1,642.6 L603.8,652.4 L629.7,664.7"/>
<path d="M628.4,683.6 L616.4,694.5 L609.8,709.8 L601.1,725.1 L590.2,736.0 L579.3,746.9 L564.0,757.8 L555.3,768.7 L550.9,779.6 L545.5,785.1"/>
<path d="M31.8,354.1 L64.3,367.1 L122.2,379.0 L187.5,407.8 L224.4,422.1"/>
<path d="M218.3,420.1 L229.4,410.2 L239.2,409.0 L246.6,412.7 L256.5,406.6 L262.6,407.8 L268.8,399.2 L278.6,396.7 L287.2,394.2 L289.7,388.1 L270.0,396.7 L286.0,395.5 L292.2,381.9 L304.5,370.8 L321.7,369.6 L329.1,378.2 L339.0,385.6 L346.4,390.5 L350.0,388.1 L358.2,390.0"/>
<path d="M358.2,390.0 L356.2,405.3 L359.2,415.2 L357.4,430.0 L359.9,446.0 L383.3,447.2 L399.3,450.9 L401.8,455.8 L396.8,463.2 L398.1,469.4 L403.0,476.7 L400.5,489.1 L393.2,503.8 L388.2,513.7 L380.8,519.9"/>
<path d="M446.1,353.6 L452.3,363.4 L459.7,375.8 L463.3,388.1 L474.4,396.7 L486.7,402.9 L506.5,405.3 L539.7,408.5 L520.0,406.6 L653.0,416.4"/>
<path d="M696.1,299.4 L707.2,296.9 L717.0,299.4 L729.4,305.6 L731.8,324.0 L728.1,341.3 L723.2,347.4 L728.1,354.8 L731.8,363.4 L740.4,372.1 L752.8,369.6 L754.0,375.8 L746.6,383.2 L740.4,396.7 L747.8,407.8 L752.8,417.6 L758.9,427.5 L768.8,430.0 L772.5,427.5"/>
<path d="M772.5,427.5 L768.8,437.3 L761.4,442.3 L754.0,452.1 L751.5,462.0 L760.1,464.4 L757.7,476.7 L758.9,496.5 L760.1,519.9 L760.0,533.0 L764.9,542.9 L761.2,555.2"/>
<path d="M880.9,235.3 L874.2,243.9 L860.7,255.0 L854.5,266.1 L849.6,275.9 L852.1,285.8 L853.8,295.6 L847.1,307.9 L844.7,317.8 L852.1,326.4 L848.4,337.5 L838.5,341.2 L826.2,338.7 L813.9,344.9 L801.6,352.3 L789.3,359.7 L780.6,372.0 L774.5,384.3 L769.6,396.6 L772.0,411.4 L770.8,426.2 L772.8,434.8"/>
<path d="M776.2,427.5 L781.1,437.3 L789.7,446.0 L775.8,429.3 L781.5,438.8 L789.1,445.4 L798.6,443.5 L810.0,440.7 L817.5,436.9 L824.2,429.3 L827.0,422.7 L823.2,416.0 L825.1,410.3 L832.7,405.6 L836.5,408.4 L844.1,409.4 L851.7,413.2 L861.1,409.4 L870.6,404.6 L882.0,398.0 L891.5,392.3 L900.0,385.7"/>
<path d="M895.2,238.5 L891.5,253.7 L897.6,275.9 L901.3,298.1 L905.0,317.8 L910.0,335.0 L916.1,342.4 L914.4,357.2 L908.7,359.7 L912.4,372.0 L900.1,386.7 L892.7,391.7"/>
<path d="M914.4,357.2 L927.2,357.2 L939.5,359.7 L949.4,367.0 L956.7,368.3 L961.7,364.6 L961.9,366.4 L972.1,369.0 L982.3,363.8 L992.6,360.0 L1002.8,360.0 L1005.4,363.8 L1000.2,370.2 L997.7,377.9 L1002.8,384.3 L1010.5,383.0 L1018.1,375.4 L1028.4,372.8 L1036.1,372.8 L1046.3,365.1 L1054.0,362.6 L1062.9,369.7"/>
<path d="M1002.8,290.9 L990.0,294.8 L984.9,306.3 L978.5,317.8 L968.3,325.5 L967.0,331.9 L963.1,344.7 L960.6,352.3 L964.4,360.0 L961.9,366.4"/>
<path d="M967.0,332.4 L977.2,335.7 L990.0,328.0 L1001.5,324.2 L1000.2,331.9 L993.8,339.5 L1000.2,344.7 L1010.5,343.4 L1015.6,348.5 L1020.7,344.7 L1022.0,334.4 L1025.8,333.1 L1038.6,338.3 L1061.6,340.0"/>
<path d="M892.8,392.0 L900.5,397.1 L905.6,409.9 L915.8,404.8 L926.0,400.9 L933.7,393.3 L941.4,388.1 L951.6,393.3 L961.9,397.1 L969.5,402.2 L972.1,408.6 L982.3,400.9 L992.6,406.1 L1002.8,412.4 L1013.0,413.7 L1023.3,408.6 L1033.5,403.0 L1043.7,402.2 L1054.0,403.5"/>
<path d="M880.0,399.7 L892.8,392.0 L905.6,380.5 L912.0,370.2 L909.4,358.7"/>
<path d="M972.1,408.6 L975.9,417.6 L982.3,431.6 L981.0,447.0 L969.5,450.8 L978.5,471.3 L988.7,472.6"/>
<path d="M975.9,417.6 L990.0,425.2 L1005.4,434.2 L1019.4,443.1"/>
<path d="M704.7,565.0 L727.6,565.0 L727.6,579.8 L703.4,579.8 L704.7,565.0"/>
<path d="M643.2,491.5 L655.5,480.4 L654.2,494.0 L662.9,500.1 L673.9,506.3 L677.6,495.2 L690.0,495.2 L697.3,502.6 L699.8,506.3 L722.0,510.0 L722.0,503.8 L729.4,506.3 L741.7,501.4 L758.9,496.5"/>
<path d="M761.3,553.9 L747.8,546.5 L742.9,553.9 L737.9,556.4 L739.2,577.3 L727.6,578.5"/>
<path d="M725.6,579.8 L726.8,590.8 L731.8,600.7 L723.2,615.5 L726.8,622.9 L724.4,632.7 L710.8,642.6 L698.5,638.9 L673.9,641.3 L649.3,650.0 L630.8,664.7"/>
<path d="M600.0,650.0 L614.8,657.3 L630.8,664.7 L628.3,684.4"/>
<path d="M459.8,619.2 L468.4,627.8 L473.3,620.4 L483.2,611.8 L500.4,606.4 L512.7,611.8 L527.5,617.9 L542.3,613.0 L549.7,616.7 L557.0,613.0 L560.7,608.1 L563.2,613.0 L557.0,620.4 L559.5,625.3 L571.8,622.9 L574.3,617.9"/>
<path d="M628.4,683.6 L636.0,679.3 L644.7,676.0 L657.8,679.3 L670.9,680.4 L674.2,685.8 L679.6,686.9 L682.9,692.4 L684.0,686.9 L692.7,685.8 L705.8,683.6 L718.9,683.6 L725.5,690.2 L724.4,701.1 L727.7,712.0 L733.1,719.6 L738.6,718.6 L740.7,725.1 L736.4,733.8 L738.6,742.6 L744.0,751.3 L747.3,757.8 L758.2,755.6 L778.9,746.9"/>
<path d="M579.3,746.9 L603.3,746.5 L612.0,749.1 L622.9,747.4 L629.5,748.0 L633.8,753.5 L644.7,756.7 L653.5,757.8 L661.1,764.4 L664.4,773.1 L665.5,784.0 L669.8,797.1 L670.9,801.5 L684.0,803.6 L688.4,812.4 L697.1,814.6 L699.3,821.1"/>
<path d="M545.9,784.5 L548.4,780.3 L553.3,771.7 L560.7,761.9 L568.1,753.3 L577.9,747.1"/>
<path d="M560.7,841.2 L573.0,841.9 L587.8,845.6 L607.5,850.5 L619.8,853.0 L627.2,845.6 L637.0,839.5 L649.4,838.2 L661.7,840.7 L674.0,835.8 L686.3,835.8"/>
<path d="M554.5,865.3 L568.1,866.6 L587.8,867.8 L600.1,872.7 L612.4,880.1 L624.7,890.0 L634.6,898.6 L649.4,899.8 L654.3,907.2 L646.9,914.6 L644.4,922.0 L651.8,920.7"/>
<path d="M700.0,684.3 L712.3,681.9 L722.2,685.6 L725.9,691.7 L723.4,699.1 L727.1,711.4 L732.0,718.8 L739.4,721.3 L740.6,728.7 L736.9,738.5 L741.9,748.4 L748.0,755.8"/>
<path d="M748.0,755.8 L759.1,754.5 L769.0,750.8 L781.3,748.4 L793.6,743.4 L808.4,741.0 L823.2,741.0 L837.9,736.1 L847.8,726.2 L852.7,716.4 L857.6,706.5 L862.6,697.9 L872.4,693.0 L879.8,684.3 L883.5,669.6 L882.3,659.7 L884.7,649.9 L882.3,640.0"/>
<path d="M858.9,706.5 L861.3,718.8 L870.0,723.7 L877.3,726.2 L878.6,736.1"/>
<path d="M781.3,748.4 L791.1,753.3 L798.5,755.8 L793.6,760.7 L786.2,761.9 L781.3,766.8 L780.8,773.0"/>
<path d="M761.2,555.2 L772.3,552.7 L784.6,547.8 L796.9,540.4 L806.8,536.7 L815.4,540.4 L817.9,546.6 L826.5,550.2 L836.4,547.8 L846.2,551.5 L858.5,560.1 L870.8,563.8 L878.2,570.0 L881.9,578.6 L893.0,577.3 L905.3,581.0 L915.2,587.2 L917.6,594.6 L910.2,602.0 L905.3,609.4 L899.2,611.8 L896.7,621.7 L901.6,629.1 L905.3,636.5 L888.1,637.7 L881.9,643.8 L880.7,648.8 L883.2,658.6"/>
<path d="M905.3,636.5 L917.6,648.8"/>
</g>
</g>
<path d="M133.3,113.1 L153.0,114.8 L173.9,113.6 L177.6,106.2 L182.6,111.6 L188.7,107.4 L198.6,102.5 L202.3,106.2 L206.0,114.8 L206.7,127.1 L210.9,127.9 L229.4,140.7 L245.4,134.5 L247.8,137.0 L248.6,141.9 L262.6,128.4 L278.6,121.0 L279.6,121.0 L282.0,123.4 L288.2,114.8 L288.2,108.7 L306.7,98.8 L303.0,97.6 L289.4,95.1 L288.2,89.0 L290.6,85.3 L283.3,75.4 L283.3,66.8 L274.6,56.9 L267.2,50.8 L269.7,46.6 L277.1,52.0 L286.9,52.0 L294.3,56.9 L309.1,56.9 L312.8,63.1 L321.4,63.1 L323.9,55.7 L333.7,50.8 L343.6,52.0 L355.9,48.3 L358.4,43.4 L370.7,40.9 L381.8,31.1 L378.1,24.4 L387.9,24.4 L395.3,23.0 L397.3,29.9 L396.6,40.9 L405.2,44.6 L406.4,52.0 L408.9,56.9 L402.7,69.3 L397.8,91.4 L402.7,98.8 L403.9,112.4 L415.0,123.4 L422.4,125.9 L426.1,128.4 L434.7,125.9 L437.2,121.0 L449.5,118.5 L461.8,113.6 L474.1,107.4 L486.5,111.1 L503.7,111.1 L501.2,101.3 L506.2,95.1 L519.7,96.4 L527.1,93.2 L532.0,95.1 L536.9,98.8 L551.7,105.0 L561.6,100.0 L573.9,100.0 L583.7,102.5 L591.1,96.4 L601.0,80.3 L610.8,66.8 L620.7,50.8 L624.4,43.4 L630.5,48.3 L635.5,59.4 L639.2,76.7 L645.3,93.9 L650.2,105.0 L657.6,109.9 L665.0,114.8 L668.7,121.0 L667.5,128.4 L662.6,133.3 L666.3,143.2 L672.4,148.1 L679.8,154.2 L684.7,160.4 L697.0,162.9 L706.9,165.3 L709.4,171.5 L714.3,177.6 L726.6,173.9 L741.4,177.6 L756.2,183.8 L769.7,190.0 L776.9,194.6 L788.0,200.8 L789.3,205.7 L793.0,200.8 L804.0,206.9 L811.4,219.3 L805.3,234.0 L803.5,243.9 L807.7,239.0 L812.7,225.4 L816.4,223.0 L821.3,225.4 L817.6,232.8 L822.5,227.9 L825.0,224.2 L838.5,219.3 L850.8,225.4 L865.6,230.3 L880.4,234.5 L895.2,237.7 L912.4,236.0 L927.2,236.5 L937.0,240.2 L949.4,248.8 L961.7,257.4 L974.0,264.8 L986.3,273.4 L996.2,282.1 L1004.8,290.7 L1016.9,297.3 L1029.7,296.0 L1043.7,297.3 L1054.0,303.7 L1059.1,316.5 L1062.1,331.9 L1064.7,352.3 L1064.7,370.2 L1062.9,383.0 L1056.5,400.9 L1048.8,413.7 L1036.1,426.5 L1022.0,439.3 L1007.9,450.8 L996.4,462.3 L990.0,472.6 L984.9,485.4 L974.3,496.1 L964.4,507.1 L959.5,509.6 L955.8,504.7 L952.1,504.7 L954.6,510.8 L947.2,518.2 L944.7,533.0 L943.5,547.8 L944.7,567.5 L943.5,587.2 L938.6,604.4 L933.6,621.7 L930.0,634.0 L922.6,643.8 L919.2,652.3 L916.7,669.6 L911.8,684.3 L902.0,699.1 L889.7,713.9 L881.0,728.7 L877.3,738.5 L870.0,748.4 L857.6,755.8 L853.9,765.6 L845.3,768.1 L833.0,765.6 L824.4,764.4 L822.7,758.2 L820.7,764.4 L815.8,766.8 L803.4,765.6 L793.6,768.1 L786.2,770.5 L781.3,774.2 L771.4,782.9 L769.0,787.8 L765.3,786.6 L756.7,785.3 L746.8,787.8 L736.9,792.7 L724.6,800.1 L712.3,810.0 L700.0,819.8 L691.2,823.4 L686.3,835.8 L683.8,848.1 L685.1,860.4 L688.8,872.7 L683.8,887.5 L671.5,902.3 L659.2,914.6 L651.8,926.9 L646.9,941.7 L636.4,962.9 L625.5,976.0 L614.6,986.9 L605.8,993.5 L597.1,1002.2 L590.6,1015.3 L581.8,1030.6 L570.9,1037.1 L568.7,1032.7 L566.6,1019.6 L573.1,1015.3 L574.2,1009.8 L568.7,1006.6 L562.2,995.6 L549.1,986.9 L538.2,976.0 L527.3,971.6 L516.4,962.9 L510.9,968.4 L507.6,961.8 L498.9,954.2 L488.0,943.3 L477.1,949.8 L470.5,945.5 L479.3,934.5 L494.5,921.5 L505.5,908.4 L514.2,896.4 L522.9,888.7 L531.6,880.0 L533.6,877.6 L543.4,872.7 L554.5,865.3 L560.7,862.9 L561.9,853.0 L560.7,840.7 L557.0,829.6 L550.8,824.7 L543.4,825.9 L545.9,806.2 L548.4,793.9 L545.9,784.0 L539.8,778.6 L531.1,780.3 L521.3,780.3 L517.6,769.3 L515.1,756.9 L511.4,744.6 L505.3,738.5 L493.0,736.0 L484.3,739.7 L472.0,736.0 L458.5,732.3 L457.2,720.0 L459.8,709.1 L457.3,699.2 L451.6,684.4 L455.6,678.3 L453.1,674.6 L454.8,664.7 L461.0,652.4 L462.2,640.1 L465.9,633.9 L462.2,627.8 L459.8,619.2 L456.1,615.5 L445.0,605.6 L441.3,593.3 L441.3,584.7 L397.4,583.9 L395.7,565.0 L386.6,554.6 L392.0,553.9 L393.3,549.0 L390.8,537.9 L389.6,525.6 L380.9,519.4 L368.5,513.7 L353.7,513.7 L343.9,506.3 L331.6,502.6 L321.7,497.7 L311.9,494.0 L302.0,487.8 L288.5,489.1 L279.9,484.1 L270.0,476.7 L263.8,466.9 L257.7,454.6 L257.7,430.0 L255.2,417.6 L250.3,418.9 L236.7,418.9 L224.4,421.3 L217.0,427.5 L207.2,433.6 L196.1,444.2 L182.6,448.4 L172.7,457.0 L157.9,453.3 L140.7,453.3 L129.6,457.0 L119.8,453.3 L118.5,414.7 L98.3,430.0 L77.9,430.7 L73.0,421.3 L64.3,417.6 L49.6,416.4 L54.5,409.0 L53.3,402.9 L45.9,394.2 L38.5,385.6 L38.5,380.7 L34.8,373.3 L29.9,370.8 L26.2,365.4 L31.1,363.4 L32.8,357.3 L31.8,348.7 L34.8,343.7 L42.2,341.3 L47.6,332.7 L44.1,326.5 L48.3,321.6 L50.8,309.3 L54.5,299.4 L69.3,290.8 L84.0,283.4 L98.8,278.5 L108.7,272.3 L121.0,272.8 L125.9,277.2 L132.1,276.0 L132.1,276.2 L137.7,236.7 L142.7,210.9 L144.4,190.0 L140.2,182.6 L138.2,173.9 L127.1,164.1 L127.1,146.8 L140.7,141.9 L148.1,142.4 L150.0,138.2 L148.1,132.1 L133.8,129.6Z" fill="none" stroke="#8f8f8f" stroke-width="0.9" stroke-linejoin="round"/>
<path d="M624.4,43.4 L630.5,48.3 L635.5,59.4 L639.2,76.7 L645.3,93.9 L650.2,105.0 L657.6,109.9 L665.0,114.8 L668.7,121.0 L667.5,128.4 L662.6,133.3 L666.3,143.2 L672.4,148.1 L679.8,154.2 L684.7,160.4 L697.0,162.9 L706.9,165.3 L709.4,171.5 L714.3,177.6 L726.6,173.9 L741.4,177.6 L756.2,183.8 L769.7,190.0 L776.9,194.6 L788.0,200.8 L789.3,205.7 L793.0,200.8 L804.0,206.9 L811.4,219.3 L805.3,234.0 L803.5,243.9 L807.7,239.0 L812.7,225.4 L816.4,223.0 L821.3,225.4 L817.6,232.8 L822.5,227.9 L825.0,224.2 L838.5,219.3 L850.8,225.4 L865.6,230.3 L880.4,234.5 L895.2,237.7 L912.4,236.0 L927.2,236.5 L937.0,240.2 L949.4,248.8 L961.7,257.4 L974.0,264.8 L986.3,273.4 L996.2,282.1 L1004.8,290.7 L1016.9,297.3 L1029.7,296.0 L1043.7,297.3 L1054.0,303.7 L1059.1,316.5 L1062.1,331.9 L1064.7,352.3 L1064.7,370.2 L1062.9,383.0 L1056.5,400.9 L1048.8,413.7 L1036.1,426.5 L1022.0,439.3 L1007.9,450.8 L996.4,462.3 L990.0,472.6 L984.9,485.4 L974.3,496.1 L964.4,507.1 L959.5,509.6 L955.8,504.7 L952.1,504.7 L954.6,510.8 L947.2,518.2 L944.7,533.0 L943.5,547.8 L944.7,567.5 L943.5,587.2 L938.6,604.4 L933.6,621.7 L930.0,634.0 L922.6,643.8 L919.2,652.3 L916.7,669.6 L911.8,684.3 L902.0,699.1 L889.7,713.9 L881.0,728.7 L877.3,738.5 L870.0,748.4 L857.6,755.8 L853.9,765.6 L845.3,768.1 L833.0,765.6 L824.4,764.4 L822.7,758.2 L820.7,764.4 L815.8,766.8 L803.4,765.6 L793.6,768.1 L786.2,770.5 L781.3,774.2 L771.4,782.9 L769.0,787.8 L765.3,786.6 L756.7,785.3 L746.8,787.8 L736.9,792.7 L724.6,800.1 L712.3,810.0 L700.0,819.8 L691.2,823.4 L686.3,835.8 L683.8,848.1 L685.1,860.4 L688.8,872.7 L683.8,887.5 L671.5,902.3 L659.2,914.6 L651.8,926.9 L646.9,941.7 L636.4,962.9 L625.5,976.0 L614.6,986.9 L605.8,993.5 L597.1,1002.2 L590.6,1015.3 L581.8,1030.6 L570.9,1037.1" fill="none" stroke="#6f8fa8" stroke-width="0.7" stroke-linejoin="round"/>
<!-- lines -->
<path d="M27.5,158.4H1031" stroke="#111" stroke-width="1.2" stroke-dasharray="8 3.3" fill="none"/>
<path d="M281.3,773.6H989.5" stroke="#111" stroke-width="1.2" stroke-dasharray="8 3.3" fill="none"/>
<text x="29.9" y="148.6" font-size="18.5" text-anchor="start" fill="#111" textLength="56" lengthAdjust="spacingAndGlyphs" stroke="#111" stroke-width="0.32">Équateur</text>
<text x="281.8" y="765.5" font-size="18.5" text-anchor="start" fill="#111" textLength="148" lengthAdjust="spacingAndGlyphs" stroke="#111" stroke-width="0.32">Tropique du Capricorne</text>
<text x="378.2" y="790.5" font-size="14.8" text-anchor="start" fill="#111" textLength="28" lengthAdjust="spacingAndGlyphs" stroke="#111" stroke-width="0.32">60°W</text>
<text x="900" y="795.7" font-size="14.8" text-anchor="start" fill="#111" textLength="29" lengthAdjust="spacingAndGlyphs" stroke="#111" stroke-width="0.32">40°W</text>
<path d="M390,800v8.7M914.4,804.5v8.5" stroke="#8a8a8a" stroke-width="1.2" fill="none"/>
<!-- north arrow -->
<text x="1073.3" y="32.9" font-size="21.5" text-anchor="start" fill="#555" textLength="11.4" lengthAdjust="spacingAndGlyphs" >N</text>
<path d="M1079.1,36.3 L1084.6,56.9 Q1079.1,53.8 1073.6,56.9Z" fill="#555"/>
<!-- scale -->
<rect x="893" y="958.8" width="131" height="3.6" fill="#4d4d4d"/>
<text x="960" y="955" font-size="18.5" text-anchor="middle" fill="#4d4d4d" textLength="64" lengthAdjust="spacingAndGlyphs" >500 km</text>
<!-- logo -->
<g transform="translate(1030,900) scale(0.06631)">
<rect x="105" y="88" width="755" height="752" fill="#00a5a5"/>
<path fill="#fff" d="M225,80 L370,80 C350,180 400,290 480,350 L400,435 C330,390 200,400 150,480 C110,560 130,680 230,722 L350,722 L350,630 L250,630 L250,525 L500,525 L500,790 C480,800 430,820 390,848 L95,848 L95,312 C160,290 220,275 250,270 C230,220 220,150 225,80 Z"/>
</g>
<text x="1066" y="955.7" font-size="17.6" font-weight="bold" fill="#fff" textLength="21" lengthAdjust="spacingAndGlyphs">éo</text>
<text x="1038" y="964" font-size="9.6" fill="#00a5a5" textLength="49" lengthAdjust="spacingAndGlyphs">confluences</text>
<!-- credits -->
<text x="1087.5" y="985.8" font-size="14.3" text-anchor="end" fill="#4d4d4d" textLength="193" lengthAdjust="spacingAndGlyphs" >Source : Anuário estatístico IBGE</text>
<text x="1087.5" y="1003.7" font-size="14.3" text-anchor="end" fill="#4d4d4d" textLength="268" lengthAdjust="spacingAndGlyphs" >Licence C.C. 4.0 non commerciale (BY NC SA)</text>
<text x="1087.5" y="1021.5" font-size="14.3" text-anchor="end" fill="#4d4d4d" textLength="377" lengthAdjust="spacingAndGlyphs" >Réalisation : Hervé Théry et Neli Aparecida de Mello-Théry 2014</text>
<text x="1087.5" y="1039.3" font-size="14.3" text-anchor="end" fill="#4d4d4d" textLength="131" lengthAdjust="spacingAndGlyphs" >Géoconfluences, 2024</text>
<!-- legend -->
<text x="29.3" y="601.6" font-size="19.7" text-anchor="start" fill="#111" textLength="176.5" lengthAdjust="spacingAndGlyphs" stroke="#111" stroke-width="0.5">Climats hyperhumides</text>
<rect x="29.25" y="615.55" width="42.5" height="19" fill="#5b2583" stroke="#8a8a8a" stroke-width="0.6"/>
<text x="80.5" y="631.3" font-size="18.4" text-anchor="start" fill="#111" textLength="20" lengthAdjust="spacingAndGlyphs" stroke="#111" stroke-width="0.25">A5</text>
<rect x="29.25" y="643.15" width="42.5" height="19" fill="#954b97" stroke="#8a8a8a" stroke-width="0.6"/>
<text x="80.5" y="658.9" font-size="18.4" text-anchor="start" fill="#111" textLength="20" lengthAdjust="spacingAndGlyphs" stroke="#111" stroke-width="0.25">A4</text>
<rect x="29.25" y="670.65" width="42.5" height="19" fill="#b97bb3" stroke="#8a8a8a" stroke-width="0.6"/>
<text x="80.5" y="686.4" font-size="18.4" text-anchor="start" fill="#111" textLength="20" lengthAdjust="spacingAndGlyphs" stroke="#111" stroke-width="0.25">A3</text>
<rect x="29.25" y="698.15" width="42.5" height="19" fill="#dcbedd" stroke="#8a8a8a" stroke-width="0.6"/>
<text x="80.5" y="713.9" font-size="18.4" text-anchor="start" fill="#111" textLength="20" lengthAdjust="spacingAndGlyphs" stroke="#111" stroke-width="0.25">A2</text>
<rect x="29.25" y="725.55" width="42.5" height="19" fill="#dddaec" stroke="#8a8a8a" stroke-width="0.6"/>
<text x="80.5" y="741.3" font-size="18.4" text-anchor="start" fill="#111" textLength="18" lengthAdjust="spacingAndGlyphs" stroke="#111" stroke-width="0.25">A1</text>
<text x="29.3" y="775.1" font-size="19.7" text-anchor="start" fill="#111" textLength="132.5" lengthAdjust="spacingAndGlyphs" stroke="#111" stroke-width="0.5">Climats humides</text>
<rect x="29.25" y="789.75" width="42.5" height="19" fill="#00a5a5" stroke="#8a8a8a" stroke-width="0.6"/>
<text x="80.5" y="805.5" font-size="18.4" text-anchor="start" fill="#111" textLength="20.5" lengthAdjust="spacingAndGlyphs" stroke="#111" stroke-width="0.25">B4</text>
<rect x="29.25" y="817.25" width="42.5" height="19" fill="#66c0be" stroke="#8a8a8a" stroke-width="0.6"/>
<text x="80.5" y="833" font-size="18.4" text-anchor="start" fill="#111" textLength="20.5" lengthAdjust="spacingAndGlyphs" stroke="#111" stroke-width="0.25">B3</text>
<rect x="29.25" y="844.65" width="42.5" height="19" fill="#a5d6d5" stroke="#8a8a8a" stroke-width="0.6"/>
<text x="80.5" y="860.4" font-size="18.4" text-anchor="start" fill="#111" textLength="20.5" lengthAdjust="spacingAndGlyphs" stroke="#111" stroke-width="0.25">B2</text>
<rect x="29.25" y="872.05" width="42.5" height="19" fill="#d5ebe9" stroke="#8a8a8a" stroke-width="0.6"/>
<text x="80.5" y="887.8" font-size="18.4" text-anchor="start" fill="#111" textLength="18.5" lengthAdjust="spacingAndGlyphs" stroke="#111" stroke-width="0.25">B1</text>
<text x="29.3" y="921.2" font-size="19.7" text-anchor="start" fill="#111" textLength="101" lengthAdjust="spacingAndGlyphs" stroke="#111" stroke-width="0.5">Climats secs</text>
<rect x="29.25" y="937.05" width="42.5" height="19" fill="#fff285" stroke="#8a8a8a" stroke-width="0.6"/>
<text x="80.5" y="952.8" font-size="18.4" text-anchor="start" fill="#111" textLength="20" lengthAdjust="spacingAndGlyphs" stroke="#111" stroke-width="0.25">C2</text>
<path d="M106.6,946.8h12.3" stroke="#111" stroke-width="1.3" fill="none"/>
<text x="124.5" y="952.8" font-size="18.4" text-anchor="start" fill="#111" textLength="87.8" lengthAdjust="spacingAndGlyphs" stroke="#111" stroke-width="0.25">subhumide</text>
<rect x="29.25" y="964.45" width="42.5" height="19" fill="#fcc877" stroke="#8a8a8a" stroke-width="0.6"/>
<text x="80.5" y="980.2" font-size="18.4" text-anchor="start" fill="#111" textLength="18" lengthAdjust="spacingAndGlyphs" stroke="#111" stroke-width="0.25">C1</text>
<path d="M106.6,974.2h12.3" stroke="#111" stroke-width="1.3" fill="none"/>
<text x="124.5" y="980.2" font-size="18.4" text-anchor="start" fill="#111" textLength="27.1" lengthAdjust="spacingAndGlyphs" stroke="#111" stroke-width="0.25">sec</text>
<rect x="29.25" y="991.75" width="42.5" height="19" fill="#f29540" stroke="#8a8a8a" stroke-width="0.6"/>
<text x="80.5" y="1007.5" font-size="18.4" text-anchor="start" fill="#111" textLength="10.5" lengthAdjust="spacingAndGlyphs" stroke="#111" stroke-width="0.25">D</text>
<path d="M106.6,1001.5h12.3" stroke="#111" stroke-width="1.3" fill="none"/>
<text x="124.5" y="1007.5" font-size="18.4" text-anchor="start" fill="#111" textLength="85.2" lengthAdjust="spacingAndGlyphs" stroke="#111" stroke-width="0.25">semi-aride</text>
<rect x="29.25" y="1019.25" width="42.5" height="19" fill="#e8500f" stroke="#8a8a8a" stroke-width="0.6"/>
<text x="80.5" y="1035" font-size="18.4" text-anchor="start" fill="#111" textLength="9.5" lengthAdjust="spacingAndGlyphs" stroke="#111" stroke-width="0.25">E</text>
<path d="M104,1029h12.3" stroke="#111" stroke-width="1.3" fill="none"/>
<text x="121.9" y="1035" font-size="18.4" text-anchor="start" fill="#111" textLength="38.6" lengthAdjust="spacingAndGlyphs" stroke="#111" stroke-width="0.25">aride</text>
<!-- frame -->
<rect x="14.5" y="11.5" width="1079" height="1036" fill="none" stroke="#5f5858" stroke-width="1.1" rx="1"/>
</svg>
</body></html>
